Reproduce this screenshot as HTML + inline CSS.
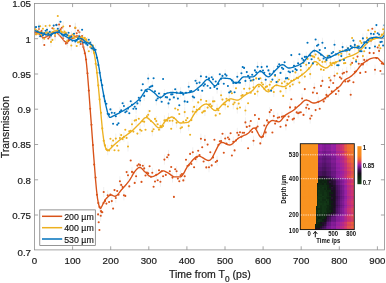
<!DOCTYPE html><html><head><meta charset="utf-8"><title>Transmission vs time</title><style>html,body{margin:0;padding:0;background:#fff}body{width:386px;height:283px;overflow:hidden}</style></head><body><svg width="386" height="283" viewBox="0 0 386 283" style="display:block;font-family:'Liberation Sans',Arial,sans-serif"><rect width="386" height="283" fill="#fff"/><defs><clipPath id="cp"><rect x="34.5" y="3.45" width="350.0" height="246.85000000000002"/></clipPath></defs><g clip-path="url(#cp)"><path d="M34.8 27.3V37.3M38.9 24.0V34.0M42.9 32.8V42.8M47.0 28.1V38.1M51.0 29.7V39.7M55.1 31.0V41.0M59.1 19.5V29.5M63.2 33.3V43.3M67.2 37.9V47.9M71.3 30.9V40.9M75.3 23.0V33.0M79.4 27.3V37.3M83.4 42.0V52.0M87.5 68.3V78.3M91.5 119.7V129.7M95.6 172.5V182.5M99.6 201.9V211.9M103.7 187.0V197.0M107.7 190.3V200.3M111.8 196.1V206.1M115.8 193.0V203.0M119.9 176.2V186.2M123.9 190.3V200.3M128.0 170.2V180.2M132.0 166.9V176.9M136.1 171.2V181.2M140.1 160.1V170.1M144.2 163.4V173.4M148.2 168.3V178.3M152.3 167.7V177.7M156.3 169.7V179.7M160.4 176.7V186.7M164.4 154.6V164.6M168.5 149.9V159.9M172.5 172.6V182.6M176.6 166.2V176.2M180.6 170.2V180.2M184.7 171.3V181.3M188.7 160.3V170.3M192.8 147.3V157.3M196.8 152.3V162.3M200.9 133.7V143.7M204.9 134.9V144.9M209.0 162.3V172.3M213.0 152.4V162.4M217.1 155.9V165.9M221.1 136.1V146.1M225.2 133.5V143.5M229.2 134.3V144.3M233.3 136.7V146.7M237.3 127.8V137.8M241.4 131.7V141.7M245.4 117.4V127.4M249.5 121.0V131.0M253.5 135.8V145.8M257.6 121.5V131.5M261.6 132.3V142.3M265.7 127.4V137.4M269.7 107.1V117.1M273.8 111.1V121.1M277.8 112.7V122.7M281.9 111.8V121.8M285.9 120.4V130.4M290.0 102.4V112.4M294.0 113.5V123.5M298.1 108.3V118.3M302.1 93.5V103.5M306.2 102.8V112.8M310.2 113.6V123.6M314.3 82.8V92.8M318.3 96.7V106.7M322.4 75.9V85.9M326.4 89.9V99.9M330.5 75.4V85.4M334.5 70.8V80.8M338.6 86.0V96.0M342.6 68.6V78.6M346.7 66.8V76.8M350.7 89.7V99.7M354.8 67.1V77.1M358.8 58.7V68.7M362.9 59.4V69.4M366.9 55.5V65.5M371.0 35.7V45.7M375.0 64.8V74.8M379.1 45.9V55.9M383.1 58.8V68.8M100.7 210.7V220.7M101.6 207.0V217.0" stroke="#d8d8d8" stroke-width="0.5" fill="none" opacity="0.7"/><g fill="#D95319"><circle cx="34.8" cy="32.3" r="1.05"/><circle cx="36.1" cy="34.3" r="1.05"/><circle cx="37.5" cy="31.7" r="1.05"/><circle cx="38.9" cy="29.0" r="1.05"/><circle cx="40.2" cy="32.4" r="1.05"/><circle cx="41.6" cy="30.9" r="1.05"/><circle cx="42.9" cy="37.8" r="1.05"/><circle cx="44.3" cy="45.0" r="1.05"/><circle cx="45.6" cy="34.5" r="1.05"/><circle cx="47.0" cy="33.1" r="1.05"/><circle cx="48.3" cy="38.5" r="1.05"/><circle cx="49.7" cy="37.0" r="1.05"/><circle cx="51.0" cy="34.7" r="1.05"/><circle cx="52.4" cy="28.2" r="1.05"/><circle cx="53.7" cy="32.4" r="1.05"/><circle cx="55.1" cy="36.0" r="1.05"/><circle cx="56.4" cy="25.1" r="1.05"/><circle cx="57.8" cy="31.0" r="1.05"/><circle cx="59.1" cy="24.5" r="1.05"/><circle cx="60.5" cy="29.4" r="1.05"/><circle cx="61.8" cy="27.8" r="1.05"/><circle cx="63.2" cy="38.3" r="1.05"/><circle cx="64.5" cy="34.2" r="1.05"/><circle cx="65.9" cy="43.6" r="1.05"/><circle cx="67.2" cy="42.9" r="1.05"/><circle cx="68.6" cy="40.1" r="1.05"/><circle cx="69.9" cy="26.1" r="1.05"/><circle cx="71.3" cy="35.9" r="1.05"/><circle cx="72.6" cy="37.8" r="1.05"/><circle cx="74.0" cy="37.8" r="1.05"/><circle cx="75.3" cy="28.0" r="1.05"/><circle cx="76.7" cy="33.3" r="1.05"/><circle cx="78.0" cy="30.6" r="1.05"/><circle cx="79.4" cy="32.3" r="1.05"/><circle cx="80.7" cy="44.0" r="1.05"/><circle cx="82.1" cy="36.0" r="1.05"/><circle cx="83.4" cy="47.0" r="1.05"/><circle cx="84.8" cy="53.2" r="1.05"/><circle cx="86.1" cy="59.5" r="1.05"/><circle cx="87.5" cy="73.3" r="1.05"/><circle cx="88.8" cy="90.6" r="1.05"/><circle cx="90.2" cy="108.8" r="1.05"/><circle cx="91.5" cy="124.7" r="1.05"/><circle cx="92.9" cy="145.0" r="1.05"/><circle cx="94.2" cy="164.6" r="1.05"/><circle cx="95.6" cy="177.5" r="1.05"/><circle cx="96.9" cy="194.8" r="1.05"/><circle cx="98.3" cy="203.0" r="1.05"/><circle cx="99.6" cy="206.9" r="1.05"/><circle cx="101.0" cy="211.1" r="1.05"/><circle cx="102.3" cy="212.2" r="1.05"/><circle cx="103.7" cy="192.0" r="1.05"/><circle cx="105.0" cy="200.9" r="1.05"/><circle cx="106.4" cy="203.6" r="1.05"/><circle cx="107.7" cy="195.3" r="1.05"/><circle cx="109.1" cy="202.0" r="1.05"/><circle cx="110.4" cy="194.5" r="1.05"/><circle cx="111.8" cy="201.1" r="1.05"/><circle cx="113.1" cy="208.6" r="1.05"/><circle cx="114.5" cy="190.1" r="1.05"/><circle cx="115.8" cy="198.0" r="1.05"/><circle cx="117.2" cy="191.0" r="1.05"/><circle cx="118.5" cy="194.8" r="1.05"/><circle cx="119.9" cy="181.2" r="1.05"/><circle cx="121.2" cy="184.9" r="1.05"/><circle cx="122.6" cy="186.9" r="1.05"/><circle cx="123.9" cy="195.3" r="1.05"/><circle cx="125.3" cy="195.9" r="1.05"/><circle cx="126.6" cy="172.1" r="1.05"/><circle cx="128.0" cy="175.2" r="1.05"/><circle cx="129.3" cy="186.4" r="1.05"/><circle cx="130.7" cy="160.5" r="1.05"/><circle cx="132.0" cy="171.9" r="1.05"/><circle cx="133.4" cy="172.8" r="1.05"/><circle cx="134.7" cy="182.9" r="1.05"/><circle cx="136.1" cy="176.2" r="1.05"/><circle cx="137.4" cy="165.6" r="1.05"/><circle cx="138.8" cy="164.2" r="1.05"/><circle cx="140.1" cy="165.1" r="1.05"/><circle cx="141.5" cy="181.9" r="1.05"/><circle cx="142.8" cy="165.8" r="1.05"/><circle cx="144.2" cy="168.4" r="1.05"/><circle cx="145.5" cy="175.5" r="1.05"/><circle cx="146.9" cy="172.6" r="1.05"/><circle cx="148.2" cy="173.3" r="1.05"/><circle cx="149.6" cy="166.2" r="1.05"/><circle cx="150.9" cy="176.7" r="1.05"/><circle cx="152.3" cy="172.7" r="1.05"/><circle cx="153.6" cy="186.8" r="1.05"/><circle cx="155.0" cy="181.5" r="1.05"/><circle cx="156.3" cy="174.7" r="1.05"/><circle cx="157.7" cy="180.2" r="1.05"/><circle cx="159.0" cy="170.3" r="1.05"/><circle cx="160.4" cy="181.7" r="1.05"/><circle cx="161.7" cy="171.2" r="1.05"/><circle cx="163.1" cy="176.2" r="1.05"/><circle cx="164.4" cy="159.6" r="1.05"/><circle cx="165.8" cy="174.9" r="1.05"/><circle cx="167.1" cy="157.3" r="1.05"/><circle cx="168.5" cy="154.9" r="1.05"/><circle cx="169.8" cy="171.3" r="1.05"/><circle cx="171.2" cy="167.0" r="1.05"/><circle cx="172.5" cy="177.6" r="1.05"/><circle cx="173.9" cy="196.9" r="1.05"/><circle cx="175.2" cy="169.3" r="1.05"/><circle cx="176.6" cy="171.2" r="1.05"/><circle cx="177.9" cy="178.6" r="1.05"/><circle cx="179.3" cy="181.2" r="1.05"/><circle cx="180.6" cy="175.2" r="1.05"/><circle cx="182.0" cy="174.1" r="1.05"/><circle cx="183.3" cy="180.4" r="1.05"/><circle cx="184.7" cy="176.3" r="1.05"/><circle cx="186.0" cy="159.7" r="1.05"/><circle cx="187.4" cy="166.0" r="1.05"/><circle cx="188.7" cy="165.3" r="1.05"/><circle cx="190.1" cy="153.9" r="1.05"/><circle cx="191.4" cy="164.0" r="1.05"/><circle cx="192.8" cy="152.3" r="1.05"/><circle cx="194.1" cy="167.3" r="1.05"/><circle cx="195.5" cy="159.1" r="1.05"/><circle cx="196.8" cy="157.3" r="1.05"/><circle cx="198.2" cy="150.8" r="1.05"/><circle cx="199.5" cy="155.1" r="1.05"/><circle cx="200.9" cy="138.7" r="1.05"/><circle cx="202.2" cy="147.2" r="1.05"/><circle cx="203.6" cy="161.5" r="1.05"/><circle cx="204.9" cy="139.9" r="1.05"/><circle cx="206.3" cy="167.4" r="1.05"/><circle cx="207.6" cy="144.6" r="1.05"/><circle cx="209.0" cy="167.3" r="1.05"/><circle cx="210.3" cy="152.3" r="1.05"/><circle cx="211.7" cy="165.4" r="1.05"/><circle cx="213.0" cy="157.4" r="1.05"/><circle cx="214.4" cy="139.7" r="1.05"/><circle cx="215.7" cy="162.0" r="1.05"/><circle cx="217.1" cy="160.9" r="1.05"/><circle cx="218.4" cy="144.9" r="1.05"/><circle cx="219.8" cy="141.2" r="1.05"/><circle cx="221.1" cy="141.1" r="1.05"/><circle cx="222.5" cy="133.7" r="1.05"/><circle cx="223.8" cy="152.7" r="1.05"/><circle cx="225.2" cy="138.5" r="1.05"/><circle cx="226.5" cy="143.6" r="1.05"/><circle cx="227.9" cy="137.5" r="1.05"/><circle cx="229.2" cy="139.3" r="1.05"/><circle cx="230.6" cy="133.3" r="1.05"/><circle cx="231.9" cy="155.5" r="1.05"/><circle cx="233.3" cy="141.7" r="1.05"/><circle cx="234.6" cy="150.4" r="1.05"/><circle cx="236.0" cy="140.5" r="1.05"/><circle cx="237.3" cy="132.8" r="1.05"/><circle cx="238.7" cy="135.1" r="1.05"/><circle cx="240.0" cy="132.2" r="1.05"/><circle cx="241.4" cy="136.7" r="1.05"/><circle cx="242.7" cy="132.7" r="1.05"/><circle cx="244.1" cy="132.7" r="1.05"/><circle cx="245.4" cy="122.4" r="1.05"/><circle cx="246.8" cy="126.9" r="1.05"/><circle cx="248.1" cy="148.2" r="1.05"/><circle cx="249.5" cy="126.0" r="1.05"/><circle cx="250.8" cy="121.0" r="1.05"/><circle cx="252.2" cy="132.1" r="1.05"/><circle cx="253.5" cy="140.8" r="1.05"/><circle cx="254.9" cy="115.1" r="1.05"/><circle cx="256.2" cy="127.9" r="1.05"/><circle cx="257.6" cy="126.5" r="1.05"/><circle cx="258.9" cy="118.9" r="1.05"/><circle cx="260.3" cy="143.4" r="1.05"/><circle cx="261.6" cy="137.3" r="1.05"/><circle cx="263.0" cy="136.5" r="1.05"/><circle cx="264.3" cy="125.5" r="1.05"/><circle cx="265.7" cy="132.4" r="1.05"/><circle cx="267.0" cy="120.4" r="1.05"/><circle cx="268.4" cy="122.3" r="1.05"/><circle cx="269.7" cy="112.1" r="1.05"/><circle cx="271.1" cy="110.0" r="1.05"/><circle cx="272.4" cy="132.5" r="1.05"/><circle cx="273.8" cy="116.1" r="1.05"/><circle cx="275.1" cy="123.6" r="1.05"/><circle cx="276.5" cy="121.1" r="1.05"/><circle cx="277.8" cy="117.7" r="1.05"/><circle cx="279.2" cy="117.2" r="1.05"/><circle cx="280.5" cy="126.7" r="1.05"/><circle cx="281.9" cy="116.8" r="1.05"/><circle cx="283.2" cy="116.3" r="1.05"/><circle cx="284.6" cy="116.2" r="1.05"/><circle cx="285.9" cy="125.4" r="1.05"/><circle cx="287.3" cy="120.1" r="1.05"/><circle cx="288.6" cy="116.6" r="1.05"/><circle cx="290.0" cy="107.4" r="1.05"/><circle cx="291.3" cy="99.2" r="1.05"/><circle cx="292.7" cy="119.4" r="1.05"/><circle cx="294.0" cy="118.5" r="1.05"/><circle cx="295.4" cy="107.4" r="1.05"/><circle cx="296.7" cy="112.4" r="1.05"/><circle cx="298.1" cy="113.3" r="1.05"/><circle cx="299.4" cy="112.6" r="1.05"/><circle cx="300.8" cy="112.3" r="1.05"/><circle cx="302.1" cy="98.5" r="1.05"/><circle cx="303.5" cy="114.9" r="1.05"/><circle cx="304.8" cy="89.1" r="1.05"/><circle cx="306.2" cy="107.8" r="1.05"/><circle cx="307.5" cy="104.7" r="1.05"/><circle cx="308.9" cy="108.7" r="1.05"/><circle cx="310.2" cy="118.6" r="1.05"/><circle cx="311.6" cy="115.7" r="1.05"/><circle cx="312.9" cy="92.6" r="1.05"/><circle cx="314.3" cy="87.8" r="1.05"/><circle cx="315.6" cy="110.1" r="1.05"/><circle cx="317.0" cy="93.2" r="1.05"/><circle cx="318.3" cy="101.7" r="1.05"/><circle cx="319.7" cy="108.8" r="1.05"/><circle cx="321.0" cy="85.9" r="1.05"/><circle cx="322.4" cy="80.9" r="1.05"/><circle cx="323.7" cy="101.4" r="1.05"/><circle cx="325.1" cy="98.5" r="1.05"/><circle cx="326.4" cy="94.9" r="1.05"/><circle cx="327.8" cy="96.4" r="1.05"/><circle cx="329.1" cy="87.3" r="1.05"/><circle cx="330.5" cy="80.4" r="1.05"/><circle cx="331.8" cy="91.4" r="1.05"/><circle cx="333.2" cy="83.0" r="1.05"/><circle cx="334.5" cy="75.8" r="1.05"/><circle cx="335.9" cy="94.0" r="1.05"/><circle cx="337.2" cy="87.8" r="1.05"/><circle cx="338.6" cy="91.0" r="1.05"/><circle cx="339.9" cy="77.2" r="1.05"/><circle cx="341.3" cy="78.6" r="1.05"/><circle cx="342.6" cy="73.6" r="1.05"/><circle cx="344.0" cy="72.8" r="1.05"/><circle cx="345.3" cy="81.4" r="1.05"/><circle cx="346.7" cy="71.8" r="1.05"/><circle cx="348.0" cy="81.4" r="1.05"/><circle cx="349.4" cy="80.5" r="1.05"/><circle cx="350.7" cy="94.7" r="1.05"/><circle cx="352.1" cy="62.9" r="1.05"/><circle cx="353.4" cy="82.2" r="1.05"/><circle cx="354.8" cy="72.1" r="1.05"/><circle cx="356.1" cy="71.3" r="1.05"/><circle cx="357.5" cy="56.6" r="1.05"/><circle cx="358.8" cy="63.7" r="1.05"/><circle cx="360.2" cy="72.9" r="1.05"/><circle cx="361.5" cy="64.1" r="1.05"/><circle cx="362.9" cy="64.4" r="1.05"/><circle cx="364.2" cy="59.9" r="1.05"/><circle cx="365.6" cy="72.0" r="1.05"/><circle cx="366.9" cy="60.5" r="1.05"/><circle cx="368.3" cy="40.1" r="1.05"/><circle cx="369.6" cy="52.9" r="1.05"/><circle cx="371.0" cy="40.7" r="1.05"/><circle cx="372.3" cy="28.8" r="1.05"/><circle cx="373.7" cy="53.1" r="1.05"/><circle cx="375.0" cy="69.8" r="1.05"/><circle cx="376.4" cy="58.1" r="1.05"/><circle cx="377.7" cy="47.5" r="1.05"/><circle cx="379.1" cy="50.9" r="1.05"/><circle cx="380.4" cy="71.0" r="1.05"/><circle cx="381.8" cy="63.5" r="1.05"/><circle cx="383.1" cy="63.8" r="1.05"/><circle cx="384.5" cy="64.3" r="1.05"/><circle cx="98.1" cy="214.4" r="1.05"/><circle cx="100.7" cy="215.7" r="1.05"/><circle cx="98.7" cy="222.2" r="1.05"/><circle cx="99.4" cy="230.0" r="1.05"/><circle cx="101.6" cy="212.0" r="1.05"/><circle cx="103.5" cy="203.0" r="1.05"/><circle cx="105.0" cy="200.5" r="1.05"/></g><path d="M34.5 32.2 L35.5 32.4 L36.5 32.8 L37.5 33.2 L38.5 33.7 L39.5 34.3 L40.5 35.2 L41.5 36.3 L42.5 37.3 L43.5 37.7 L44.5 37.6 L45.5 37.2 L46.5 36.7 L47.5 36.2 L48.5 35.7 L49.5 35.1 L50.5 34.5 L51.5 33.8 L52.5 33.2 L53.5 32.7 L54.5 32.3 L55.5 32.2 L56.5 32.5 L57.5 33.3 L58.5 34.3 L59.5 35.4 L60.5 36.5 L61.5 37.5 L62.5 38.8 L63.5 40.1 L64.5 41.2 L65.5 42.0 L66.5 42.2 L67.5 41.9 L68.5 41.2 L69.5 40.3 L70.5 39.5 L71.5 38.7 L72.5 38.1 L73.5 37.5 L74.5 36.8 L75.5 36.3 L76.5 36.0 L77.5 35.9 L78.5 36.2 L79.5 36.9 L80.5 37.9 L81.5 39.2 L82.5 42.5 L83.5 47.6 L84.5 51.0 L85.5 55.9 L86.5 63.7 L87.5 74.1 L88.5 86.4 L89.5 99.9 L90.5 113.4 L91.5 126.6 L92.5 140.1 L93.5 153.6 L94.5 166.4 L95.5 179.3 L96.5 190.0 L97.5 198.3 L98.5 203.9 L99.5 207.6 L100.5 208.6 L101.5 207.0 L102.5 205.0 L103.5 203.1 L104.5 201.1 L105.5 199.4 L106.5 198.2 L107.5 197.2 L108.5 196.2 L109.5 195.5 L110.5 195.1 L111.5 195.0 L112.5 195.4 L113.5 195.9 L114.5 196.2 L115.5 196.2 L116.5 195.7 L117.5 194.8 L118.5 193.6 L119.5 192.3 L120.5 191.0 L121.5 189.8 L122.5 188.7 L123.5 187.6 L124.5 186.5 L125.5 185.3 L126.5 184.2 L127.5 182.9 L128.5 181.6 L129.5 180.3 L130.5 178.7 L131.5 177.0 L132.5 175.2 L133.5 173.5 L134.5 171.9 L135.5 170.6 L136.5 169.5 L137.5 168.5 L138.5 167.7 L139.5 167.3 L140.5 167.5 L141.5 168.3 L142.5 169.3 L143.5 170.4 L144.5 171.4 L145.5 172.3 L146.5 173.3 L147.5 174.4 L148.5 175.4 L149.5 176.2 L150.5 176.7 L151.5 176.8 L152.5 176.6 L153.5 176.3 L154.5 175.9 L155.5 175.4 L156.5 174.8 L157.5 174.3 L158.5 173.7 L159.5 172.9 L160.5 172.1 L161.5 171.4 L162.5 170.9 L163.5 170.9 L164.5 171.2 L165.5 171.6 L166.5 172.2 L167.5 172.7 L168.5 173.2 L169.5 173.9 L170.5 174.6 L171.5 175.4 L172.5 176.1 L173.5 176.6 L174.5 176.8 L175.5 176.8 L176.5 176.8 L177.5 176.8 L178.5 176.8 L179.5 176.8 L180.5 176.8 L181.5 176.3 L182.5 175.2 L183.5 173.7 L184.5 171.9 L185.5 169.9 L186.5 168.1 L187.5 166.5 L188.5 165.2 L189.5 164.0 L190.5 162.8 L191.5 161.5 L192.5 160.3 L193.5 159.2 L194.5 158.2 L195.5 157.3 L196.5 156.7 L197.5 156.3 L198.5 156.1 L199.5 156.2 L200.5 156.5 L201.5 157.0 L202.5 157.6 L203.5 158.2 L204.5 158.8 L205.5 159.4 L206.5 159.9 L207.5 160.3 L208.5 160.5 L209.5 160.4 L210.5 159.7 L211.5 158.6 L212.5 157.1 L213.5 155.2 L214.5 153.2 L215.5 151.1 L216.5 149.1 L217.5 147.1 L218.5 145.3 L219.5 143.9 L220.5 142.9 L221.5 142.4 L222.5 142.5 L223.5 142.7 L224.5 143.1 L225.5 143.6 L226.5 144.1 L227.5 144.5 L228.5 144.9 L229.5 145.0 L230.5 144.9 L231.5 144.4 L232.5 143.7 L233.5 142.8 L234.5 141.8 L235.5 140.8 L236.5 139.8 L237.5 138.9 L238.5 138.1 L239.5 137.5 L240.5 137.0 L241.5 136.6 L242.5 136.1 L243.5 135.7 L244.5 135.2 L245.5 134.8 L246.5 134.3 L247.5 133.7 L248.5 133.0 L249.5 132.0 L250.5 130.8 L251.5 129.7 L252.5 128.7 L253.5 128.1 L254.5 128.0 L255.5 128.8 L256.5 130.2 L257.5 132.1 L258.5 134.0 L259.5 135.8 L260.5 137.0 L261.5 137.5 L262.5 136.7 L263.5 134.5 L264.5 131.7 L265.5 128.7 L266.5 126.2 L267.5 124.6 L268.5 123.4 L269.5 122.3 L270.5 121.3 L271.5 120.7 L272.5 120.5 L273.5 120.6 L274.5 120.8 L275.5 121.1 L276.5 121.4 L277.5 121.6 L278.5 121.8 L279.5 121.7 L280.5 121.0 L281.5 119.9 L282.5 118.6 L283.5 117.3 L284.5 116.1 L285.5 115.1 L286.5 114.4 L287.5 113.8 L288.5 113.2 L289.5 112.7 L290.5 112.1 L291.5 111.5 L292.5 110.9 L293.5 110.2 L294.5 109.4 L295.5 108.6 L296.5 107.7 L297.5 106.8 L298.5 105.9 L299.5 105.1 L300.5 104.2 L301.5 103.2 L302.5 102.2 L303.5 101.3 L304.5 100.5 L305.5 100.1 L306.5 100.0 L307.5 100.3 L308.5 100.7 L309.5 101.2 L310.5 101.8 L311.5 102.4 L312.5 102.8 L313.5 103.0 L314.5 103.0 L315.5 102.8 L316.5 102.5 L317.5 102.2 L318.5 101.8 L319.5 101.3 L320.5 100.9 L321.5 100.4 L322.5 99.8 L323.5 99.2 L324.5 98.5 L325.5 97.8 L326.5 97.0 L327.5 96.2 L328.5 95.5 L329.5 94.7 L330.5 93.9 L331.5 93.1 L332.5 92.3 L333.5 91.4 L334.5 90.6 L335.5 89.7 L336.5 88.9 L337.5 88.1 L338.5 87.3 L339.5 86.5 L340.5 85.5 L341.5 84.1 L342.5 82.7 L343.5 81.4 L344.5 80.3 L345.5 79.5 L346.5 78.9 L347.5 78.4 L348.5 77.9 L349.5 77.3 L350.5 76.6 L351.5 75.9 L352.5 75.0 L353.5 74.1 L354.5 73.2 L355.5 72.1 L356.5 70.9 L357.5 69.6 L358.5 68.3 L359.5 67.0 L360.5 65.8 L361.5 64.8 L362.5 63.9 L363.5 63.1 L364.5 62.3 L365.5 61.6 L366.5 61.0 L367.5 60.4 L368.5 59.7 L369.5 59.1 L370.5 58.6 L371.5 58.3 L372.5 58.1 L373.5 57.9 L374.5 57.8 L375.5 57.7 L376.5 57.7 L377.5 57.9 L378.5 58.7 L379.5 59.9 L380.5 60.9 L381.5 61.8 L382.5 62.8 L383.5 63.8 L384.5 64.8" fill="none" stroke="#D95319" stroke-width="1.35" stroke-linejoin="round"/><path d="M34.8 24.0V34.0M38.9 27.7V37.7M42.9 23.8V33.8M47.0 27.3V37.3M51.0 36.9V46.9M55.1 30.0V40.0M59.1 27.0V37.0M63.2 21.5V31.5M67.2 36.0V46.0M71.3 40.5V50.5M75.3 22.6V32.6M79.4 36.9V46.9M83.4 34.1V44.1M87.5 37.0V47.0M91.5 40.2V50.2M95.6 58.7V68.7M99.6 94.4V104.4M103.7 135.7V145.7M107.7 145.2V155.2M111.8 140.8V150.8M115.8 133.6V143.6M119.9 133.0V143.0M123.9 131.9V141.9M128.0 141.5V151.5M132.0 119.3V129.3M136.1 115.1V125.1M140.1 124.7V134.7M144.2 116.8V126.8M148.2 109.7V119.7M152.3 126.2V136.2M156.3 116.0V126.0M160.4 121.1V131.1M164.4 115.4V125.4M168.5 112.9V122.9M172.5 115.7V125.7M176.6 117.8V127.8M180.6 123.3V133.3M184.7 107.1V117.1M188.7 120.9V130.9M192.8 106.6V116.6M196.8 104.8V114.8M200.9 94.7V104.7M204.9 106.0V116.0M209.0 99.5V109.5M213.0 96.4V106.4M217.1 103.7V113.7M221.1 90.2V100.2M225.2 99.6V109.6M229.2 95.6V105.6M233.3 99.3V109.3M237.3 103.6V113.6M241.4 90.7V100.7M245.4 105.5V115.5M249.5 83.6V93.6M253.5 82.2V92.2M257.6 86.5V96.5M261.6 77.7V87.7M265.7 82.1V92.1M269.7 79.7V89.7M273.8 87.0V97.0M277.8 76.5V86.5M281.9 78.2V88.2M285.9 83.3V93.3M290.0 81.3V91.3M294.0 74.7V84.7M298.1 72.9V82.9M302.1 69.5V79.5M306.2 59.7V69.7M310.2 69.1V79.1M314.3 52.1V62.1M318.3 53.4V63.4M322.4 56.9V66.9M326.4 55.4V65.4M330.5 57.9V67.9M334.5 58.6V68.6M338.6 49.8V59.8M342.6 46.0V56.0M346.7 46.3V56.3M350.7 59.6V69.6M354.8 42.6V52.6M358.8 45.0V55.0M362.9 51.1V61.1M366.9 32.9V42.9M371.0 35.2V45.2M375.0 26.7V36.7M379.1 40.4V50.4M383.1 24.3V34.3" stroke="#d8d8d8" stroke-width="0.5" fill="none" opacity="0.7"/><g fill="#EDB120"><circle cx="34.8" cy="29.0" r="1.05"/><circle cx="36.1" cy="34.3" r="1.05"/><circle cx="37.5" cy="33.8" r="1.05"/><circle cx="38.9" cy="32.7" r="1.05"/><circle cx="40.2" cy="26.3" r="1.05"/><circle cx="41.6" cy="35.1" r="1.05"/><circle cx="42.9" cy="28.8" r="1.05"/><circle cx="44.3" cy="38.8" r="1.05"/><circle cx="45.6" cy="26.0" r="1.05"/><circle cx="47.0" cy="32.3" r="1.05"/><circle cx="48.3" cy="33.1" r="1.05"/><circle cx="49.7" cy="25.6" r="1.05"/><circle cx="51.0" cy="41.9" r="1.05"/><circle cx="52.4" cy="39.9" r="1.05"/><circle cx="53.7" cy="28.7" r="1.05"/><circle cx="55.1" cy="35.0" r="1.05"/><circle cx="56.4" cy="32.5" r="1.05"/><circle cx="57.8" cy="16.0" r="1.05"/><circle cx="59.1" cy="32.0" r="1.05"/><circle cx="60.5" cy="30.8" r="1.05"/><circle cx="61.8" cy="32.2" r="1.05"/><circle cx="63.2" cy="26.5" r="1.05"/><circle cx="64.5" cy="31.6" r="1.05"/><circle cx="65.9" cy="32.8" r="1.05"/><circle cx="67.2" cy="41.0" r="1.05"/><circle cx="68.6" cy="37.2" r="1.05"/><circle cx="69.9" cy="36.2" r="1.05"/><circle cx="71.3" cy="45.5" r="1.05"/><circle cx="72.6" cy="34.5" r="1.05"/><circle cx="74.0" cy="35.5" r="1.05"/><circle cx="75.3" cy="27.6" r="1.05"/><circle cx="76.7" cy="46.0" r="1.05"/><circle cx="78.0" cy="42.4" r="1.05"/><circle cx="79.4" cy="41.9" r="1.05"/><circle cx="80.7" cy="40.5" r="1.05"/><circle cx="82.1" cy="37.7" r="1.05"/><circle cx="83.4" cy="39.1" r="1.05"/><circle cx="84.8" cy="37.7" r="1.05"/><circle cx="86.1" cy="39.3" r="1.05"/><circle cx="87.5" cy="42.0" r="1.05"/><circle cx="88.8" cy="51.2" r="1.05"/><circle cx="90.2" cy="47.0" r="1.05"/><circle cx="91.5" cy="45.2" r="1.05"/><circle cx="92.9" cy="45.5" r="1.05"/><circle cx="94.2" cy="52.9" r="1.05"/><circle cx="95.6" cy="63.7" r="1.05"/><circle cx="96.9" cy="72.8" r="1.05"/><circle cx="98.3" cy="85.4" r="1.05"/><circle cx="99.6" cy="99.4" r="1.05"/><circle cx="101.0" cy="112.7" r="1.05"/><circle cx="102.3" cy="128.4" r="1.05"/><circle cx="103.7" cy="140.7" r="1.05"/><circle cx="105.0" cy="145.4" r="1.05"/><circle cx="106.4" cy="149.3" r="1.05"/><circle cx="107.7" cy="150.2" r="1.05"/><circle cx="109.1" cy="150.5" r="1.05"/><circle cx="110.4" cy="138.8" r="1.05"/><circle cx="111.8" cy="145.8" r="1.05"/><circle cx="113.1" cy="140.6" r="1.05"/><circle cx="114.5" cy="150.2" r="1.05"/><circle cx="115.8" cy="138.6" r="1.05"/><circle cx="117.2" cy="145.8" r="1.05"/><circle cx="118.5" cy="150.5" r="1.05"/><circle cx="119.9" cy="138.0" r="1.05"/><circle cx="121.2" cy="135.1" r="1.05"/><circle cx="122.6" cy="139.1" r="1.05"/><circle cx="123.9" cy="136.9" r="1.05"/><circle cx="125.3" cy="129.8" r="1.05"/><circle cx="126.6" cy="137.9" r="1.05"/><circle cx="128.0" cy="146.5" r="1.05"/><circle cx="129.3" cy="131.4" r="1.05"/><circle cx="130.7" cy="130.7" r="1.05"/><circle cx="132.0" cy="124.3" r="1.05"/><circle cx="133.4" cy="131.6" r="1.05"/><circle cx="134.7" cy="120.6" r="1.05"/><circle cx="136.1" cy="120.1" r="1.05"/><circle cx="137.4" cy="133.6" r="1.05"/><circle cx="138.8" cy="118.7" r="1.05"/><circle cx="140.1" cy="129.7" r="1.05"/><circle cx="141.5" cy="130.8" r="1.05"/><circle cx="142.8" cy="121.3" r="1.05"/><circle cx="144.2" cy="121.8" r="1.05"/><circle cx="145.5" cy="129.7" r="1.05"/><circle cx="146.9" cy="116.4" r="1.05"/><circle cx="148.2" cy="114.7" r="1.05"/><circle cx="149.6" cy="111.1" r="1.05"/><circle cx="150.9" cy="121.0" r="1.05"/><circle cx="152.3" cy="131.2" r="1.05"/><circle cx="153.6" cy="129.2" r="1.05"/><circle cx="155.0" cy="118.9" r="1.05"/><circle cx="156.3" cy="121.0" r="1.05"/><circle cx="157.7" cy="124.3" r="1.05"/><circle cx="159.0" cy="129.7" r="1.05"/><circle cx="160.4" cy="126.1" r="1.05"/><circle cx="161.7" cy="127.3" r="1.05"/><circle cx="163.1" cy="126.0" r="1.05"/><circle cx="164.4" cy="120.4" r="1.05"/><circle cx="165.8" cy="120.3" r="1.05"/><circle cx="167.1" cy="120.7" r="1.05"/><circle cx="168.5" cy="117.9" r="1.05"/><circle cx="169.8" cy="120.8" r="1.05"/><circle cx="171.2" cy="128.7" r="1.05"/><circle cx="172.5" cy="120.7" r="1.05"/><circle cx="173.9" cy="118.1" r="1.05"/><circle cx="175.2" cy="108.5" r="1.05"/><circle cx="176.6" cy="122.8" r="1.05"/><circle cx="177.9" cy="109.7" r="1.05"/><circle cx="179.3" cy="114.0" r="1.05"/><circle cx="180.6" cy="128.3" r="1.05"/><circle cx="182.0" cy="127.3" r="1.05"/><circle cx="183.3" cy="121.9" r="1.05"/><circle cx="184.7" cy="112.1" r="1.05"/><circle cx="186.0" cy="120.3" r="1.05"/><circle cx="187.4" cy="118.1" r="1.05"/><circle cx="188.7" cy="125.9" r="1.05"/><circle cx="190.1" cy="134.7" r="1.05"/><circle cx="191.4" cy="120.1" r="1.05"/><circle cx="192.8" cy="111.6" r="1.05"/><circle cx="194.1" cy="106.9" r="1.05"/><circle cx="195.5" cy="111.9" r="1.05"/><circle cx="196.8" cy="109.8" r="1.05"/><circle cx="198.2" cy="102.4" r="1.05"/><circle cx="199.5" cy="108.9" r="1.05"/><circle cx="200.9" cy="99.7" r="1.05"/><circle cx="202.2" cy="112.6" r="1.05"/><circle cx="203.6" cy="111.4" r="1.05"/><circle cx="204.9" cy="111.0" r="1.05"/><circle cx="206.3" cy="101.1" r="1.05"/><circle cx="207.6" cy="107.6" r="1.05"/><circle cx="209.0" cy="104.5" r="1.05"/><circle cx="210.3" cy="104.3" r="1.05"/><circle cx="211.7" cy="106.1" r="1.05"/><circle cx="213.0" cy="101.4" r="1.05"/><circle cx="214.4" cy="101.3" r="1.05"/><circle cx="215.7" cy="115.4" r="1.05"/><circle cx="217.1" cy="108.7" r="1.05"/><circle cx="218.4" cy="110.2" r="1.05"/><circle cx="219.8" cy="113.7" r="1.05"/><circle cx="221.1" cy="95.2" r="1.05"/><circle cx="222.5" cy="99.6" r="1.05"/><circle cx="223.8" cy="104.2" r="1.05"/><circle cx="225.2" cy="104.6" r="1.05"/><circle cx="226.5" cy="98.8" r="1.05"/><circle cx="227.9" cy="106.5" r="1.05"/><circle cx="229.2" cy="100.6" r="1.05"/><circle cx="230.6" cy="91.4" r="1.05"/><circle cx="231.9" cy="93.2" r="1.05"/><circle cx="233.3" cy="104.3" r="1.05"/><circle cx="234.6" cy="102.6" r="1.05"/><circle cx="236.0" cy="88.3" r="1.05"/><circle cx="237.3" cy="108.6" r="1.05"/><circle cx="238.7" cy="103.6" r="1.05"/><circle cx="240.0" cy="107.5" r="1.05"/><circle cx="241.4" cy="95.7" r="1.05"/><circle cx="242.7" cy="95.1" r="1.05"/><circle cx="244.1" cy="88.8" r="1.05"/><circle cx="245.4" cy="110.5" r="1.05"/><circle cx="246.8" cy="93.0" r="1.05"/><circle cx="248.1" cy="103.2" r="1.05"/><circle cx="249.5" cy="88.6" r="1.05"/><circle cx="250.8" cy="92.8" r="1.05"/><circle cx="252.2" cy="80.5" r="1.05"/><circle cx="253.5" cy="87.2" r="1.05"/><circle cx="254.9" cy="93.9" r="1.05"/><circle cx="256.2" cy="78.4" r="1.05"/><circle cx="257.6" cy="91.5" r="1.05"/><circle cx="258.9" cy="86.4" r="1.05"/><circle cx="260.3" cy="78.2" r="1.05"/><circle cx="261.6" cy="82.7" r="1.05"/><circle cx="263.0" cy="84.5" r="1.05"/><circle cx="264.3" cy="88.7" r="1.05"/><circle cx="265.7" cy="87.1" r="1.05"/><circle cx="267.0" cy="86.4" r="1.05"/><circle cx="268.4" cy="89.9" r="1.05"/><circle cx="269.7" cy="84.7" r="1.05"/><circle cx="271.1" cy="81.7" r="1.05"/><circle cx="272.4" cy="87.8" r="1.05"/><circle cx="273.8" cy="92.0" r="1.05"/><circle cx="275.1" cy="76.0" r="1.05"/><circle cx="276.5" cy="85.3" r="1.05"/><circle cx="277.8" cy="81.5" r="1.05"/><circle cx="279.2" cy="79.7" r="1.05"/><circle cx="280.5" cy="91.4" r="1.05"/><circle cx="281.9" cy="83.2" r="1.05"/><circle cx="283.2" cy="95.9" r="1.05"/><circle cx="284.6" cy="81.6" r="1.05"/><circle cx="285.9" cy="88.3" r="1.05"/><circle cx="287.3" cy="83.5" r="1.05"/><circle cx="288.6" cy="79.2" r="1.05"/><circle cx="290.0" cy="86.3" r="1.05"/><circle cx="291.3" cy="80.7" r="1.05"/><circle cx="292.7" cy="84.5" r="1.05"/><circle cx="294.0" cy="79.7" r="1.05"/><circle cx="295.4" cy="72.4" r="1.05"/><circle cx="296.7" cy="77.7" r="1.05"/><circle cx="298.1" cy="77.9" r="1.05"/><circle cx="299.4" cy="82.6" r="1.05"/><circle cx="300.8" cy="70.1" r="1.05"/><circle cx="302.1" cy="74.5" r="1.05"/><circle cx="303.5" cy="63.0" r="1.05"/><circle cx="304.8" cy="76.6" r="1.05"/><circle cx="306.2" cy="64.7" r="1.05"/><circle cx="307.5" cy="58.9" r="1.05"/><circle cx="308.9" cy="68.4" r="1.05"/><circle cx="310.2" cy="74.1" r="1.05"/><circle cx="311.6" cy="55.8" r="1.05"/><circle cx="312.9" cy="56.4" r="1.05"/><circle cx="314.3" cy="57.1" r="1.05"/><circle cx="315.6" cy="54.6" r="1.05"/><circle cx="317.0" cy="64.6" r="1.05"/><circle cx="318.3" cy="58.4" r="1.05"/><circle cx="319.7" cy="60.2" r="1.05"/><circle cx="321.0" cy="69.4" r="1.05"/><circle cx="322.4" cy="61.9" r="1.05"/><circle cx="323.7" cy="70.0" r="1.05"/><circle cx="325.1" cy="61.8" r="1.05"/><circle cx="326.4" cy="60.4" r="1.05"/><circle cx="327.8" cy="55.9" r="1.05"/><circle cx="329.1" cy="77.7" r="1.05"/><circle cx="330.5" cy="62.9" r="1.05"/><circle cx="331.8" cy="65.3" r="1.05"/><circle cx="333.2" cy="62.9" r="1.05"/><circle cx="334.5" cy="63.6" r="1.05"/><circle cx="335.9" cy="62.4" r="1.05"/><circle cx="337.2" cy="73.5" r="1.05"/><circle cx="338.6" cy="54.8" r="1.05"/><circle cx="339.9" cy="51.0" r="1.05"/><circle cx="341.3" cy="53.7" r="1.05"/><circle cx="342.6" cy="51.0" r="1.05"/><circle cx="344.0" cy="63.2" r="1.05"/><circle cx="345.3" cy="63.0" r="1.05"/><circle cx="346.7" cy="51.3" r="1.05"/><circle cx="348.0" cy="48.2" r="1.05"/><circle cx="349.4" cy="54.2" r="1.05"/><circle cx="350.7" cy="64.6" r="1.05"/><circle cx="352.1" cy="38.0" r="1.05"/><circle cx="353.4" cy="58.2" r="1.05"/><circle cx="354.8" cy="47.6" r="1.05"/><circle cx="356.1" cy="60.0" r="1.05"/><circle cx="357.5" cy="46.1" r="1.05"/><circle cx="358.8" cy="50.0" r="1.05"/><circle cx="360.2" cy="41.1" r="1.05"/><circle cx="361.5" cy="42.9" r="1.05"/><circle cx="362.9" cy="56.1" r="1.05"/><circle cx="364.2" cy="51.2" r="1.05"/><circle cx="365.6" cy="42.2" r="1.05"/><circle cx="366.9" cy="37.9" r="1.05"/><circle cx="368.3" cy="30.3" r="1.05"/><circle cx="369.6" cy="38.7" r="1.05"/><circle cx="371.0" cy="40.2" r="1.05"/><circle cx="372.3" cy="39.2" r="1.05"/><circle cx="373.7" cy="38.6" r="1.05"/><circle cx="375.0" cy="31.7" r="1.05"/><circle cx="376.4" cy="37.9" r="1.05"/><circle cx="377.7" cy="37.7" r="1.05"/><circle cx="379.1" cy="45.4" r="1.05"/><circle cx="380.4" cy="48.2" r="1.05"/><circle cx="381.8" cy="34.6" r="1.05"/><circle cx="383.1" cy="29.3" r="1.05"/><circle cx="384.5" cy="32.0" r="1.05"/></g><path d="M34.5 28.6 L35.5 29.4 L36.5 30.1 L37.5 30.7 L38.5 31.3 L39.5 31.8 L40.5 32.1 L41.5 32.3 L42.5 32.5 L43.5 32.7 L44.5 32.8 L45.5 33.0 L46.5 33.0 L47.5 33.1 L48.5 33.1 L49.5 32.9 L50.5 32.6 L51.5 32.3 L52.5 31.8 L53.5 31.4 L54.5 31.0 L55.5 30.6 L56.5 30.4 L57.5 30.4 L58.5 30.5 L59.5 30.8 L60.5 31.1 L61.5 31.6 L62.5 32.1 L63.5 32.6 L64.5 33.1 L65.5 33.6 L66.5 34.1 L67.5 34.6 L68.5 35.3 L69.5 36.0 L70.5 36.6 L71.5 37.2 L72.5 37.6 L73.5 37.7 L74.5 37.7 L75.5 37.5 L76.5 37.4 L77.5 37.2 L78.5 37.0 L79.5 36.9 L80.5 36.8 L81.5 36.9 L82.5 37.3 L83.5 38.0 L84.5 38.8 L85.5 39.8 L86.5 40.8 L87.5 41.8 L88.5 42.6 L89.5 43.4 L90.5 44.3 L91.5 45.5 L92.5 47.6 L93.5 51.0 L94.5 55.2 L95.5 61.0 L96.5 68.5 L97.5 77.7 L98.5 87.9 L99.5 98.8 L100.5 109.6 L101.5 120.0 L102.5 130.6 L103.5 138.5 L104.5 144.1 L105.5 147.5 L106.5 150.0 L107.5 150.6 L108.5 150.1 L109.5 149.5 L110.5 148.6 L111.5 147.5 L112.5 146.5 L113.5 145.6 L114.5 144.6 L115.5 143.7 L116.5 142.8 L117.5 141.9 L118.5 141.0 L119.5 140.2 L120.5 139.4 L121.5 138.7 L122.5 137.9 L123.5 137.2 L124.5 136.5 L125.5 135.8 L126.5 135.1 L127.5 134.3 L128.5 133.6 L129.5 132.9 L130.5 132.1 L131.5 131.3 L132.5 130.4 L133.5 129.5 L134.5 128.5 L135.5 127.5 L136.5 126.5 L137.5 125.6 L138.5 124.6 L139.5 123.6 L140.5 122.5 L141.5 121.3 L142.5 120.1 L143.5 119.0 L144.5 118.1 L145.5 117.6 L146.5 117.6 L147.5 117.9 L148.5 118.6 L149.5 119.4 L150.5 120.4 L151.5 121.3 L152.5 122.2 L153.5 123.1 L154.5 124.2 L155.5 125.4 L156.5 126.5 L157.5 127.3 L158.5 127.8 L159.5 127.8 L160.5 127.3 L161.5 126.3 L162.5 125.0 L163.5 123.5 L164.5 122.1 L165.5 120.8 L166.5 119.8 L167.5 119.1 L168.5 118.4 L169.5 117.8 L170.5 117.3 L171.5 117.0 L172.5 117.1 L173.5 117.5 L174.5 118.3 L175.5 119.3 L176.5 120.3 L177.5 121.3 L178.5 122.2 L179.5 122.8 L180.5 123.0 L181.5 123.0 L182.5 122.9 L183.5 122.9 L184.5 122.8 L185.5 122.6 L186.5 122.5 L187.5 122.3 L188.5 122.1 L189.5 121.3 L190.5 120.1 L191.5 118.6 L192.5 116.9 L193.5 115.2 L194.5 113.6 L195.5 112.2 L196.5 111.2 L197.5 110.2 L198.5 109.2 L199.5 108.1 L200.5 107.2 L201.5 106.3 L202.5 105.5 L203.5 104.9 L204.5 104.4 L205.5 104.1 L206.5 104.0 L207.5 104.3 L208.5 105.0 L209.5 105.9 L210.5 106.9 L211.5 108.0 L212.5 109.0 L213.5 109.8 L214.5 110.4 L215.5 110.5 L216.5 110.2 L217.5 109.6 L218.5 108.8 L219.5 107.8 L220.5 106.6 L221.5 105.5 L222.5 104.4 L223.5 103.4 L224.5 102.6 L225.5 101.9 L226.5 101.1 L227.5 100.3 L228.5 99.7 L229.5 99.2 L230.5 98.9 L231.5 98.9 L232.5 99.1 L233.5 99.4 L234.5 99.7 L235.5 99.9 L236.5 100.1 L237.5 100.2 L238.5 100.0 L239.5 99.5 L240.5 98.8 L241.5 98.0 L242.5 97.1 L243.5 96.2 L244.5 95.4 L245.5 94.8 L246.5 94.2 L247.5 93.6 L248.5 93.1 L249.5 92.6 L250.5 92.0 L251.5 91.3 L252.5 90.6 L253.5 89.5 L254.5 88.3 L255.5 87.0 L256.5 85.8 L257.5 84.9 L258.5 84.4 L259.5 84.4 L260.5 84.8 L261.5 85.7 L262.5 86.8 L263.5 88.0 L264.5 89.2 L265.5 90.3 L266.5 91.2 L267.5 91.7 L268.5 91.8 L269.5 91.2 L270.5 90.3 L271.5 89.2 L272.5 87.9 L273.5 86.8 L274.5 85.9 L275.5 85.3 L276.5 85.3 L277.5 85.4 L278.5 85.6 L279.5 85.9 L280.5 86.1 L281.5 86.3 L282.5 86.5 L283.5 86.6 L284.5 86.5 L285.5 86.1 L286.5 85.5 L287.5 84.8 L288.5 83.9 L289.5 83.0 L290.5 82.2 L291.5 81.5 L292.5 80.9 L293.5 80.3 L294.5 79.7 L295.5 79.1 L296.5 78.5 L297.5 77.9 L298.5 77.3 L299.5 76.6 L300.5 75.9 L301.5 75.2 L302.5 74.5 L303.5 73.7 L304.5 72.8 L305.5 72.0 L306.5 71.1 L307.5 70.1 L308.5 69.1 L309.5 68.1 L310.5 66.9 L311.5 65.3 L312.5 63.7 L313.5 62.4 L314.5 61.6 L315.5 61.6 L316.5 62.0 L317.5 62.7 L318.5 63.6 L319.5 64.5 L320.5 65.4 L321.5 66.1 L322.5 66.6 L323.5 67.2 L324.5 67.7 L325.5 68.0 L326.5 67.9 L327.5 67.5 L328.5 66.7 L329.5 65.8 L330.5 64.8 L331.5 64.0 L332.5 63.4 L333.5 63.0 L334.5 62.6 L335.5 62.2 L336.5 61.9 L337.5 61.6 L338.5 61.2 L339.5 60.8 L340.5 60.4 L341.5 59.9 L342.5 59.4 L343.5 58.8 L344.5 58.3 L345.5 57.8 L346.5 57.3 L347.5 56.9 L348.5 56.6 L349.5 56.3 L350.5 56.0 L351.5 55.7 L352.5 55.3 L353.5 54.9 L354.5 54.4 L355.5 53.9 L356.5 53.4 L357.5 52.7 L358.5 52.0 L359.5 51.1 L360.5 50.1 L361.5 49.0 L362.5 47.9 L363.5 46.9 L364.5 45.8 L365.5 44.7 L366.5 43.7 L367.5 42.7 L368.5 41.9 L369.5 41.2 L370.5 40.6 L371.5 40.1 L372.5 39.6 L373.5 39.2 L374.5 38.8 L375.5 38.5 L376.5 38.2 L377.5 38.0 L378.5 37.6 L379.5 37.2 L380.5 36.6 L381.5 35.7 L382.5 34.7 L383.5 33.6 L384.5 32.3" fill="none" stroke="#EDB120" stroke-width="1.35" stroke-linejoin="round"/><path d="M34.8 22.2V32.2M38.9 21.6V31.6M42.9 30.2V40.2M47.0 24.7V34.7M51.0 30.6V40.6M55.1 28.0V38.0M59.1 25.9V35.9M63.2 30.7V40.7M67.2 30.2V40.2M71.3 31.8V41.8M75.3 36.4V46.4M79.4 31.4V41.4M83.4 37.5V47.5M87.5 39.9V49.9M91.5 43.2V53.2M95.6 44.7V54.7M99.6 67.7V77.7M103.7 91.1V101.1M107.7 108.7V118.7M111.8 107.8V117.8M115.8 111.3V121.3M119.9 106.9V116.9M123.9 101.0V111.0M128.0 103.6V113.6M132.0 99.8V109.8M136.1 103.7V113.7M140.1 95.6V105.6M144.2 90.9V100.9M148.2 73.5V83.5M152.3 80.9V90.9M156.3 95.3V105.3M160.4 92.5V102.5M164.4 89.0V99.0M168.5 98.4V108.4M172.5 89.3V99.3M176.6 87.6V97.6M180.6 87.2V97.2M184.7 96.4V106.4M188.7 81.7V91.7M192.8 91.6V101.6M196.8 78.3V88.3M200.9 71.2V81.2M204.9 79.2V89.2M209.0 73.4V83.4M213.0 74.2V84.2M217.1 83.7V93.7M221.1 73.8V83.8M225.2 69.3V79.3M229.2 87.5V97.5M233.3 77.9V87.9M237.3 71.8V81.8M241.4 68.2V78.2M245.4 75.9V85.9M249.5 73.1V83.1M253.5 74.8V84.8M257.6 61.7V71.7M261.6 62.1V72.1M265.7 74.8V84.8M269.7 68.9V78.9M273.8 66.4V76.4M277.8 61.5V71.5M281.9 62.7V72.7M285.9 73.4V83.4M290.0 67.2V77.2M294.0 60.7V70.7M298.1 58.2V68.2M302.1 53.5V63.5M306.2 51.7V61.7M310.2 50.5V60.5M314.3 45.7V55.7M318.3 39.7V49.7M322.4 37.8V47.8M326.4 54.9V64.9M330.5 51.7V61.7M334.5 39.8V49.8M338.6 60.3V70.3M342.6 42.1V52.1M346.7 45.0V55.0M350.7 41.1V51.1M354.8 39.9V49.9M358.8 41.6V51.6M362.9 33.4V43.4M366.9 37.5V47.5M371.0 28.7V38.7M375.0 41.5V51.5M379.1 29.5V39.5M383.1 40.5V50.5" stroke="#d8d8d8" stroke-width="0.5" fill="none" opacity="0.7"/><g fill="#0072BD"><circle cx="34.8" cy="27.2" r="1.05"/><circle cx="36.1" cy="27.1" r="1.05"/><circle cx="37.5" cy="31.5" r="1.05"/><circle cx="38.9" cy="26.6" r="1.05"/><circle cx="40.2" cy="36.2" r="1.05"/><circle cx="41.6" cy="32.7" r="1.05"/><circle cx="42.9" cy="35.2" r="1.05"/><circle cx="44.3" cy="33.3" r="1.05"/><circle cx="45.6" cy="30.7" r="1.05"/><circle cx="47.0" cy="29.7" r="1.05"/><circle cx="48.3" cy="33.7" r="1.05"/><circle cx="49.7" cy="31.8" r="1.05"/><circle cx="51.0" cy="35.6" r="1.05"/><circle cx="52.4" cy="33.7" r="1.05"/><circle cx="53.7" cy="25.6" r="1.05"/><circle cx="55.1" cy="33.0" r="1.05"/><circle cx="56.4" cy="24.9" r="1.05"/><circle cx="57.8" cy="28.8" r="1.05"/><circle cx="59.1" cy="30.9" r="1.05"/><circle cx="60.5" cy="21.8" r="1.05"/><circle cx="61.8" cy="34.5" r="1.05"/><circle cx="63.2" cy="35.7" r="1.05"/><circle cx="64.5" cy="34.9" r="1.05"/><circle cx="65.9" cy="34.2" r="1.05"/><circle cx="67.2" cy="35.2" r="1.05"/><circle cx="68.6" cy="32.8" r="1.05"/><circle cx="69.9" cy="37.6" r="1.05"/><circle cx="71.3" cy="36.8" r="1.05"/><circle cx="72.6" cy="40.8" r="1.05"/><circle cx="74.0" cy="33.8" r="1.05"/><circle cx="75.3" cy="41.4" r="1.05"/><circle cx="76.7" cy="40.5" r="1.05"/><circle cx="78.0" cy="38.4" r="1.05"/><circle cx="79.4" cy="36.4" r="1.05"/><circle cx="80.7" cy="41.6" r="1.05"/><circle cx="82.1" cy="29.8" r="1.05"/><circle cx="83.4" cy="42.5" r="1.05"/><circle cx="84.8" cy="42.5" r="1.05"/><circle cx="86.1" cy="43.7" r="1.05"/><circle cx="87.5" cy="44.9" r="1.05"/><circle cx="88.8" cy="39.7" r="1.05"/><circle cx="90.2" cy="42.5" r="1.05"/><circle cx="91.5" cy="48.2" r="1.05"/><circle cx="92.9" cy="48.6" r="1.05"/><circle cx="94.2" cy="49.9" r="1.05"/><circle cx="95.6" cy="49.7" r="1.05"/><circle cx="96.9" cy="57.7" r="1.05"/><circle cx="98.3" cy="65.0" r="1.05"/><circle cx="99.6" cy="72.7" r="1.05"/><circle cx="101.0" cy="80.2" r="1.05"/><circle cx="102.3" cy="85.3" r="1.05"/><circle cx="103.7" cy="96.1" r="1.05"/><circle cx="105.0" cy="101.2" r="1.05"/><circle cx="106.4" cy="103.8" r="1.05"/><circle cx="107.7" cy="113.7" r="1.05"/><circle cx="109.1" cy="114.4" r="1.05"/><circle cx="110.4" cy="109.4" r="1.05"/><circle cx="111.8" cy="112.8" r="1.05"/><circle cx="113.1" cy="123.8" r="1.05"/><circle cx="114.5" cy="113.0" r="1.05"/><circle cx="115.8" cy="116.3" r="1.05"/><circle cx="117.2" cy="124.8" r="1.05"/><circle cx="118.5" cy="123.2" r="1.05"/><circle cx="119.9" cy="111.9" r="1.05"/><circle cx="121.2" cy="110.4" r="1.05"/><circle cx="122.6" cy="103.3" r="1.05"/><circle cx="123.9" cy="106.0" r="1.05"/><circle cx="125.3" cy="112.2" r="1.05"/><circle cx="126.6" cy="111.2" r="1.05"/><circle cx="128.0" cy="108.6" r="1.05"/><circle cx="129.3" cy="113.2" r="1.05"/><circle cx="130.7" cy="101.3" r="1.05"/><circle cx="132.0" cy="104.8" r="1.05"/><circle cx="133.4" cy="108.7" r="1.05"/><circle cx="134.7" cy="106.8" r="1.05"/><circle cx="136.1" cy="108.7" r="1.05"/><circle cx="137.4" cy="103.4" r="1.05"/><circle cx="138.8" cy="97.8" r="1.05"/><circle cx="140.1" cy="100.6" r="1.05"/><circle cx="141.5" cy="90.3" r="1.05"/><circle cx="142.8" cy="84.3" r="1.05"/><circle cx="144.2" cy="95.9" r="1.05"/><circle cx="145.5" cy="90.2" r="1.05"/><circle cx="146.9" cy="91.2" r="1.05"/><circle cx="148.2" cy="78.5" r="1.05"/><circle cx="149.6" cy="87.2" r="1.05"/><circle cx="150.9" cy="86.5" r="1.05"/><circle cx="152.3" cy="85.9" r="1.05"/><circle cx="153.6" cy="78.3" r="1.05"/><circle cx="155.0" cy="91.3" r="1.05"/><circle cx="156.3" cy="100.3" r="1.05"/><circle cx="157.7" cy="98.5" r="1.05"/><circle cx="159.0" cy="93.5" r="1.05"/><circle cx="160.4" cy="97.5" r="1.05"/><circle cx="161.7" cy="101.8" r="1.05"/><circle cx="163.1" cy="79.0" r="1.05"/><circle cx="164.4" cy="94.0" r="1.05"/><circle cx="165.8" cy="97.1" r="1.05"/><circle cx="167.1" cy="97.4" r="1.05"/><circle cx="168.5" cy="103.4" r="1.05"/><circle cx="169.8" cy="99.6" r="1.05"/><circle cx="171.2" cy="94.4" r="1.05"/><circle cx="172.5" cy="94.3" r="1.05"/><circle cx="173.9" cy="97.4" r="1.05"/><circle cx="175.2" cy="89.3" r="1.05"/><circle cx="176.6" cy="92.6" r="1.05"/><circle cx="177.9" cy="98.6" r="1.05"/><circle cx="179.3" cy="105.3" r="1.05"/><circle cx="180.6" cy="92.2" r="1.05"/><circle cx="182.0" cy="92.9" r="1.05"/><circle cx="183.3" cy="94.4" r="1.05"/><circle cx="184.7" cy="101.4" r="1.05"/><circle cx="186.0" cy="92.8" r="1.05"/><circle cx="187.4" cy="101.9" r="1.05"/><circle cx="188.7" cy="86.7" r="1.05"/><circle cx="190.1" cy="91.3" r="1.05"/><circle cx="191.4" cy="91.0" r="1.05"/><circle cx="192.8" cy="96.6" r="1.05"/><circle cx="194.1" cy="97.5" r="1.05"/><circle cx="195.5" cy="80.7" r="1.05"/><circle cx="196.8" cy="83.3" r="1.05"/><circle cx="198.2" cy="90.0" r="1.05"/><circle cx="199.5" cy="82.6" r="1.05"/><circle cx="200.9" cy="76.2" r="1.05"/><circle cx="202.2" cy="90.8" r="1.05"/><circle cx="203.6" cy="85.8" r="1.05"/><circle cx="204.9" cy="84.2" r="1.05"/><circle cx="206.3" cy="76.9" r="1.05"/><circle cx="207.6" cy="85.8" r="1.05"/><circle cx="209.0" cy="78.4" r="1.05"/><circle cx="210.3" cy="88.0" r="1.05"/><circle cx="211.7" cy="77.3" r="1.05"/><circle cx="213.0" cy="79.2" r="1.05"/><circle cx="214.4" cy="86.9" r="1.05"/><circle cx="215.7" cy="81.5" r="1.05"/><circle cx="217.1" cy="88.7" r="1.05"/><circle cx="218.4" cy="83.9" r="1.05"/><circle cx="219.8" cy="74.2" r="1.05"/><circle cx="221.1" cy="78.8" r="1.05"/><circle cx="222.5" cy="75.9" r="1.05"/><circle cx="223.8" cy="83.8" r="1.05"/><circle cx="225.2" cy="74.3" r="1.05"/><circle cx="226.5" cy="75.6" r="1.05"/><circle cx="227.9" cy="86.0" r="1.05"/><circle cx="229.2" cy="92.5" r="1.05"/><circle cx="230.6" cy="91.5" r="1.05"/><circle cx="231.9" cy="80.5" r="1.05"/><circle cx="233.3" cy="82.9" r="1.05"/><circle cx="234.6" cy="92.2" r="1.05"/><circle cx="236.0" cy="82.5" r="1.05"/><circle cx="237.3" cy="76.8" r="1.05"/><circle cx="238.7" cy="82.4" r="1.05"/><circle cx="240.0" cy="82.8" r="1.05"/><circle cx="241.4" cy="73.2" r="1.05"/><circle cx="242.7" cy="67.0" r="1.05"/><circle cx="244.1" cy="67.9" r="1.05"/><circle cx="245.4" cy="80.9" r="1.05"/><circle cx="246.8" cy="72.1" r="1.05"/><circle cx="248.1" cy="75.9" r="1.05"/><circle cx="249.5" cy="78.1" r="1.05"/><circle cx="250.8" cy="80.6" r="1.05"/><circle cx="252.2" cy="74.7" r="1.05"/><circle cx="253.5" cy="79.8" r="1.05"/><circle cx="254.9" cy="70.4" r="1.05"/><circle cx="256.2" cy="72.3" r="1.05"/><circle cx="257.6" cy="66.7" r="1.05"/><circle cx="258.9" cy="78.9" r="1.05"/><circle cx="260.3" cy="71.1" r="1.05"/><circle cx="261.6" cy="67.1" r="1.05"/><circle cx="263.0" cy="70.5" r="1.05"/><circle cx="264.3" cy="72.7" r="1.05"/><circle cx="265.7" cy="79.8" r="1.05"/><circle cx="267.0" cy="66.6" r="1.05"/><circle cx="268.4" cy="70.4" r="1.05"/><circle cx="269.7" cy="73.9" r="1.05"/><circle cx="271.1" cy="90.8" r="1.05"/><circle cx="272.4" cy="79.6" r="1.05"/><circle cx="273.8" cy="71.4" r="1.05"/><circle cx="275.1" cy="75.0" r="1.05"/><circle cx="276.5" cy="82.1" r="1.05"/><circle cx="277.8" cy="66.5" r="1.05"/><circle cx="279.2" cy="64.2" r="1.05"/><circle cx="280.5" cy="72.9" r="1.05"/><circle cx="281.9" cy="67.7" r="1.05"/><circle cx="283.2" cy="68.9" r="1.05"/><circle cx="284.6" cy="62.3" r="1.05"/><circle cx="285.9" cy="78.4" r="1.05"/><circle cx="287.3" cy="78.1" r="1.05"/><circle cx="288.6" cy="71.5" r="1.05"/><circle cx="290.0" cy="72.2" r="1.05"/><circle cx="291.3" cy="55.1" r="1.05"/><circle cx="292.7" cy="71.3" r="1.05"/><circle cx="294.0" cy="65.7" r="1.05"/><circle cx="295.4" cy="69.1" r="1.05"/><circle cx="296.7" cy="70.1" r="1.05"/><circle cx="298.1" cy="63.2" r="1.05"/><circle cx="299.4" cy="54.2" r="1.05"/><circle cx="300.8" cy="66.3" r="1.05"/><circle cx="302.1" cy="58.5" r="1.05"/><circle cx="303.5" cy="60.1" r="1.05"/><circle cx="304.8" cy="56.9" r="1.05"/><circle cx="306.2" cy="56.7" r="1.05"/><circle cx="307.5" cy="42.7" r="1.05"/><circle cx="308.9" cy="63.1" r="1.05"/><circle cx="310.2" cy="55.5" r="1.05"/><circle cx="311.6" cy="59.2" r="1.05"/><circle cx="312.9" cy="63.4" r="1.05"/><circle cx="314.3" cy="50.7" r="1.05"/><circle cx="315.6" cy="39.5" r="1.05"/><circle cx="317.0" cy="45.8" r="1.05"/><circle cx="318.3" cy="44.7" r="1.05"/><circle cx="319.7" cy="50.1" r="1.05"/><circle cx="321.0" cy="54.7" r="1.05"/><circle cx="322.4" cy="42.8" r="1.05"/><circle cx="323.7" cy="58.5" r="1.05"/><circle cx="325.1" cy="48.0" r="1.05"/><circle cx="326.4" cy="59.9" r="1.05"/><circle cx="327.8" cy="57.4" r="1.05"/><circle cx="329.1" cy="55.8" r="1.05"/><circle cx="330.5" cy="56.7" r="1.05"/><circle cx="331.8" cy="53.2" r="1.05"/><circle cx="333.2" cy="52.0" r="1.05"/><circle cx="334.5" cy="44.8" r="1.05"/><circle cx="335.9" cy="54.4" r="1.05"/><circle cx="337.2" cy="65.2" r="1.05"/><circle cx="338.6" cy="65.3" r="1.05"/><circle cx="339.9" cy="60.5" r="1.05"/><circle cx="341.3" cy="56.1" r="1.05"/><circle cx="342.6" cy="47.1" r="1.05"/><circle cx="344.0" cy="60.0" r="1.05"/><circle cx="345.3" cy="50.4" r="1.05"/><circle cx="346.7" cy="50.0" r="1.05"/><circle cx="348.0" cy="48.3" r="1.05"/><circle cx="349.4" cy="50.1" r="1.05"/><circle cx="350.7" cy="46.1" r="1.05"/><circle cx="352.1" cy="47.4" r="1.05"/><circle cx="353.4" cy="40.6" r="1.05"/><circle cx="354.8" cy="44.9" r="1.05"/><circle cx="356.1" cy="61.6" r="1.05"/><circle cx="357.5" cy="47.4" r="1.05"/><circle cx="358.8" cy="46.6" r="1.05"/><circle cx="360.2" cy="51.3" r="1.05"/><circle cx="361.5" cy="51.3" r="1.05"/><circle cx="362.9" cy="38.4" r="1.05"/><circle cx="364.2" cy="42.3" r="1.05"/><circle cx="365.6" cy="47.9" r="1.05"/><circle cx="366.9" cy="42.5" r="1.05"/><circle cx="368.3" cy="40.2" r="1.05"/><circle cx="369.6" cy="48.1" r="1.05"/><circle cx="371.0" cy="33.7" r="1.05"/><circle cx="372.3" cy="38.1" r="1.05"/><circle cx="373.7" cy="34.1" r="1.05"/><circle cx="375.0" cy="46.5" r="1.05"/><circle cx="376.4" cy="25.1" r="1.05"/><circle cx="377.7" cy="33.3" r="1.05"/><circle cx="379.1" cy="34.5" r="1.05"/><circle cx="380.4" cy="42.1" r="1.05"/><circle cx="381.8" cy="41.8" r="1.05"/><circle cx="383.1" cy="45.5" r="1.05"/><circle cx="384.5" cy="25.3" r="1.05"/></g><path d="M34.5 30.4 L35.5 30.9 L36.5 31.4 L37.5 31.8 L38.5 32.2 L39.5 32.6 L40.5 33.0 L41.5 33.3 L42.5 33.7 L43.5 34.0 L44.5 34.3 L45.5 34.6 L46.5 34.9 L47.5 35.0 L48.5 35.0 L49.5 34.8 L50.5 34.5 L51.5 34.1 L52.5 33.7 L53.5 33.2 L54.5 32.8 L55.5 32.5 L56.5 32.2 L57.5 32.2 L58.5 32.4 L59.5 32.7 L60.5 33.2 L61.5 33.8 L62.5 34.4 L63.5 35.1 L64.5 35.7 L65.5 36.4 L66.5 36.9 L67.5 37.5 L68.5 38.1 L69.5 38.8 L70.5 39.4 L71.5 39.9 L72.5 40.3 L73.5 40.4 L74.5 40.3 L75.5 40.1 L76.5 39.7 L77.5 39.4 L78.5 39.0 L79.5 38.8 L80.5 38.6 L81.5 38.7 L82.5 39.2 L83.5 40.0 L84.5 40.9 L85.5 41.7 L86.5 42.4 L87.5 42.8 L88.5 43.2 L89.5 43.6 L90.5 44.1 L91.5 44.7 L92.5 45.8 L93.5 47.3 L94.5 49.4 L95.5 51.8 L96.5 55.3 L97.5 59.5 L98.5 64.6 L99.5 70.6 L100.5 77.0 L101.5 83.2 L102.5 88.7 L103.5 94.0 L104.5 99.0 L105.5 103.8 L106.5 108.2 L107.5 112.4 L108.5 115.3 L109.5 117.3 L110.5 117.4 L111.5 116.9 L112.5 116.3 L113.5 115.8 L114.5 115.3 L115.5 114.8 L116.5 114.3 L117.5 113.8 L118.5 113.3 L119.5 112.8 L120.5 112.2 L121.5 111.7 L122.5 111.1 L123.5 110.6 L124.5 110.0 L125.5 109.4 L126.5 108.8 L127.5 108.2 L128.5 107.5 L129.5 106.9 L130.5 106.2 L131.5 105.5 L132.5 104.8 L133.5 104.1 L134.5 103.3 L135.5 102.5 L136.5 101.7 L137.5 100.8 L138.5 99.9 L139.5 99.0 L140.5 97.9 L141.5 96.5 L142.5 94.9 L143.5 93.3 L144.5 91.8 L145.5 90.5 L146.5 89.6 L147.5 89.0 L148.5 89.1 L149.5 89.4 L150.5 90.0 L151.5 90.7 L152.5 91.4 L153.5 92.2 L154.5 92.9 L155.5 93.9 L156.5 95.0 L157.5 96.0 L158.5 96.9 L159.5 97.4 L160.5 97.6 L161.5 97.2 L162.5 96.5 L163.5 95.6 L164.5 94.7 L165.5 93.9 L166.5 93.3 L167.5 93.0 L168.5 92.8 L169.5 92.6 L170.5 92.5 L171.5 92.4 L172.5 92.4 L173.5 92.5 L174.5 92.6 L175.5 92.7 L176.5 92.8 L177.5 93.0 L178.5 93.1 L179.5 93.2 L180.5 93.2 L181.5 93.2 L182.5 93.2 L183.5 93.1 L184.5 93.1 L185.5 93.0 L186.5 92.9 L187.5 92.8 L188.5 92.7 L189.5 92.6 L190.5 92.4 L191.5 92.2 L192.5 91.9 L193.5 91.4 L194.5 90.8 L195.5 90.0 L196.5 89.3 L197.5 88.4 L198.5 87.6 L199.5 86.7 L200.5 85.9 L201.5 85.1 L202.5 84.0 L203.5 82.8 L204.5 81.6 L205.5 80.5 L206.5 79.7 L207.5 79.4 L208.5 79.6 L209.5 80.4 L210.5 81.5 L211.5 82.7 L212.5 83.9 L213.5 85.0 L214.5 85.7 L215.5 85.9 L216.5 85.2 L217.5 83.8 L218.5 82.1 L219.5 80.3 L220.5 78.9 L221.5 78.1 L222.5 78.1 L223.5 78.1 L224.5 78.2 L225.5 78.2 L226.5 78.3 L227.5 78.4 L228.5 78.6 L229.5 78.7 L230.5 79.0 L231.5 79.8 L232.5 80.8 L233.5 81.8 L234.5 82.6 L235.5 83.2 L236.5 83.2 L237.5 82.7 L238.5 81.8 L239.5 80.6 L240.5 79.4 L241.5 78.2 L242.5 77.3 L243.5 76.8 L244.5 76.8 L245.5 76.8 L246.5 76.8 L247.5 76.8 L248.5 76.8 L249.5 76.8 L250.5 76.8 L251.5 76.8 L252.5 76.8 L253.5 76.7 L254.5 76.2 L255.5 75.3 L256.5 74.2 L257.5 73.1 L258.5 72.2 L259.5 71.5 L260.5 71.3 L261.5 71.6 L262.5 72.3 L263.5 73.3 L264.5 74.3 L265.5 75.3 L266.5 76.2 L267.5 76.7 L268.5 76.8 L269.5 76.4 L270.5 75.7 L271.5 74.7 L272.5 73.5 L273.5 72.4 L274.5 71.2 L275.5 70.2 L276.5 69.3 L277.5 68.2 L278.5 67.2 L279.5 66.2 L280.5 65.3 L281.5 64.8 L282.5 64.6 L283.5 64.9 L284.5 65.4 L285.5 66.2 L286.5 67.0 L287.5 67.6 L288.5 68.0 L289.5 68.0 L290.5 67.9 L291.5 67.7 L292.5 67.4 L293.5 67.0 L294.5 66.7 L295.5 66.3 L296.5 65.9 L297.5 65.6 L298.5 65.1 L299.5 64.7 L300.5 64.1 L301.5 63.5 L302.5 62.9 L303.5 62.1 L304.5 61.0 L305.5 59.7 L306.5 58.3 L307.5 57.1 L308.5 56.0 L309.5 54.8 L310.5 53.5 L311.5 52.4 L312.5 51.4 L313.5 50.7 L314.5 50.5 L315.5 50.7 L316.5 51.1 L317.5 51.7 L318.5 52.4 L319.5 53.1 L320.5 53.9 L321.5 54.6 L322.5 55.3 L323.5 56.2 L324.5 57.0 L325.5 57.7 L326.5 58.1 L327.5 58.1 L328.5 57.9 L329.5 57.6 L330.5 57.1 L331.5 56.7 L332.5 56.2 L333.5 55.7 L334.5 55.2 L335.5 54.7 L336.5 54.2 L337.5 53.6 L338.5 53.0 L339.5 52.5 L340.5 52.0 L341.5 51.7 L342.5 51.4 L343.5 51.1 L344.5 50.9 L345.5 50.7 L346.5 50.5 L347.5 50.2 L348.5 49.9 L349.5 49.5 L350.5 48.9 L351.5 48.2 L352.5 47.6 L353.5 47.3 L354.5 47.2 L355.5 47.4 L356.5 47.6 L357.5 47.8 L358.5 48.0 L359.5 48.1 L360.5 47.8 L361.5 46.9 L362.5 45.7 L363.5 44.4 L364.5 43.2 L365.5 42.2 L366.5 41.2 L367.5 40.2 L368.5 39.2 L369.5 38.5 L370.5 38.1 L371.5 37.8 L372.5 37.6 L373.5 37.4 L374.5 37.3 L375.5 37.2 L376.5 37.2 L377.5 37.4 L378.5 37.6 L379.5 37.9 L380.5 38.0 L381.5 38.1 L382.5 37.5 L383.5 36.4 L384.5 35.0" fill="none" stroke="#0072BD" stroke-width="1.35" stroke-linejoin="round"/></g><g stroke="#8e8e8e" stroke-width="0.8" fill="none"><rect x="34.5" y="3.5" width="350.0" height="246.4"/><path d="M72.6 249.9v-3.6M72.6 3.5v3.6M110.7 249.9v-3.6M110.7 3.5v3.6M148.8 249.9v-3.6M148.8 3.5v3.6M186.9 249.9v-3.6M186.9 3.5v3.6M225.0 249.9v-3.6M225.0 3.5v3.6M263.1 249.9v-3.6M263.1 3.5v3.6M301.2 249.9v-3.6M301.2 3.5v3.6M339.3 249.9v-3.6M339.3 3.5v3.6M377.4 249.9v-3.6M377.4 3.5v3.6M34.5 215.0h3.6M384.5 215.0h-3.6M34.5 179.8h3.6M384.5 179.8h-3.6M34.5 144.5h3.6M384.5 144.5h-3.6M34.5 109.2h3.6M384.5 109.2h-3.6M34.5 74.0h3.6M384.5 74.0h-3.6M34.5 38.7h3.6M384.5 38.7h-3.6"/></g><g font-size="9.7" fill="#1a1a1a" stroke="#1a1a1a" stroke-width="0.2"><text x="34.5" y="264.4" text-anchor="middle">0</text><text x="72.6" y="264.4" text-anchor="middle">100</text><text x="110.7" y="264.4" text-anchor="middle">200</text><text x="148.8" y="264.4" text-anchor="middle">300</text><text x="186.9" y="264.4" text-anchor="middle">400</text><text x="225.0" y="264.4" text-anchor="middle">500</text><text x="263.1" y="264.4" text-anchor="middle">600</text><text x="301.2" y="264.4" text-anchor="middle">700</text><text x="339.3" y="264.4" text-anchor="middle">800</text><text x="377.4" y="264.4" text-anchor="middle">900</text><text x="31" y="255.5" text-anchor="end">0.7</text><text x="31" y="218.9" text-anchor="end">0.75</text><text x="31" y="183.7" text-anchor="end">0.8</text><text x="31" y="148.4" text-anchor="end">0.85</text><text x="31" y="113.1" text-anchor="end">0.9</text><text x="31" y="77.9" text-anchor="end">0.95</text><text x="31" y="42.6" text-anchor="end">1</text><text x="31" y="7.4" text-anchor="end">1.05</text></g><g font-size="10.5" fill="#1a1a1a" stroke="#1a1a1a" stroke-width="0.2"><text x="169" y="277.5">Time from T<tspan font-size="8.3" dy="4.6">0</tspan><tspan dy="-4.6"> (ps)</tspan></text><text transform="translate(9.3 127.3) rotate(-90)" text-anchor="middle">Transmission</text></g><rect x="39.8" y="209.9" width="55.5" height="35.5" fill="#fff" stroke="#6a6a6a" stroke-width="0.7"/><path d="M42 216.3H62.2" stroke="#D95319" stroke-width="1.5"/><text x="64.2" y="219.8" font-size="8.8" fill="#111" stroke="#111" stroke-width="0.15">200 µm</text><path d="M42 227.7H62.2" stroke="#EDB120" stroke-width="1.5"/><text x="64.2" y="231.2" font-size="8.8" fill="#111" stroke="#111" stroke-width="0.15">400 µm</text><path d="M42 239.0H62.2" stroke="#0072BD" stroke-width="1.5"/><text x="64.2" y="242.5" font-size="8.8" fill="#111" stroke="#111" stroke-width="0.15">530 µm</text><rect x="277" y="140" width="98" height="106" fill="#fff"/><g shape-rendering="crispEdges"><rect x="300.30" y="143.70" width="1.95" height="1.94" fill="#f99320"/><rect x="302.10" y="143.70" width="1.95" height="1.94" fill="#f9921f"/><rect x="303.90" y="143.70" width="1.95" height="1.94" fill="#f9921f"/><rect x="305.70" y="143.70" width="1.95" height="1.94" fill="#f99320"/><rect x="307.50" y="143.70" width="1.95" height="1.94" fill="#f9921f"/><rect x="309.30" y="143.70" width="1.95" height="1.94" fill="#f9921f"/><rect x="311.10" y="143.70" width="1.95" height="1.94" fill="#f9921f"/><rect x="312.90" y="143.70" width="1.95" height="1.94" fill="#f9921f"/><rect x="314.70" y="143.70" width="1.95" height="1.94" fill="#f9921f"/><rect x="316.50" y="143.70" width="1.54" height="1.94" fill="#fa9420"/><rect x="317.89" y="143.70" width="0.56" height="1.94" fill="#8a1e9b"/><rect x="318.30" y="143.70" width="1.95" height="1.94" fill="#871d99"/><rect x="320.10" y="143.70" width="1.95" height="1.94" fill="#8e1e9f"/><rect x="321.90" y="143.70" width="1.95" height="1.94" fill="#811c94"/><rect x="323.70" y="143.70" width="1.95" height="1.94" fill="#791a8d"/><rect x="325.50" y="143.70" width="1.95" height="1.94" fill="#801c94"/><rect x="327.30" y="143.70" width="1.95" height="1.94" fill="#811c94"/><rect x="329.10" y="143.70" width="1.95" height="1.94" fill="#811c95"/><rect x="330.90" y="143.70" width="1.95" height="1.94" fill="#921fa2"/><rect x="332.70" y="143.70" width="1.95" height="1.94" fill="#8f1f9f"/><rect x="334.50" y="143.70" width="1.95" height="1.94" fill="#8c1e9d"/><rect x="336.30" y="143.70" width="1.95" height="1.94" fill="#ac2791"/><rect x="338.10" y="143.70" width="1.95" height="1.94" fill="#b0288d"/><rect x="339.90" y="143.70" width="1.95" height="1.94" fill="#c12e7e"/><rect x="341.70" y="143.70" width="1.95" height="1.94" fill="#cc3274"/><rect x="343.50" y="143.70" width="1.95" height="1.94" fill="#da465b"/><rect x="345.30" y="143.70" width="1.95" height="1.94" fill="#e0514e"/><rect x="347.10" y="143.70" width="1.95" height="1.94" fill="#ee6933"/><rect x="348.90" y="143.70" width="1.95" height="1.94" fill="#ef6e30"/><rect x="350.70" y="143.70" width="1.95" height="1.94" fill="#f1752b"/><rect x="352.50" y="143.70" width="1.95" height="1.94" fill="#f37c27"/></g><g shape-rendering="crispEdges"><rect x="300.30" y="145.49" width="1.95" height="1.94" fill="#f99320"/><rect x="302.10" y="145.49" width="1.95" height="1.94" fill="#f99320"/><rect x="303.90" y="145.49" width="1.95" height="1.94" fill="#f99320"/><rect x="305.70" y="145.49" width="1.95" height="1.94" fill="#f99320"/><rect x="307.50" y="145.49" width="1.95" height="1.94" fill="#f99320"/><rect x="309.30" y="145.49" width="1.95" height="1.94" fill="#f9921f"/><rect x="311.10" y="145.49" width="1.95" height="1.94" fill="#f99320"/><rect x="312.90" y="145.49" width="1.95" height="1.94" fill="#f9921f"/><rect x="314.70" y="145.49" width="1.95" height="1.94" fill="#f99320"/><rect x="316.50" y="145.49" width="1.53" height="1.94" fill="#fa9420"/><rect x="317.88" y="145.49" width="0.57" height="1.94" fill="#921fa2"/><rect x="318.30" y="145.49" width="1.95" height="1.94" fill="#8e1e9f"/><rect x="320.10" y="145.49" width="1.95" height="1.94" fill="#9620a5"/><rect x="321.90" y="145.49" width="1.95" height="1.94" fill="#891d9a"/><rect x="323.70" y="145.49" width="1.95" height="1.94" fill="#811c94"/><rect x="325.50" y="145.49" width="1.95" height="1.94" fill="#891d9a"/><rect x="327.30" y="145.49" width="1.95" height="1.94" fill="#8a1e9b"/><rect x="329.10" y="145.49" width="1.95" height="1.94" fill="#8a1e9b"/><rect x="330.90" y="145.49" width="1.95" height="1.94" fill="#9c22a0"/><rect x="332.70" y="145.49" width="1.95" height="1.94" fill="#9720a4"/><rect x="334.50" y="145.49" width="1.95" height="1.94" fill="#9420a4"/><rect x="336.30" y="145.49" width="1.95" height="1.94" fill="#b62b88"/><rect x="338.10" y="145.49" width="1.95" height="1.94" fill="#ba2c84"/><rect x="339.90" y="145.49" width="1.95" height="1.94" fill="#cb3175"/><rect x="341.70" y="145.49" width="1.95" height="1.94" fill="#d33c67"/><rect x="343.50" y="145.49" width="1.95" height="1.94" fill="#e1514d"/><rect x="345.30" y="145.49" width="1.95" height="1.94" fill="#e75c40"/><rect x="347.10" y="145.49" width="1.95" height="1.94" fill="#ef6f2f"/><rect x="348.90" y="145.49" width="1.95" height="1.94" fill="#f1742c"/><rect x="350.70" y="145.49" width="1.95" height="1.94" fill="#f37b27"/><rect x="352.50" y="145.49" width="1.95" height="1.94" fill="#f58123"/></g><g shape-rendering="crispEdges"><rect x="300.30" y="147.28" width="1.95" height="1.94" fill="#f99320"/><rect x="302.10" y="147.28" width="1.95" height="1.94" fill="#f99320"/><rect x="303.90" y="147.28" width="1.95" height="1.94" fill="#f99320"/><rect x="305.70" y="147.28" width="1.95" height="1.94" fill="#f99320"/><rect x="307.50" y="147.28" width="1.95" height="1.94" fill="#f99320"/><rect x="309.30" y="147.28" width="1.95" height="1.94" fill="#f9921f"/><rect x="311.10" y="147.28" width="1.95" height="1.94" fill="#f99320"/><rect x="312.90" y="147.28" width="1.95" height="1.94" fill="#f9921f"/><rect x="314.70" y="147.28" width="1.95" height="1.94" fill="#f99320"/><rect x="316.50" y="147.28" width="1.52" height="1.94" fill="#fa9420"/><rect x="317.87" y="147.28" width="0.58" height="1.94" fill="#901fa0"/><rect x="318.30" y="147.28" width="1.95" height="1.94" fill="#8c1e9d"/><rect x="320.10" y="147.28" width="1.95" height="1.94" fill="#931fa3"/><rect x="321.90" y="147.28" width="1.95" height="1.94" fill="#861d98"/><rect x="323.70" y="147.28" width="1.95" height="1.94" fill="#7e1b92"/><rect x="325.50" y="147.28" width="1.95" height="1.94" fill="#861d99"/><rect x="327.30" y="147.28" width="1.95" height="1.94" fill="#871d99"/><rect x="329.10" y="147.28" width="1.95" height="1.94" fill="#881d9a"/><rect x="330.90" y="147.28" width="1.95" height="1.94" fill="#9921a2"/><rect x="332.70" y="147.28" width="1.95" height="1.94" fill="#9520a4"/><rect x="334.50" y="147.28" width="1.95" height="1.94" fill="#921fa2"/><rect x="336.30" y="147.28" width="1.95" height="1.94" fill="#b42a8a"/><rect x="338.10" y="147.28" width="1.95" height="1.94" fill="#b82b86"/><rect x="339.90" y="147.28" width="1.95" height="1.94" fill="#c83077"/><rect x="341.70" y="147.28" width="1.95" height="1.94" fill="#d1396b"/><rect x="343.50" y="147.28" width="1.95" height="1.94" fill="#df4f50"/><rect x="345.30" y="147.28" width="1.95" height="1.94" fill="#e65a43"/><rect x="347.10" y="147.28" width="1.95" height="1.94" fill="#ef6e30"/><rect x="348.90" y="147.28" width="1.95" height="1.94" fill="#f0722d"/><rect x="350.70" y="147.28" width="1.95" height="1.94" fill="#f37928"/><rect x="352.50" y="147.28" width="1.95" height="1.94" fill="#f58123"/></g><g shape-rendering="crispEdges"><rect x="300.30" y="149.07" width="1.95" height="1.94" fill="#f99320"/><rect x="302.10" y="149.07" width="1.95" height="1.94" fill="#f99320"/><rect x="303.90" y="149.07" width="1.95" height="1.94" fill="#f99320"/><rect x="305.70" y="149.07" width="1.95" height="1.94" fill="#f99320"/><rect x="307.50" y="149.07" width="1.95" height="1.94" fill="#f99320"/><rect x="309.30" y="149.07" width="1.95" height="1.94" fill="#f9921f"/><rect x="311.10" y="149.07" width="1.95" height="1.94" fill="#f99320"/><rect x="312.90" y="149.07" width="1.95" height="1.94" fill="#f99320"/><rect x="314.70" y="149.07" width="1.95" height="1.94" fill="#f99320"/><rect x="316.50" y="149.07" width="1.51" height="1.94" fill="#fa9420"/><rect x="317.86" y="149.07" width="0.59" height="1.94" fill="#921fa2"/><rect x="318.30" y="149.07" width="1.95" height="1.94" fill="#8d1e9e"/><rect x="320.10" y="149.07" width="1.95" height="1.94" fill="#9520a4"/><rect x="321.90" y="149.07" width="1.95" height="1.94" fill="#871d99"/><rect x="323.70" y="149.07" width="1.95" height="1.94" fill="#801c93"/><rect x="325.50" y="149.07" width="1.95" height="1.94" fill="#891d9a"/><rect x="327.30" y="149.07" width="1.95" height="1.94" fill="#8a1e9b"/><rect x="329.10" y="149.07" width="1.95" height="1.94" fill="#8a1e9b"/><rect x="330.90" y="149.07" width="1.95" height="1.94" fill="#9c22a0"/><rect x="332.70" y="149.07" width="1.95" height="1.94" fill="#9720a4"/><rect x="334.50" y="149.07" width="1.95" height="1.94" fill="#9420a4"/><rect x="336.30" y="149.07" width="1.95" height="1.94" fill="#b62b88"/><rect x="338.10" y="149.07" width="1.95" height="1.94" fill="#ba2c84"/><rect x="339.90" y="149.07" width="1.95" height="1.94" fill="#cb3175"/><rect x="341.70" y="149.07" width="1.95" height="1.94" fill="#d33c67"/><rect x="343.50" y="149.07" width="1.95" height="1.94" fill="#e1524d"/><rect x="345.30" y="149.07" width="1.95" height="1.94" fill="#e75d40"/><rect x="347.10" y="149.07" width="1.95" height="1.94" fill="#ef6f2f"/><rect x="348.90" y="149.07" width="1.95" height="1.94" fill="#f1742c"/><rect x="350.70" y="149.07" width="1.95" height="1.94" fill="#f37b27"/><rect x="352.50" y="149.07" width="1.95" height="1.94" fill="#f58222"/></g><g shape-rendering="crispEdges"><rect x="300.30" y="150.86" width="1.95" height="1.94" fill="#f99320"/><rect x="302.10" y="150.86" width="1.95" height="1.94" fill="#f9921f"/><rect x="303.90" y="150.86" width="1.95" height="1.94" fill="#f9921f"/><rect x="305.70" y="150.86" width="1.95" height="1.94" fill="#f99320"/><rect x="307.50" y="150.86" width="1.95" height="1.94" fill="#f9921f"/><rect x="309.30" y="150.86" width="1.95" height="1.94" fill="#f9921f"/><rect x="311.10" y="150.86" width="1.95" height="1.94" fill="#f9921f"/><rect x="312.90" y="150.86" width="1.95" height="1.94" fill="#f9921f"/><rect x="314.70" y="150.86" width="1.95" height="1.94" fill="#f9921f"/><rect x="316.50" y="150.86" width="1.50" height="1.94" fill="#fa9420"/><rect x="317.85" y="150.86" width="0.60" height="1.94" fill="#821c95"/><rect x="318.30" y="150.86" width="1.95" height="1.94" fill="#7c1b90"/><rect x="320.10" y="150.86" width="1.95" height="1.94" fill="#821c95"/><rect x="321.90" y="150.86" width="1.95" height="1.94" fill="#75198b"/><rect x="323.70" y="150.86" width="1.95" height="1.94" fill="#6e1885"/><rect x="325.50" y="150.86" width="1.95" height="1.94" fill="#781a8d"/><rect x="327.30" y="150.86" width="1.95" height="1.94" fill="#791a8e"/><rect x="329.10" y="150.86" width="1.95" height="1.94" fill="#7a1a8f"/><rect x="330.90" y="150.86" width="1.95" height="1.94" fill="#8c1e9d"/><rect x="332.70" y="150.86" width="1.95" height="1.94" fill="#891d9a"/><rect x="334.50" y="150.86" width="1.95" height="1.94" fill="#861d98"/><rect x="336.30" y="150.86" width="1.95" height="1.94" fill="#a52598"/><rect x="338.10" y="150.86" width="1.95" height="1.94" fill="#a92694"/><rect x="339.90" y="150.86" width="1.95" height="1.94" fill="#b92c85"/><rect x="341.70" y="150.86" width="1.95" height="1.94" fill="#c42f7b"/><rect x="343.50" y="150.86" width="1.95" height="1.94" fill="#d53e64"/><rect x="345.30" y="150.86" width="1.95" height="1.94" fill="#db4957"/><rect x="347.10" y="150.86" width="1.95" height="1.94" fill="#ec6636"/><rect x="348.90" y="150.86" width="1.95" height="1.94" fill="#ee6a33"/><rect x="350.70" y="150.86" width="1.95" height="1.94" fill="#f0722e"/><rect x="352.50" y="150.86" width="1.95" height="1.94" fill="#f27929"/></g><g shape-rendering="crispEdges"><rect x="300.30" y="152.65" width="1.95" height="1.94" fill="#fa9420"/><rect x="302.10" y="152.65" width="1.95" height="1.94" fill="#f99320"/><rect x="303.90" y="152.65" width="1.95" height="1.94" fill="#f99320"/><rect x="305.70" y="152.65" width="1.95" height="1.94" fill="#fa9420"/><rect x="307.50" y="152.65" width="1.95" height="1.94" fill="#f99320"/><rect x="309.30" y="152.65" width="1.95" height="1.94" fill="#f99320"/><rect x="311.10" y="152.65" width="1.95" height="1.94" fill="#f99320"/><rect x="312.90" y="152.65" width="1.95" height="1.94" fill="#f99320"/><rect x="314.70" y="152.65" width="1.95" height="1.94" fill="#f99320"/><rect x="316.50" y="152.65" width="1.49" height="1.94" fill="#fa9420"/><rect x="317.84" y="152.65" width="0.61" height="1.94" fill="#9520a4"/><rect x="318.30" y="152.65" width="1.95" height="1.94" fill="#8d1e9e"/><rect x="320.10" y="152.65" width="1.95" height="1.94" fill="#921fa2"/><rect x="321.90" y="152.65" width="1.95" height="1.94" fill="#851d97"/><rect x="323.70" y="152.65" width="1.95" height="1.94" fill="#7f1b92"/><rect x="325.50" y="152.65" width="1.95" height="1.94" fill="#891d9a"/><rect x="327.30" y="152.65" width="1.95" height="1.94" fill="#8b1e9d"/><rect x="329.10" y="152.65" width="1.95" height="1.94" fill="#8d1e9e"/><rect x="330.90" y="152.65" width="1.95" height="1.94" fill="#a1249b"/><rect x="332.70" y="152.65" width="1.95" height="1.94" fill="#9e229e"/><rect x="334.50" y="152.65" width="1.95" height="1.94" fill="#9b21a1"/><rect x="336.30" y="152.65" width="1.95" height="1.94" fill="#bd2d82"/><rect x="338.10" y="152.65" width="1.95" height="1.94" fill="#c12e7e"/><rect x="339.90" y="152.65" width="1.95" height="1.94" fill="#d0376d"/><rect x="341.70" y="152.65" width="1.95" height="1.94" fill="#d8435f"/><rect x="343.50" y="152.65" width="1.95" height="1.94" fill="#e55945"/><rect x="345.30" y="152.65" width="1.95" height="1.94" fill="#ec6438"/><rect x="347.10" y="152.65" width="1.95" height="1.94" fill="#f0732d"/><rect x="348.90" y="152.65" width="1.95" height="1.94" fill="#f2772a"/><rect x="350.70" y="152.65" width="1.95" height="1.94" fill="#f47e25"/><rect x="352.50" y="152.65" width="1.95" height="1.94" fill="#f68620"/></g><g shape-rendering="crispEdges"><rect x="300.30" y="154.44" width="1.95" height="1.94" fill="#f99320"/><rect x="302.10" y="154.44" width="1.95" height="1.94" fill="#f99320"/><rect x="303.90" y="154.44" width="1.95" height="1.94" fill="#f99320"/><rect x="305.70" y="154.44" width="1.95" height="1.94" fill="#f99320"/><rect x="307.50" y="154.44" width="1.95" height="1.94" fill="#f99320"/><rect x="309.30" y="154.44" width="1.95" height="1.94" fill="#f9921f"/><rect x="311.10" y="154.44" width="1.95" height="1.94" fill="#f99320"/><rect x="312.90" y="154.44" width="1.95" height="1.94" fill="#f9921f"/><rect x="314.70" y="154.44" width="1.95" height="1.94" fill="#f99320"/><rect x="316.50" y="154.44" width="1.48" height="1.94" fill="#fa9420"/><rect x="317.83" y="154.44" width="0.62" height="1.94" fill="#851d98"/><rect x="318.30" y="154.44" width="1.95" height="1.94" fill="#7c1b90"/><rect x="320.10" y="154.44" width="1.95" height="1.94" fill="#811c94"/><rect x="321.90" y="154.44" width="1.95" height="1.94" fill="#731989"/><rect x="323.70" y="154.44" width="1.95" height="1.94" fill="#6e1885"/><rect x="325.50" y="154.44" width="1.95" height="1.94" fill="#781a8d"/><rect x="327.30" y="154.44" width="1.95" height="1.94" fill="#7b1b90"/><rect x="329.10" y="154.44" width="1.95" height="1.94" fill="#7e1b92"/><rect x="330.90" y="154.44" width="1.95" height="1.94" fill="#901fa0"/><rect x="332.70" y="154.44" width="1.95" height="1.94" fill="#8e1e9e"/><rect x="334.50" y="154.44" width="1.95" height="1.94" fill="#8b1e9c"/><rect x="336.30" y="154.44" width="1.95" height="1.94" fill="#ab2792"/><rect x="338.10" y="154.44" width="1.95" height="1.94" fill="#af288e"/><rect x="339.90" y="154.44" width="1.95" height="1.94" fill="#c02e7f"/><rect x="341.70" y="154.44" width="1.95" height="1.94" fill="#cb3175"/><rect x="343.50" y="154.44" width="1.95" height="1.94" fill="#d9455c"/><rect x="345.30" y="154.44" width="1.95" height="1.94" fill="#df504f"/><rect x="347.10" y="154.44" width="1.95" height="1.94" fill="#ed6934"/><rect x="348.90" y="154.44" width="1.95" height="1.94" fill="#ef6e30"/><rect x="350.70" y="154.44" width="1.95" height="1.94" fill="#f1752b"/><rect x="352.50" y="154.44" width="1.95" height="1.94" fill="#f37c26"/></g><g shape-rendering="crispEdges"><rect x="300.30" y="156.23" width="1.95" height="1.94" fill="#f99320"/><rect x="302.10" y="156.23" width="1.95" height="1.94" fill="#f9921f"/><rect x="303.90" y="156.23" width="1.95" height="1.94" fill="#f9921f"/><rect x="305.70" y="156.23" width="1.95" height="1.94" fill="#f99320"/><rect x="307.50" y="156.23" width="1.95" height="1.94" fill="#f9921f"/><rect x="309.30" y="156.23" width="1.95" height="1.94" fill="#f9921f"/><rect x="311.10" y="156.23" width="1.95" height="1.94" fill="#f9921f"/><rect x="312.90" y="156.23" width="1.95" height="1.94" fill="#f9921f"/><rect x="314.70" y="156.23" width="1.95" height="1.94" fill="#f9921f"/><rect x="316.50" y="156.23" width="1.47" height="1.94" fill="#fa9420"/><rect x="317.82" y="156.23" width="0.63" height="1.94" fill="#781a8d"/><rect x="318.30" y="156.23" width="1.95" height="1.94" fill="#6d1884"/><rect x="320.10" y="156.23" width="1.95" height="1.94" fill="#711988"/><rect x="321.90" y="156.23" width="1.95" height="1.94" fill="#64167d"/><rect x="323.70" y="156.23" width="1.95" height="1.94" fill="#5f1578"/><rect x="325.50" y="156.23" width="1.95" height="1.94" fill="#691781"/><rect x="327.30" y="156.23" width="1.95" height="1.94" fill="#6c1884"/><rect x="329.10" y="156.23" width="1.95" height="1.94" fill="#6f1886"/><rect x="330.90" y="156.23" width="1.95" height="1.94" fill="#821c95"/><rect x="332.70" y="156.23" width="1.95" height="1.94" fill="#801c94"/><rect x="334.50" y="156.23" width="1.95" height="1.94" fill="#7e1b92"/><rect x="336.30" y="156.23" width="1.95" height="1.94" fill="#9b22a1"/><rect x="338.10" y="156.23" width="1.95" height="1.94" fill="#9f239d"/><rect x="339.90" y="156.23" width="1.95" height="1.94" fill="#af288e"/><rect x="341.70" y="156.23" width="1.95" height="1.94" fill="#ba2c85"/><rect x="343.50" y="156.23" width="1.95" height="1.94" fill="#cd3273"/><rect x="345.30" y="156.23" width="1.95" height="1.94" fill="#d33c67"/><rect x="347.10" y="156.23" width="1.95" height="1.94" fill="#e55a44"/><rect x="348.90" y="156.23" width="1.95" height="1.94" fill="#eb6339"/><rect x="350.70" y="156.23" width="1.95" height="1.94" fill="#ee6b32"/><rect x="352.50" y="156.23" width="1.95" height="1.94" fill="#f0722d"/></g><g shape-rendering="crispEdges"><rect x="300.30" y="158.02" width="1.95" height="1.94" fill="#f99320"/><rect x="302.10" y="158.02" width="1.95" height="1.94" fill="#f9921f"/><rect x="303.90" y="158.02" width="1.95" height="1.94" fill="#f9921f"/><rect x="305.70" y="158.02" width="1.95" height="1.94" fill="#f99320"/><rect x="307.50" y="158.02" width="1.95" height="1.94" fill="#f9921f"/><rect x="309.30" y="158.02" width="1.95" height="1.94" fill="#f9921f"/><rect x="311.10" y="158.02" width="1.95" height="1.94" fill="#f9921f"/><rect x="312.90" y="158.02" width="1.95" height="1.94" fill="#f9921f"/><rect x="314.70" y="158.02" width="1.95" height="1.94" fill="#f9921f"/><rect x="316.50" y="158.02" width="1.46" height="1.94" fill="#fa9420"/><rect x="317.81" y="158.02" width="0.64" height="1.94" fill="#701887"/><rect x="318.30" y="158.02" width="1.95" height="1.94" fill="#65167e"/><rect x="320.10" y="158.02" width="1.95" height="1.94" fill="#681781"/><rect x="321.90" y="158.02" width="1.95" height="1.94" fill="#5d1574"/><rect x="323.70" y="158.02" width="1.95" height="1.94" fill="#58146f"/><rect x="325.50" y="158.02" width="1.95" height="1.94" fill="#611679"/><rect x="327.30" y="158.02" width="1.95" height="1.94" fill="#64167d"/><rect x="329.10" y="158.02" width="1.95" height="1.94" fill="#67177f"/><rect x="330.90" y="158.02" width="1.95" height="1.94" fill="#7a1a8f"/><rect x="332.70" y="158.02" width="1.95" height="1.94" fill="#791a8e"/><rect x="334.50" y="158.02" width="1.95" height="1.94" fill="#771a8c"/><rect x="336.30" y="158.02" width="1.95" height="1.94" fill="#931fa2"/><rect x="338.10" y="158.02" width="1.95" height="1.94" fill="#9620a5"/><rect x="339.90" y="158.02" width="1.95" height="1.94" fill="#a62597"/><rect x="341.70" y="158.02" width="1.95" height="1.94" fill="#b0298d"/><rect x="343.50" y="158.02" width="1.95" height="1.94" fill="#c32f7c"/><rect x="345.30" y="158.02" width="1.95" height="1.94" fill="#cc3274"/><rect x="347.10" y="158.02" width="1.95" height="1.94" fill="#de4e52"/><rect x="348.90" y="158.02" width="1.95" height="1.94" fill="#e35648"/><rect x="350.70" y="158.02" width="1.95" height="1.94" fill="#ec6537"/><rect x="352.50" y="158.02" width="1.95" height="1.94" fill="#ee6c31"/></g><g shape-rendering="crispEdges"><rect x="300.30" y="159.81" width="1.95" height="1.94" fill="#f99320"/><rect x="302.10" y="159.81" width="1.95" height="1.94" fill="#f99320"/><rect x="303.90" y="159.81" width="1.95" height="1.94" fill="#f99320"/><rect x="305.70" y="159.81" width="1.95" height="1.94" fill="#f99320"/><rect x="307.50" y="159.81" width="1.95" height="1.94" fill="#f99320"/><rect x="309.30" y="159.81" width="1.95" height="1.94" fill="#f9921f"/><rect x="311.10" y="159.81" width="1.95" height="1.94" fill="#f99320"/><rect x="312.90" y="159.81" width="1.95" height="1.94" fill="#f9921f"/><rect x="314.70" y="159.81" width="1.95" height="1.94" fill="#f99320"/><rect x="316.50" y="159.81" width="1.45" height="1.94" fill="#fa9420"/><rect x="317.80" y="159.81" width="0.65" height="1.94" fill="#771a8c"/><rect x="318.30" y="159.81" width="1.95" height="1.94" fill="#6b1782"/><rect x="320.10" y="159.81" width="1.95" height="1.94" fill="#6e1885"/><rect x="321.90" y="159.81" width="1.95" height="1.94" fill="#61167a"/><rect x="323.70" y="159.81" width="1.95" height="1.94" fill="#5c1574"/><rect x="325.50" y="159.81" width="1.95" height="1.94" fill="#66167e"/><rect x="327.30" y="159.81" width="1.95" height="1.94" fill="#6a1781"/><rect x="329.10" y="159.81" width="1.95" height="1.94" fill="#6d1884"/><rect x="330.90" y="159.81" width="1.95" height="1.94" fill="#811c94"/><rect x="332.70" y="159.81" width="1.95" height="1.94" fill="#801c94"/><rect x="334.50" y="159.81" width="1.95" height="1.94" fill="#7e1b92"/><rect x="336.30" y="159.81" width="1.95" height="1.94" fill="#9b22a1"/><rect x="338.10" y="159.81" width="1.95" height="1.94" fill="#9e239d"/><rect x="339.90" y="159.81" width="1.95" height="1.94" fill="#ae288f"/><rect x="341.70" y="159.81" width="1.95" height="1.94" fill="#b82b86"/><rect x="343.50" y="159.81" width="1.95" height="1.94" fill="#cb3175"/><rect x="345.30" y="159.81" width="1.95" height="1.94" fill="#d1396b"/><rect x="347.10" y="159.81" width="1.95" height="1.94" fill="#e35549"/><rect x="348.90" y="159.81" width="1.95" height="1.94" fill="#e85d3f"/><rect x="350.70" y="159.81" width="1.95" height="1.94" fill="#ed6834"/><rect x="352.50" y="159.81" width="1.95" height="1.94" fill="#f0702f"/></g><g shape-rendering="crispEdges"><rect x="300.30" y="161.60" width="1.95" height="1.94" fill="#f99320"/><rect x="302.10" y="161.60" width="1.95" height="1.94" fill="#f99320"/><rect x="303.90" y="161.60" width="1.95" height="1.94" fill="#f99320"/><rect x="305.70" y="161.60" width="1.95" height="1.94" fill="#f99320"/><rect x="307.50" y="161.60" width="1.95" height="1.94" fill="#f99320"/><rect x="309.30" y="161.60" width="1.95" height="1.94" fill="#f9921f"/><rect x="311.10" y="161.60" width="1.95" height="1.94" fill="#f99320"/><rect x="312.90" y="161.60" width="1.95" height="1.94" fill="#f9921f"/><rect x="314.70" y="161.60" width="1.95" height="1.94" fill="#f99320"/><rect x="316.50" y="161.60" width="1.44" height="1.94" fill="#fa9420"/><rect x="317.79" y="161.60" width="0.66" height="1.94" fill="#75198a"/><rect x="318.30" y="161.60" width="1.95" height="1.94" fill="#671780"/><rect x="320.10" y="161.60" width="1.95" height="1.94" fill="#6a1782"/><rect x="321.90" y="161.60" width="1.95" height="1.94" fill="#5e1576"/><rect x="323.70" y="161.60" width="1.95" height="1.94" fill="#591470"/><rect x="325.50" y="161.60" width="1.95" height="1.94" fill="#62167b"/><rect x="327.30" y="161.60" width="1.95" height="1.94" fill="#66167f"/><rect x="329.10" y="161.60" width="1.95" height="1.94" fill="#691781"/><rect x="330.90" y="161.60" width="1.95" height="1.94" fill="#7e1b92"/><rect x="332.70" y="161.60" width="1.95" height="1.94" fill="#7e1b92"/><rect x="334.50" y="161.60" width="1.95" height="1.94" fill="#7c1b90"/><rect x="336.30" y="161.60" width="1.95" height="1.94" fill="#9821a3"/><rect x="338.10" y="161.60" width="1.95" height="1.94" fill="#9c22a0"/><rect x="339.90" y="161.60" width="1.95" height="1.94" fill="#ab2792"/><rect x="341.70" y="161.60" width="1.95" height="1.94" fill="#b52a89"/><rect x="343.50" y="161.60" width="1.95" height="1.94" fill="#c73078"/><rect x="345.30" y="161.60" width="1.95" height="1.94" fill="#ce3471"/><rect x="347.10" y="161.60" width="1.95" height="1.94" fill="#df504f"/><rect x="348.90" y="161.60" width="1.95" height="1.94" fill="#e45746"/><rect x="350.70" y="161.60" width="1.95" height="1.94" fill="#ec6536"/><rect x="352.50" y="161.60" width="1.95" height="1.94" fill="#ef6d31"/></g><g shape-rendering="crispEdges"><rect x="300.30" y="163.39" width="1.95" height="1.94" fill="#f99320"/><rect x="302.10" y="163.39" width="1.95" height="1.94" fill="#f99320"/><rect x="303.90" y="163.39" width="1.95" height="1.94" fill="#f99320"/><rect x="305.70" y="163.39" width="1.95" height="1.94" fill="#f99320"/><rect x="307.50" y="163.39" width="1.95" height="1.94" fill="#f9921f"/><rect x="309.30" y="163.39" width="1.95" height="1.94" fill="#f9921f"/><rect x="311.10" y="163.39" width="1.95" height="1.94" fill="#f99320"/><rect x="312.90" y="163.39" width="1.95" height="1.94" fill="#f9921f"/><rect x="314.70" y="163.39" width="1.95" height="1.94" fill="#f99320"/><rect x="316.50" y="163.39" width="1.43" height="1.94" fill="#fa9420"/><rect x="317.78" y="163.39" width="0.67" height="1.94" fill="#6c1884"/><rect x="318.30" y="163.39" width="1.95" height="1.94" fill="#5f1577"/><rect x="320.10" y="163.39" width="1.95" height="1.94" fill="#611679"/><rect x="321.90" y="163.39" width="1.95" height="1.94" fill="#56146c"/><rect x="323.70" y="163.39" width="1.95" height="1.94" fill="#511367"/><rect x="325.50" y="163.39" width="1.95" height="1.94" fill="#5a1571"/><rect x="327.30" y="163.39" width="1.95" height="1.94" fill="#5e1575"/><rect x="329.10" y="163.39" width="1.95" height="1.94" fill="#611679"/><rect x="330.90" y="163.39" width="1.95" height="1.94" fill="#75198b"/><rect x="332.70" y="163.39" width="1.95" height="1.94" fill="#761a8b"/><rect x="334.50" y="163.39" width="1.95" height="1.94" fill="#74198a"/><rect x="336.30" y="163.39" width="1.95" height="1.94" fill="#901fa0"/><rect x="338.10" y="163.39" width="1.95" height="1.94" fill="#921fa2"/><rect x="339.90" y="163.39" width="1.95" height="1.94" fill="#a1249b"/><rect x="341.70" y="163.39" width="1.95" height="1.94" fill="#aa2792"/><rect x="343.50" y="163.39" width="1.95" height="1.94" fill="#bc2c83"/><rect x="345.30" y="163.39" width="1.95" height="1.94" fill="#c32f7c"/><rect x="347.10" y="163.39" width="1.95" height="1.94" fill="#d7435f"/><rect x="348.90" y="163.39" width="1.95" height="1.94" fill="#dc4a57"/><rect x="350.70" y="163.39" width="1.95" height="1.94" fill="#e55944"/><rect x="352.50" y="163.39" width="1.95" height="1.94" fill="#ed6735"/></g><g shape-rendering="crispEdges"><rect x="300.30" y="165.17" width="1.95" height="1.94" fill="#f99320"/><rect x="302.10" y="165.17" width="1.95" height="1.94" fill="#f99320"/><rect x="303.90" y="165.17" width="1.95" height="1.94" fill="#f99320"/><rect x="305.70" y="165.17" width="1.95" height="1.94" fill="#f99320"/><rect x="307.50" y="165.17" width="1.95" height="1.94" fill="#f99320"/><rect x="309.30" y="165.17" width="1.95" height="1.94" fill="#f9921f"/><rect x="311.10" y="165.17" width="1.95" height="1.94" fill="#f99320"/><rect x="312.90" y="165.17" width="1.95" height="1.94" fill="#f9921f"/><rect x="314.70" y="165.17" width="1.95" height="1.94" fill="#f99320"/><rect x="316.50" y="165.17" width="1.42" height="1.94" fill="#fa9420"/><rect x="317.77" y="165.17" width="0.68" height="1.94" fill="#6e1885"/><rect x="318.30" y="165.17" width="1.95" height="1.94" fill="#5f1577"/><rect x="320.10" y="165.17" width="1.95" height="1.94" fill="#611679"/><rect x="321.90" y="165.17" width="1.95" height="1.94" fill="#56146c"/><rect x="323.70" y="165.17" width="1.95" height="1.94" fill="#511367"/><rect x="325.50" y="165.17" width="1.95" height="1.94" fill="#5a1572"/><rect x="327.30" y="165.17" width="1.95" height="1.94" fill="#5e1577"/><rect x="329.10" y="165.17" width="1.95" height="1.94" fill="#62167b"/><rect x="330.90" y="165.17" width="1.95" height="1.94" fill="#771a8c"/><rect x="332.70" y="165.17" width="1.95" height="1.94" fill="#781a8d"/><rect x="334.50" y="165.17" width="1.95" height="1.94" fill="#771a8c"/><rect x="336.30" y="165.17" width="1.95" height="1.94" fill="#931fa2"/><rect x="338.10" y="165.17" width="1.95" height="1.94" fill="#9520a5"/><rect x="339.90" y="165.17" width="1.95" height="1.94" fill="#a52598"/><rect x="341.70" y="165.17" width="1.95" height="1.94" fill="#ae288f"/><rect x="343.50" y="165.17" width="1.95" height="1.94" fill="#bf2d80"/><rect x="345.30" y="165.17" width="1.95" height="1.94" fill="#c63079"/><rect x="347.10" y="165.17" width="1.95" height="1.94" fill="#d9465b"/><rect x="348.90" y="165.17" width="1.95" height="1.94" fill="#de4d53"/><rect x="350.70" y="165.17" width="1.95" height="1.94" fill="#e75c40"/><rect x="352.50" y="165.17" width="1.95" height="1.94" fill="#ed6834"/></g><g shape-rendering="crispEdges"><rect x="300.30" y="166.96" width="1.95" height="1.94" fill="#f99320"/><rect x="302.10" y="166.96" width="1.95" height="1.94" fill="#f99320"/><rect x="303.90" y="166.96" width="1.95" height="1.94" fill="#f99320"/><rect x="305.70" y="166.96" width="1.95" height="1.94" fill="#f99320"/><rect x="307.50" y="166.96" width="1.95" height="1.94" fill="#f9921f"/><rect x="309.30" y="166.96" width="1.95" height="1.94" fill="#f9921f"/><rect x="311.10" y="166.96" width="1.95" height="1.94" fill="#f99320"/><rect x="312.90" y="166.96" width="1.95" height="1.94" fill="#f9921f"/><rect x="314.70" y="166.96" width="1.95" height="1.94" fill="#f99320"/><rect x="316.50" y="166.96" width="1.41" height="1.94" fill="#fa9420"/><rect x="317.76" y="166.96" width="0.69" height="1.94" fill="#64167c"/><rect x="318.30" y="166.96" width="1.95" height="1.94" fill="#55146c"/><rect x="320.10" y="166.96" width="1.95" height="1.94" fill="#56146d"/><rect x="321.90" y="166.96" width="1.95" height="1.94" fill="#4b1260"/><rect x="323.70" y="166.96" width="1.95" height="1.94" fill="#47125c"/><rect x="325.50" y="166.96" width="1.95" height="1.94" fill="#511367"/><rect x="327.30" y="166.96" width="1.95" height="1.94" fill="#56146c"/><rect x="329.10" y="166.96" width="1.95" height="1.94" fill="#5a1571"/><rect x="330.90" y="166.96" width="1.95" height="1.94" fill="#6e1885"/><rect x="332.70" y="166.96" width="1.95" height="1.94" fill="#6f1886"/><rect x="334.50" y="166.96" width="1.95" height="1.94" fill="#6e1885"/><rect x="336.30" y="166.96" width="1.95" height="1.94" fill="#8a1e9c"/><rect x="338.10" y="166.96" width="1.95" height="1.94" fill="#8d1e9e"/><rect x="339.90" y="166.96" width="1.95" height="1.94" fill="#9b22a1"/><rect x="341.70" y="166.96" width="1.95" height="1.94" fill="#a42598"/><rect x="343.50" y="166.96" width="1.95" height="1.94" fill="#b52a89"/><rect x="345.30" y="166.96" width="1.95" height="1.94" fill="#bc2d82"/><rect x="347.10" y="166.96" width="1.95" height="1.94" fill="#d33b68"/><rect x="348.90" y="166.96" width="1.95" height="1.94" fill="#d74260"/><rect x="350.70" y="166.96" width="1.95" height="1.94" fill="#e1514d"/><rect x="352.50" y="166.96" width="1.95" height="1.94" fill="#eb623a"/></g><g shape-rendering="crispEdges"><rect x="300.30" y="168.75" width="1.95" height="1.94" fill="#f99320"/><rect x="302.10" y="168.75" width="1.95" height="1.94" fill="#f99320"/><rect x="303.90" y="168.75" width="1.95" height="1.94" fill="#f99320"/><rect x="305.70" y="168.75" width="1.95" height="1.94" fill="#f99320"/><rect x="307.50" y="168.75" width="1.95" height="1.94" fill="#f99320"/><rect x="309.30" y="168.75" width="1.95" height="1.94" fill="#f9921f"/><rect x="311.10" y="168.75" width="1.95" height="1.94" fill="#f99320"/><rect x="312.90" y="168.75" width="1.95" height="1.94" fill="#f99320"/><rect x="314.70" y="168.75" width="1.95" height="1.94" fill="#f99320"/><rect x="316.50" y="168.75" width="1.40" height="1.94" fill="#fa9420"/><rect x="317.75" y="168.75" width="0.70" height="1.94" fill="#681780"/><rect x="318.30" y="168.75" width="1.95" height="1.94" fill="#57146e"/><rect x="320.10" y="168.75" width="1.95" height="1.94" fill="#58146f"/><rect x="321.90" y="168.75" width="1.95" height="1.94" fill="#4d1362"/><rect x="323.70" y="168.75" width="1.95" height="1.94" fill="#4a125e"/><rect x="325.50" y="168.75" width="1.95" height="1.94" fill="#54146a"/><rect x="327.30" y="168.75" width="1.95" height="1.94" fill="#591470"/><rect x="329.10" y="168.75" width="1.95" height="1.94" fill="#5e1575"/><rect x="330.90" y="168.75" width="1.95" height="1.94" fill="#731989"/><rect x="332.70" y="168.75" width="1.95" height="1.94" fill="#75198a"/><rect x="334.50" y="168.75" width="1.95" height="1.94" fill="#74198a"/><rect x="336.30" y="168.75" width="1.95" height="1.94" fill="#911fa1"/><rect x="338.10" y="168.75" width="1.95" height="1.94" fill="#9420a3"/><rect x="339.90" y="168.75" width="1.95" height="1.94" fill="#a2249a"/><rect x="341.70" y="168.75" width="1.95" height="1.94" fill="#ac2791"/><rect x="343.50" y="168.75" width="1.95" height="1.94" fill="#bd2d82"/><rect x="345.30" y="168.75" width="1.95" height="1.94" fill="#c42f7b"/><rect x="347.10" y="168.75" width="1.95" height="1.94" fill="#d8435e"/><rect x="348.90" y="168.75" width="1.95" height="1.94" fill="#dc4a56"/><rect x="350.70" y="168.75" width="1.95" height="1.94" fill="#e65a43"/><rect x="352.50" y="168.75" width="1.95" height="1.94" fill="#ed6735"/></g><g shape-rendering="crispEdges"><rect x="300.30" y="170.54" width="1.95" height="1.94" fill="#f99320"/><rect x="302.10" y="170.54" width="1.95" height="1.94" fill="#f99320"/><rect x="303.90" y="170.54" width="1.95" height="1.94" fill="#f9921f"/><rect x="305.70" y="170.54" width="1.95" height="1.94" fill="#f99320"/><rect x="307.50" y="170.54" width="1.95" height="1.94" fill="#f9921f"/><rect x="309.30" y="170.54" width="1.95" height="1.94" fill="#f9921f"/><rect x="311.10" y="170.54" width="1.95" height="1.94" fill="#f99320"/><rect x="312.90" y="170.54" width="1.95" height="1.94" fill="#f9921f"/><rect x="314.70" y="170.54" width="1.95" height="1.94" fill="#f99320"/><rect x="316.50" y="170.54" width="1.39" height="1.94" fill="#fa9420"/><rect x="317.74" y="170.54" width="0.71" height="1.94" fill="#5b1572"/><rect x="318.30" y="170.54" width="1.95" height="1.94" fill="#4a125f"/><rect x="320.10" y="170.54" width="1.95" height="1.94" fill="#4b125f"/><rect x="321.90" y="170.54" width="1.95" height="1.94" fill="#401153"/><rect x="323.70" y="170.54" width="1.95" height="1.94" fill="#3d104f"/><rect x="325.50" y="170.54" width="1.95" height="1.94" fill="#47125c"/><rect x="327.30" y="170.54" width="1.95" height="1.94" fill="#4d1362"/><rect x="329.10" y="170.54" width="1.95" height="1.94" fill="#521368"/><rect x="330.90" y="170.54" width="1.95" height="1.94" fill="#65167e"/><rect x="332.70" y="170.54" width="1.95" height="1.94" fill="#681780"/><rect x="334.50" y="170.54" width="1.95" height="1.94" fill="#67177f"/><rect x="336.30" y="170.54" width="1.95" height="1.94" fill="#841c97"/><rect x="338.10" y="170.54" width="1.95" height="1.94" fill="#871d99"/><rect x="339.90" y="170.54" width="1.95" height="1.94" fill="#9420a3"/><rect x="341.70" y="170.54" width="1.95" height="1.94" fill="#9d229f"/><rect x="343.50" y="170.54" width="1.95" height="1.94" fill="#ae288f"/><rect x="345.30" y="170.54" width="1.95" height="1.94" fill="#b52a89"/><rect x="347.10" y="170.54" width="1.95" height="1.94" fill="#ce3372"/><rect x="348.90" y="170.54" width="1.95" height="1.94" fill="#d23a69"/><rect x="350.70" y="170.54" width="1.95" height="1.94" fill="#dc4a57"/><rect x="352.50" y="170.54" width="1.95" height="1.94" fill="#e65a43"/></g><g shape-rendering="crispEdges"><rect x="300.30" y="172.33" width="1.95" height="1.94" fill="#f99320"/><rect x="302.10" y="172.33" width="1.95" height="1.94" fill="#f99320"/><rect x="303.90" y="172.33" width="1.95" height="1.94" fill="#f99320"/><rect x="305.70" y="172.33" width="1.95" height="1.94" fill="#f99320"/><rect x="307.50" y="172.33" width="1.95" height="1.94" fill="#f99320"/><rect x="309.30" y="172.33" width="1.95" height="1.94" fill="#f9921f"/><rect x="311.10" y="172.33" width="1.95" height="1.94" fill="#f99320"/><rect x="312.90" y="172.33" width="1.95" height="1.94" fill="#f9921f"/><rect x="314.70" y="172.33" width="1.95" height="1.94" fill="#f99320"/><rect x="316.50" y="172.33" width="1.38" height="1.94" fill="#fa9420"/><rect x="317.73" y="172.33" width="0.72" height="1.94" fill="#5b1573"/><rect x="318.30" y="172.33" width="1.95" height="1.94" fill="#49125e"/><rect x="320.10" y="172.33" width="1.95" height="1.94" fill="#49125e"/><rect x="321.90" y="172.33" width="1.95" height="1.94" fill="#3e1151"/><rect x="323.70" y="172.33" width="1.95" height="1.94" fill="#3c104e"/><rect x="325.50" y="172.33" width="1.95" height="1.94" fill="#47125b"/><rect x="327.30" y="172.33" width="1.95" height="1.94" fill="#4d1362"/><rect x="329.10" y="172.33" width="1.95" height="1.94" fill="#521369"/><rect x="330.90" y="172.33" width="1.95" height="1.94" fill="#66167f"/><rect x="332.70" y="172.33" width="1.95" height="1.94" fill="#691781"/><rect x="334.50" y="172.33" width="1.95" height="1.94" fill="#691781"/><rect x="336.30" y="172.33" width="1.95" height="1.94" fill="#871d99"/><rect x="338.10" y="172.33" width="1.95" height="1.94" fill="#8a1e9b"/><rect x="339.90" y="172.33" width="1.95" height="1.94" fill="#9620a5"/><rect x="341.70" y="172.33" width="1.95" height="1.94" fill="#a0239c"/><rect x="343.50" y="172.33" width="1.95" height="1.94" fill="#b1298c"/><rect x="345.30" y="172.33" width="1.95" height="1.94" fill="#b82b86"/><rect x="347.10" y="172.33" width="1.95" height="1.94" fill="#d0366e"/><rect x="348.90" y="172.33" width="1.95" height="1.94" fill="#d43d65"/><rect x="350.70" y="172.33" width="1.95" height="1.94" fill="#de4d53"/><rect x="352.50" y="172.33" width="1.95" height="1.94" fill="#e85d3f"/></g><g shape-rendering="crispEdges"><rect x="300.30" y="174.12" width="1.95" height="1.94" fill="#f99420"/><rect x="302.10" y="174.12" width="1.95" height="1.94" fill="#f99320"/><rect x="303.90" y="174.12" width="1.95" height="1.94" fill="#f99320"/><rect x="305.70" y="174.12" width="1.95" height="1.94" fill="#f99420"/><rect x="307.50" y="174.12" width="1.95" height="1.94" fill="#f99320"/><rect x="309.30" y="174.12" width="1.95" height="1.94" fill="#f99320"/><rect x="311.10" y="174.12" width="1.95" height="1.94" fill="#f99320"/><rect x="312.90" y="174.12" width="1.95" height="1.94" fill="#f99320"/><rect x="314.70" y="174.12" width="1.95" height="1.94" fill="#f99320"/><rect x="316.50" y="174.12" width="1.37" height="1.94" fill="#fa9420"/><rect x="317.72" y="174.12" width="0.73" height="1.94" fill="#5d1575"/><rect x="318.30" y="174.12" width="1.95" height="1.94" fill="#4a125e"/><rect x="320.10" y="174.12" width="1.95" height="1.94" fill="#4a125e"/><rect x="321.90" y="174.12" width="1.95" height="1.94" fill="#3f1151"/><rect x="323.70" y="174.12" width="1.95" height="1.94" fill="#3d104f"/><rect x="325.50" y="174.12" width="1.95" height="1.94" fill="#48125d"/><rect x="327.30" y="174.12" width="1.95" height="1.94" fill="#4f1364"/><rect x="329.10" y="174.12" width="1.95" height="1.94" fill="#55146b"/><rect x="330.90" y="174.12" width="1.95" height="1.94" fill="#6a1782"/><rect x="332.70" y="174.12" width="1.95" height="1.94" fill="#6d1884"/><rect x="334.50" y="174.12" width="1.95" height="1.94" fill="#6d1884"/><rect x="336.30" y="174.12" width="1.95" height="1.94" fill="#8c1e9d"/><rect x="338.10" y="174.12" width="1.95" height="1.94" fill="#8f1f9f"/><rect x="339.90" y="174.12" width="1.95" height="1.94" fill="#9d229f"/><rect x="341.70" y="174.12" width="1.95" height="1.94" fill="#a62597"/><rect x="343.50" y="174.12" width="1.95" height="1.94" fill="#b72b87"/><rect x="345.30" y="174.12" width="1.95" height="1.94" fill="#be2d80"/><rect x="347.10" y="174.12" width="1.95" height="1.94" fill="#d43d66"/><rect x="348.90" y="174.12" width="1.95" height="1.94" fill="#d8445d"/><rect x="350.70" y="174.12" width="1.95" height="1.94" fill="#e2544b"/><rect x="352.50" y="174.12" width="1.95" height="1.94" fill="#ec6437"/></g><g shape-rendering="crispEdges"><rect x="300.30" y="175.91" width="1.95" height="1.94" fill="#fa9420"/><rect x="302.10" y="175.91" width="1.95" height="1.94" fill="#fa9420"/><rect x="303.90" y="175.91" width="1.95" height="1.94" fill="#fa9420"/><rect x="305.70" y="175.91" width="1.95" height="1.94" fill="#fa9420"/><rect x="307.50" y="175.91" width="1.95" height="1.94" fill="#f99420"/><rect x="309.30" y="175.91" width="1.95" height="1.94" fill="#f99320"/><rect x="311.10" y="175.91" width="1.95" height="1.94" fill="#fa9420"/><rect x="312.90" y="175.91" width="1.95" height="1.94" fill="#f99320"/><rect x="314.70" y="175.91" width="1.95" height="1.94" fill="#fa9420"/><rect x="316.50" y="175.91" width="1.36" height="1.94" fill="#fa9420"/><rect x="317.71" y="175.91" width="0.74" height="1.94" fill="#3f1151"/><rect x="318.30" y="175.91" width="1.95" height="1.94" fill="#2c0f39"/><rect x="320.10" y="175.91" width="1.95" height="1.94" fill="#2a0f37"/><rect x="321.90" y="175.91" width="1.95" height="1.94" fill="#260f31"/><rect x="323.70" y="175.91" width="1.95" height="1.94" fill="#270f32"/><rect x="325.50" y="175.91" width="1.95" height="1.94" fill="#300f3f"/><rect x="327.30" y="175.91" width="1.95" height="1.94" fill="#381049"/><rect x="329.10" y="175.91" width="1.95" height="1.94" fill="#431157"/><rect x="330.90" y="175.91" width="1.95" height="1.94" fill="#5c1574"/><rect x="332.70" y="175.91" width="1.95" height="1.94" fill="#64167d"/><rect x="334.50" y="175.91" width="1.95" height="1.94" fill="#691781"/><rect x="336.30" y="175.91" width="1.95" height="1.94" fill="#8c1e9d"/><rect x="338.10" y="175.91" width="1.95" height="1.94" fill="#921fa1"/><rect x="339.90" y="175.91" width="1.95" height="1.94" fill="#a2249a"/><rect x="341.70" y="175.91" width="1.95" height="1.94" fill="#ad2890"/><rect x="343.50" y="175.91" width="1.95" height="1.94" fill="#c02e7f"/><rect x="345.30" y="175.91" width="1.95" height="1.94" fill="#c83078"/><rect x="347.10" y="175.91" width="1.95" height="1.94" fill="#db4859"/><rect x="348.90" y="175.91" width="1.95" height="1.94" fill="#df4f50"/><rect x="350.70" y="175.91" width="1.95" height="1.94" fill="#e95f3d"/><rect x="352.50" y="175.91" width="1.95" height="1.94" fill="#ee6933"/></g><g shape-rendering="crispEdges"><rect x="300.30" y="177.70" width="1.95" height="1.94" fill="#f99320"/><rect x="302.10" y="177.70" width="1.95" height="1.94" fill="#f99320"/><rect x="303.90" y="177.70" width="1.95" height="1.94" fill="#f9921f"/><rect x="305.70" y="177.70" width="1.95" height="1.94" fill="#f99320"/><rect x="307.50" y="177.70" width="1.95" height="1.94" fill="#f9921f"/><rect x="309.30" y="177.70" width="1.95" height="1.94" fill="#f9921f"/><rect x="311.10" y="177.70" width="1.95" height="1.94" fill="#f99320"/><rect x="312.90" y="177.70" width="1.95" height="1.94" fill="#f9921f"/><rect x="314.70" y="177.70" width="1.95" height="1.94" fill="#f9921f"/><rect x="316.50" y="177.70" width="1.35" height="1.94" fill="#fa9420"/><rect x="317.70" y="177.70" width="0.75" height="1.94" fill="#1a0e21"/><rect x="318.30" y="177.70" width="1.95" height="1.94" fill="#16121b"/><rect x="320.10" y="177.70" width="1.95" height="1.94" fill="#0e1e13"/><rect x="321.90" y="177.70" width="1.95" height="1.94" fill="#0f1d14"/><rect x="323.70" y="177.70" width="1.95" height="1.94" fill="#230f2d"/><rect x="325.50" y="177.70" width="1.95" height="1.94" fill="#180e1e"/><rect x="327.30" y="177.70" width="1.95" height="1.94" fill="#190e1f"/><rect x="329.10" y="177.70" width="1.95" height="1.94" fill="#240f2e"/><rect x="330.90" y="177.70" width="1.95" height="1.94" fill="#341044"/><rect x="332.70" y="177.70" width="1.95" height="1.94" fill="#3c104e"/><rect x="334.50" y="177.70" width="1.95" height="1.94" fill="#441157"/><rect x="336.30" y="177.70" width="1.95" height="1.94" fill="#65167e"/><rect x="338.10" y="177.70" width="1.95" height="1.94" fill="#6d1885"/><rect x="339.90" y="177.70" width="1.95" height="1.94" fill="#7e1b92"/><rect x="341.70" y="177.70" width="1.95" height="1.94" fill="#891d9a"/><rect x="343.50" y="177.70" width="1.95" height="1.94" fill="#9921a3"/><rect x="345.30" y="177.70" width="1.95" height="1.94" fill="#a2249a"/><rect x="347.10" y="177.70" width="1.95" height="1.94" fill="#bb2c83"/><rect x="348.90" y="177.70" width="1.95" height="1.94" fill="#c32f7c"/><rect x="350.70" y="177.70" width="1.95" height="1.94" fill="#d0366e"/><rect x="352.50" y="177.70" width="1.95" height="1.94" fill="#da475a"/></g><g shape-rendering="crispEdges"><rect x="300.30" y="179.49" width="1.95" height="1.94" fill="#f99320"/><rect x="302.10" y="179.49" width="1.95" height="1.94" fill="#f99320"/><rect x="303.90" y="179.49" width="1.95" height="1.94" fill="#f99320"/><rect x="305.70" y="179.49" width="1.95" height="1.94" fill="#f99320"/><rect x="307.50" y="179.49" width="1.95" height="1.94" fill="#f99320"/><rect x="309.30" y="179.49" width="1.95" height="1.94" fill="#f9921f"/><rect x="311.10" y="179.49" width="1.95" height="1.94" fill="#f99320"/><rect x="312.90" y="179.49" width="1.95" height="1.94" fill="#f9921f"/><rect x="314.70" y="179.49" width="1.95" height="1.94" fill="#f99320"/><rect x="316.50" y="179.49" width="1.27" height="1.94" fill="#fa9420"/><rect x="317.62" y="179.49" width="0.83" height="1.94" fill="#111916"/><rect x="318.30" y="179.49" width="1.95" height="1.94" fill="#0d2411"/><rect x="320.10" y="179.49" width="1.95" height="1.94" fill="#0c2310"/><rect x="321.90" y="179.49" width="1.95" height="1.94" fill="#0e1e13"/><rect x="323.70" y="179.49" width="1.95" height="1.94" fill="#0d2511"/><rect x="325.50" y="179.49" width="1.95" height="1.94" fill="#0d2611"/><rect x="327.30" y="179.49" width="1.95" height="1.94" fill="#131718"/><rect x="329.10" y="179.49" width="1.95" height="1.94" fill="#190e1f"/><rect x="330.90" y="179.49" width="1.95" height="1.94" fill="#2b0f38"/><rect x="332.70" y="179.49" width="1.95" height="1.94" fill="#351045"/><rect x="334.50" y="179.49" width="1.95" height="1.94" fill="#3b104d"/><rect x="336.30" y="179.49" width="1.95" height="1.94" fill="#5f1578"/><rect x="338.10" y="179.49" width="1.95" height="1.94" fill="#691781"/><rect x="339.90" y="179.49" width="1.95" height="1.94" fill="#7c1b90"/><rect x="341.70" y="179.49" width="1.95" height="1.94" fill="#881d9a"/><rect x="343.50" y="179.49" width="1.95" height="1.94" fill="#9921a3"/><rect x="345.30" y="179.49" width="1.95" height="1.94" fill="#a3249a"/><rect x="347.10" y="179.49" width="1.95" height="1.94" fill="#bd2d82"/><rect x="348.90" y="179.49" width="1.95" height="1.94" fill="#c52f7b"/><rect x="350.70" y="179.49" width="1.95" height="1.94" fill="#d1386b"/><rect x="352.50" y="179.49" width="1.95" height="1.94" fill="#db4958"/></g><g shape-rendering="crispEdges"><rect x="300.30" y="181.28" width="1.95" height="1.94" fill="#f99320"/><rect x="302.10" y="181.28" width="1.95" height="1.94" fill="#f99320"/><rect x="303.90" y="181.28" width="1.95" height="1.94" fill="#f9921f"/><rect x="305.70" y="181.28" width="1.95" height="1.94" fill="#f99320"/><rect x="307.50" y="181.28" width="1.95" height="1.94" fill="#f9921f"/><rect x="309.30" y="181.28" width="1.95" height="1.94" fill="#f9921f"/><rect x="311.10" y="181.28" width="1.95" height="1.94" fill="#f99320"/><rect x="312.90" y="181.28" width="1.95" height="1.94" fill="#f9921f"/><rect x="314.70" y="181.28" width="1.95" height="1.94" fill="#f9921f"/><rect x="316.50" y="181.28" width="1.19" height="1.94" fill="#fa9420"/><rect x="317.54" y="181.28" width="0.91" height="1.94" fill="#101c14"/><rect x="318.30" y="181.28" width="1.95" height="1.94" fill="#0d2711"/><rect x="320.10" y="181.28" width="1.95" height="1.94" fill="#0d2111"/><rect x="321.90" y="181.28" width="1.95" height="1.94" fill="#0d2711"/><rect x="323.70" y="181.28" width="1.95" height="1.94" fill="#0c2210"/><rect x="325.50" y="181.28" width="1.95" height="1.94" fill="#0d2711"/><rect x="327.30" y="181.28" width="1.95" height="1.94" fill="#14141a"/><rect x="329.10" y="181.28" width="1.95" height="1.94" fill="#2b0f37"/><rect x="330.90" y="181.28" width="1.95" height="1.94" fill="#230f2c"/><rect x="332.70" y="181.28" width="1.95" height="1.94" fill="#2e0f3b"/><rect x="334.50" y="181.28" width="1.95" height="1.94" fill="#351045"/><rect x="336.30" y="181.28" width="1.95" height="1.94" fill="#56146d"/><rect x="338.10" y="181.28" width="1.95" height="1.94" fill="#611679"/><rect x="339.90" y="181.28" width="1.95" height="1.94" fill="#75198a"/><rect x="341.70" y="181.28" width="1.95" height="1.94" fill="#821c95"/><rect x="343.50" y="181.28" width="1.95" height="1.94" fill="#931fa3"/><rect x="345.30" y="181.28" width="1.95" height="1.94" fill="#9d229e"/><rect x="347.10" y="181.28" width="1.95" height="1.94" fill="#b82b86"/><rect x="348.90" y="181.28" width="1.95" height="1.94" fill="#c02e7e"/><rect x="350.70" y="181.28" width="1.95" height="1.94" fill="#ce3471"/><rect x="352.50" y="181.28" width="1.95" height="1.94" fill="#d8435e"/></g><g shape-rendering="crispEdges"><rect x="300.30" y="183.07" width="1.95" height="1.94" fill="#f99420"/><rect x="302.10" y="183.07" width="1.95" height="1.94" fill="#f99320"/><rect x="303.90" y="183.07" width="1.95" height="1.94" fill="#f99320"/><rect x="305.70" y="183.07" width="1.95" height="1.94" fill="#f99320"/><rect x="307.50" y="183.07" width="1.95" height="1.94" fill="#f99320"/><rect x="309.30" y="183.07" width="1.95" height="1.94" fill="#f99320"/><rect x="311.10" y="183.07" width="1.95" height="1.94" fill="#f99320"/><rect x="312.90" y="183.07" width="1.95" height="1.94" fill="#f99320"/><rect x="314.70" y="183.07" width="1.95" height="1.94" fill="#f99320"/><rect x="316.50" y="183.07" width="1.11" height="1.94" fill="#fa9420"/><rect x="317.46" y="183.07" width="0.99" height="1.94" fill="#111916"/><rect x="318.30" y="183.07" width="1.95" height="1.94" fill="#0e2812"/><rect x="320.10" y="183.07" width="1.95" height="1.94" fill="#0e2712"/><rect x="321.90" y="183.07" width="1.95" height="1.94" fill="#0e1f12"/><rect x="323.70" y="183.07" width="1.95" height="1.94" fill="#0f2c13"/><rect x="325.50" y="183.07" width="1.95" height="1.94" fill="#0c2310"/><rect x="327.30" y="183.07" width="1.95" height="1.94" fill="#121917"/><rect x="329.10" y="183.07" width="1.95" height="1.94" fill="#17101d"/><rect x="330.90" y="183.07" width="1.95" height="1.94" fill="#210f2a"/><rect x="332.70" y="183.07" width="1.95" height="1.94" fill="#2d0f3b"/><rect x="334.50" y="183.07" width="1.95" height="1.94" fill="#361046"/><rect x="336.30" y="183.07" width="1.95" height="1.94" fill="#5a1572"/><rect x="338.10" y="183.07" width="1.95" height="1.94" fill="#66167f"/><rect x="339.90" y="183.07" width="1.95" height="1.94" fill="#7c1b90"/><rect x="341.70" y="183.07" width="1.95" height="1.94" fill="#8a1e9c"/><rect x="343.50" y="183.07" width="1.95" height="1.94" fill="#9f239d"/><rect x="345.30" y="183.07" width="1.95" height="1.94" fill="#aa2792"/><rect x="347.10" y="183.07" width="1.95" height="1.94" fill="#c63079"/><rect x="348.90" y="183.07" width="1.95" height="1.94" fill="#ce3471"/><rect x="350.70" y="183.07" width="1.95" height="1.94" fill="#d7435f"/><rect x="352.50" y="183.07" width="1.95" height="1.94" fill="#e1524c"/></g><g shape-rendering="crispEdges"><rect x="300.30" y="184.86" width="1.95" height="1.94" fill="#f99320"/><rect x="302.10" y="184.86" width="1.95" height="1.94" fill="#f9921f"/><rect x="303.90" y="184.86" width="1.95" height="1.94" fill="#f9921f"/><rect x="305.70" y="184.86" width="1.95" height="1.94" fill="#f99320"/><rect x="307.50" y="184.86" width="1.95" height="1.94" fill="#f9921f"/><rect x="309.30" y="184.86" width="1.95" height="1.94" fill="#f9921f"/><rect x="311.10" y="184.86" width="1.95" height="1.94" fill="#f9921f"/><rect x="312.90" y="184.86" width="1.95" height="1.94" fill="#f9921f"/><rect x="314.70" y="184.86" width="1.95" height="1.94" fill="#f9921f"/><rect x="316.50" y="184.86" width="1.03" height="1.94" fill="#fa9420"/><rect x="317.38" y="184.86" width="1.07" height="1.94" fill="#0e2812"/><rect x="318.30" y="184.86" width="1.95" height="1.94" fill="#0f2d13"/><rect x="320.10" y="184.86" width="1.95" height="1.94" fill="#102e14"/><rect x="321.90" y="184.86" width="1.95" height="1.94" fill="#0f2d13"/><rect x="323.70" y="184.86" width="1.95" height="1.94" fill="#0f2d13"/><rect x="325.50" y="184.86" width="1.95" height="1.94" fill="#0f2d13"/><rect x="327.30" y="184.86" width="1.95" height="1.94" fill="#0c2310"/><rect x="329.10" y="184.86" width="1.95" height="1.94" fill="#131618"/><rect x="330.90" y="184.86" width="1.95" height="1.94" fill="#17101c"/><rect x="332.70" y="184.86" width="1.95" height="1.94" fill="#210f2a"/><rect x="334.50" y="184.86" width="1.95" height="1.94" fill="#2b0f37"/><rect x="336.30" y="184.86" width="1.95" height="1.94" fill="#48125c"/><rect x="338.10" y="184.86" width="1.95" height="1.94" fill="#55146b"/><rect x="339.90" y="184.86" width="1.95" height="1.94" fill="#6a1781"/><rect x="341.70" y="184.86" width="1.95" height="1.94" fill="#791a8e"/><rect x="343.50" y="184.86" width="1.95" height="1.94" fill="#8c1e9d"/><rect x="345.30" y="184.86" width="1.95" height="1.94" fill="#9720a4"/><rect x="347.10" y="184.86" width="1.95" height="1.94" fill="#b32a8b"/><rect x="348.90" y="184.86" width="1.95" height="1.94" fill="#bc2c82"/><rect x="350.70" y="184.86" width="1.95" height="1.94" fill="#c93176"/><rect x="352.50" y="184.86" width="1.95" height="1.94" fill="#d43d65"/></g><g shape-rendering="crispEdges"><rect x="300.30" y="186.65" width="1.95" height="1.94" fill="#f99320"/><rect x="302.10" y="186.65" width="1.95" height="1.94" fill="#f99320"/><rect x="303.90" y="186.65" width="1.95" height="1.94" fill="#f99320"/><rect x="305.70" y="186.65" width="1.95" height="1.94" fill="#f99320"/><rect x="307.50" y="186.65" width="1.95" height="1.94" fill="#f9921f"/><rect x="309.30" y="186.65" width="1.95" height="1.94" fill="#f9921f"/><rect x="311.10" y="186.65" width="1.95" height="1.94" fill="#f99320"/><rect x="312.90" y="186.65" width="1.95" height="1.94" fill="#f9921f"/><rect x="314.70" y="186.65" width="1.95" height="1.94" fill="#f99320"/><rect x="316.50" y="186.65" width="0.95" height="1.94" fill="#fa9420"/><rect x="317.30" y="186.65" width="1.15" height="1.94" fill="#0f2d13"/><rect x="318.30" y="186.65" width="1.95" height="1.94" fill="#113215"/><rect x="320.10" y="186.65" width="1.95" height="1.94" fill="#0f2c13"/><rect x="321.90" y="186.65" width="1.95" height="1.94" fill="#113515"/><rect x="323.70" y="186.65" width="1.95" height="1.94" fill="#0f2e13"/><rect x="325.50" y="186.65" width="1.95" height="1.94" fill="#102f14"/><rect x="327.30" y="186.65" width="1.95" height="1.94" fill="#0e1f12"/><rect x="329.10" y="186.65" width="1.95" height="1.94" fill="#17101d"/><rect x="330.90" y="186.65" width="1.95" height="1.94" fill="#2a0f36"/><rect x="332.70" y="186.65" width="1.95" height="1.94" fill="#1e0e26"/><rect x="334.50" y="186.65" width="1.95" height="1.94" fill="#280f34"/><rect x="336.30" y="186.65" width="1.95" height="1.94" fill="#46125a"/><rect x="338.10" y="186.65" width="1.95" height="1.94" fill="#54146a"/><rect x="339.90" y="186.65" width="1.95" height="1.94" fill="#6b1782"/><rect x="341.70" y="186.65" width="1.95" height="1.94" fill="#7b1b8f"/><rect x="343.50" y="186.65" width="1.95" height="1.94" fill="#8f1fa0"/><rect x="345.30" y="186.65" width="1.95" height="1.94" fill="#9b22a0"/><rect x="347.10" y="186.65" width="1.95" height="1.94" fill="#b82b86"/><rect x="348.90" y="186.65" width="1.95" height="1.94" fill="#c12e7e"/><rect x="350.70" y="186.65" width="1.95" height="1.94" fill="#ce3471"/><rect x="352.50" y="186.65" width="1.95" height="1.94" fill="#d7435f"/></g><g shape-rendering="crispEdges"><rect x="300.30" y="188.44" width="1.95" height="1.94" fill="#f99320"/><rect x="302.10" y="188.44" width="1.95" height="1.94" fill="#f99320"/><rect x="303.90" y="188.44" width="1.95" height="1.94" fill="#f99320"/><rect x="305.70" y="188.44" width="1.95" height="1.94" fill="#f99320"/><rect x="307.50" y="188.44" width="1.95" height="1.94" fill="#f99320"/><rect x="309.30" y="188.44" width="1.95" height="1.94" fill="#f9921f"/><rect x="311.10" y="188.44" width="1.95" height="1.94" fill="#f99320"/><rect x="312.90" y="188.44" width="1.95" height="1.94" fill="#f9921f"/><rect x="314.70" y="188.44" width="1.95" height="1.94" fill="#f99320"/><rect x="316.50" y="188.44" width="0.87" height="1.94" fill="#fa9420"/><rect x="317.22" y="188.44" width="1.23" height="1.94" fill="#0e2a12"/><rect x="318.30" y="188.44" width="1.95" height="1.94" fill="#102e14"/><rect x="320.10" y="188.44" width="1.95" height="1.94" fill="#102f14"/><rect x="321.90" y="188.44" width="1.95" height="1.94" fill="#103014"/><rect x="323.70" y="188.44" width="1.95" height="1.94" fill="#0e2812"/><rect x="325.50" y="188.44" width="1.95" height="1.94" fill="#103114"/><rect x="327.30" y="188.44" width="1.95" height="1.94" fill="#0d2111"/><rect x="329.10" y="188.44" width="1.95" height="1.94" fill="#0d2111"/><rect x="330.90" y="188.44" width="1.95" height="1.94" fill="#210f2a"/><rect x="332.70" y="188.44" width="1.95" height="1.94" fill="#1d0e25"/><rect x="334.50" y="188.44" width="1.95" height="1.94" fill="#280f34"/><rect x="336.30" y="188.44" width="1.95" height="1.94" fill="#47125b"/><rect x="338.10" y="188.44" width="1.95" height="1.94" fill="#55146c"/><rect x="339.90" y="188.44" width="1.95" height="1.94" fill="#6d1884"/><rect x="341.70" y="188.44" width="1.95" height="1.94" fill="#7d1b91"/><rect x="343.50" y="188.44" width="1.95" height="1.94" fill="#921fa2"/><rect x="345.30" y="188.44" width="1.95" height="1.94" fill="#9f239d"/><rect x="347.10" y="188.44" width="1.95" height="1.94" fill="#bc2c83"/><rect x="348.90" y="188.44" width="1.95" height="1.94" fill="#c52f7a"/><rect x="350.70" y="188.44" width="1.95" height="1.94" fill="#d0386c"/><rect x="352.50" y="188.44" width="1.95" height="1.94" fill="#da465a"/></g><g shape-rendering="crispEdges"><rect x="300.30" y="190.23" width="1.95" height="1.94" fill="#f99320"/><rect x="302.10" y="190.23" width="1.95" height="1.94" fill="#f99320"/><rect x="303.90" y="190.23" width="1.95" height="1.94" fill="#f9921f"/><rect x="305.70" y="190.23" width="1.95" height="1.94" fill="#f99320"/><rect x="307.50" y="190.23" width="1.95" height="1.94" fill="#f9921f"/><rect x="309.30" y="190.23" width="1.95" height="1.94" fill="#f9921f"/><rect x="311.10" y="190.23" width="1.95" height="1.94" fill="#f99320"/><rect x="312.90" y="190.23" width="1.95" height="1.94" fill="#f9921f"/><rect x="314.70" y="190.23" width="1.95" height="1.94" fill="#f9921f"/><rect x="316.50" y="190.23" width="0.79" height="1.94" fill="#fa9420"/><rect x="317.14" y="190.23" width="1.31" height="1.94" fill="#0e2a12"/><rect x="318.30" y="190.23" width="1.95" height="1.94" fill="#123716"/><rect x="320.10" y="190.23" width="1.95" height="1.94" fill="#103014"/><rect x="321.90" y="190.23" width="1.95" height="1.94" fill="#102e14"/><rect x="323.70" y="190.23" width="1.95" height="1.94" fill="#103114"/><rect x="325.50" y="190.23" width="1.95" height="1.94" fill="#0e2a12"/><rect x="327.30" y="190.23" width="1.95" height="1.94" fill="#0e2b12"/><rect x="329.10" y="190.23" width="1.95" height="1.94" fill="#0f2d13"/><rect x="330.90" y="190.23" width="1.95" height="1.94" fill="#170f1d"/><rect x="332.70" y="190.23" width="1.95" height="1.94" fill="#190e20"/><rect x="334.50" y="190.23" width="1.95" height="1.94" fill="#250f2f"/><rect x="336.30" y="190.23" width="1.95" height="1.94" fill="#411154"/><rect x="338.10" y="190.23" width="1.95" height="1.94" fill="#4f1365"/><rect x="339.90" y="190.23" width="1.95" height="1.94" fill="#66167f"/><rect x="341.70" y="190.23" width="1.95" height="1.94" fill="#761a8c"/><rect x="343.50" y="190.23" width="1.95" height="1.94" fill="#8b1e9c"/><rect x="345.30" y="190.23" width="1.95" height="1.94" fill="#9620a5"/><rect x="347.10" y="190.23" width="1.95" height="1.94" fill="#b32a8b"/><rect x="348.90" y="190.23" width="1.95" height="1.94" fill="#bc2c83"/><rect x="350.70" y="190.23" width="1.95" height="1.94" fill="#c93177"/><rect x="352.50" y="190.23" width="1.95" height="1.94" fill="#d43d66"/></g><g shape-rendering="crispEdges"><rect x="300.30" y="192.02" width="1.95" height="1.94" fill="#f99320"/><rect x="302.10" y="192.02" width="1.95" height="1.94" fill="#f99320"/><rect x="303.90" y="192.02" width="1.95" height="1.94" fill="#f9921f"/><rect x="305.70" y="192.02" width="1.95" height="1.94" fill="#f99320"/><rect x="307.50" y="192.02" width="1.95" height="1.94" fill="#f9921f"/><rect x="309.30" y="192.02" width="1.95" height="1.94" fill="#f9921f"/><rect x="311.10" y="192.02" width="1.95" height="1.94" fill="#f99320"/><rect x="312.90" y="192.02" width="1.95" height="1.94" fill="#f9921f"/><rect x="314.70" y="192.02" width="1.95" height="1.94" fill="#f9921f"/><rect x="316.50" y="192.02" width="0.72" height="1.94" fill="#fa9420"/><rect x="317.07" y="192.02" width="1.38" height="1.94" fill="#0e2912"/><rect x="318.30" y="192.02" width="1.95" height="1.94" fill="#113415"/><rect x="320.10" y="192.02" width="1.95" height="1.94" fill="#103214"/><rect x="321.90" y="192.02" width="1.95" height="1.94" fill="#0f2e13"/><rect x="323.70" y="192.02" width="1.95" height="1.94" fill="#113415"/><rect x="325.50" y="192.02" width="1.95" height="1.94" fill="#103114"/><rect x="327.30" y="192.02" width="1.95" height="1.94" fill="#0e2a12"/><rect x="329.10" y="192.02" width="1.95" height="1.94" fill="#101b15"/><rect x="330.90" y="192.02" width="1.95" height="1.94" fill="#0e1f12"/><rect x="332.70" y="192.02" width="1.95" height="1.94" fill="#180e1f"/><rect x="334.50" y="192.02" width="1.95" height="1.94" fill="#240f2f"/><rect x="336.30" y="192.02" width="1.95" height="1.94" fill="#401153"/><rect x="338.10" y="192.02" width="1.95" height="1.94" fill="#4f1365"/><rect x="339.90" y="192.02" width="1.95" height="1.94" fill="#66167f"/><rect x="341.70" y="192.02" width="1.95" height="1.94" fill="#761a8c"/><rect x="343.50" y="192.02" width="1.95" height="1.94" fill="#8b1e9c"/><rect x="345.30" y="192.02" width="1.95" height="1.94" fill="#9620a5"/><rect x="347.10" y="192.02" width="1.95" height="1.94" fill="#b32a8a"/><rect x="348.90" y="192.02" width="1.95" height="1.94" fill="#bc2c83"/><rect x="350.70" y="192.02" width="1.95" height="1.94" fill="#c93177"/><rect x="352.50" y="192.02" width="1.95" height="1.94" fill="#d33c66"/></g><g shape-rendering="crispEdges"><rect x="300.30" y="193.81" width="1.95" height="1.94" fill="#f99320"/><rect x="302.10" y="193.81" width="1.95" height="1.94" fill="#f99320"/><rect x="303.90" y="193.81" width="1.95" height="1.94" fill="#f99320"/><rect x="305.70" y="193.81" width="1.95" height="1.94" fill="#f99320"/><rect x="307.50" y="193.81" width="1.95" height="1.94" fill="#f9921f"/><rect x="309.30" y="193.81" width="1.95" height="1.94" fill="#f9921f"/><rect x="311.10" y="193.81" width="1.95" height="1.94" fill="#f99320"/><rect x="312.90" y="193.81" width="1.95" height="1.94" fill="#f9921f"/><rect x="314.70" y="193.81" width="1.95" height="1.94" fill="#f99320"/><rect x="316.50" y="193.81" width="0.64" height="1.94" fill="#fa9420"/><rect x="316.99" y="193.81" width="1.46" height="1.94" fill="#0d2711"/><rect x="318.30" y="193.81" width="1.95" height="1.94" fill="#123716"/><rect x="320.10" y="193.81" width="1.95" height="1.94" fill="#123716"/><rect x="321.90" y="193.81" width="1.95" height="1.94" fill="#0f2d13"/><rect x="323.70" y="193.81" width="1.95" height="1.94" fill="#113315"/><rect x="325.50" y="193.81" width="1.95" height="1.94" fill="#113415"/><rect x="327.30" y="193.81" width="1.95" height="1.94" fill="#0e2b12"/><rect x="329.10" y="193.81" width="1.95" height="1.94" fill="#0f1d13"/><rect x="330.90" y="193.81" width="1.95" height="1.94" fill="#190e1f"/><rect x="332.70" y="193.81" width="1.95" height="1.94" fill="#190e20"/><rect x="334.50" y="193.81" width="1.95" height="1.94" fill="#250f30"/><rect x="336.30" y="193.81" width="1.95" height="1.94" fill="#421156"/><rect x="338.10" y="193.81" width="1.95" height="1.94" fill="#521368"/><rect x="339.90" y="193.81" width="1.95" height="1.94" fill="#6a1782"/><rect x="341.70" y="193.81" width="1.95" height="1.94" fill="#7a1a8f"/><rect x="343.50" y="193.81" width="1.95" height="1.94" fill="#8f1f9f"/><rect x="345.30" y="193.81" width="1.95" height="1.94" fill="#9b22a1"/><rect x="347.10" y="193.81" width="1.95" height="1.94" fill="#b72b87"/><rect x="348.90" y="193.81" width="1.95" height="1.94" fill="#c02e7f"/><rect x="350.70" y="193.81" width="1.95" height="1.94" fill="#cd3273"/><rect x="352.50" y="193.81" width="1.95" height="1.94" fill="#d64161"/></g><g shape-rendering="crispEdges"><rect x="300.30" y="195.60" width="1.95" height="1.94" fill="#f99320"/><rect x="302.10" y="195.60" width="1.95" height="1.94" fill="#f9921f"/><rect x="303.90" y="195.60" width="1.95" height="1.94" fill="#f9921f"/><rect x="305.70" y="195.60" width="1.95" height="1.94" fill="#f9921f"/><rect x="307.50" y="195.60" width="1.95" height="1.94" fill="#f9921f"/><rect x="309.30" y="195.60" width="1.95" height="1.94" fill="#f9911f"/><rect x="311.10" y="195.60" width="1.95" height="1.94" fill="#f9921f"/><rect x="312.90" y="195.60" width="1.95" height="1.94" fill="#f9921f"/><rect x="314.70" y="195.60" width="1.95" height="1.94" fill="#f9921f"/><rect x="316.50" y="195.60" width="0.56" height="1.94" fill="#fa9420"/><rect x="316.91" y="195.60" width="1.54" height="1.94" fill="#103114"/><rect x="318.30" y="195.60" width="1.95" height="1.94" fill="#113515"/><rect x="320.10" y="195.60" width="1.95" height="1.94" fill="#103114"/><rect x="321.90" y="195.60" width="1.95" height="1.94" fill="#123916"/><rect x="323.70" y="195.60" width="1.95" height="1.94" fill="#113315"/><rect x="325.50" y="195.60" width="1.95" height="1.94" fill="#103014"/><rect x="327.30" y="195.60" width="1.95" height="1.94" fill="#0f2e13"/><rect x="329.10" y="195.60" width="1.95" height="1.94" fill="#0e2812"/><rect x="330.90" y="195.60" width="1.95" height="1.94" fill="#121817"/><rect x="332.70" y="195.60" width="1.95" height="1.94" fill="#16111c"/><rect x="334.50" y="195.60" width="1.95" height="1.94" fill="#1f0e28"/><rect x="336.30" y="195.60" width="1.95" height="1.94" fill="#39104a"/><rect x="338.10" y="195.60" width="1.95" height="1.94" fill="#47125c"/><rect x="339.90" y="195.60" width="1.95" height="1.94" fill="#5f1578"/><rect x="341.70" y="195.60" width="1.95" height="1.94" fill="#6e1885"/><rect x="343.50" y="195.60" width="1.95" height="1.94" fill="#831c96"/><rect x="345.30" y="195.60" width="1.95" height="1.94" fill="#8d1e9e"/><rect x="347.10" y="195.60" width="1.95" height="1.94" fill="#a82694"/><rect x="348.90" y="195.60" width="1.95" height="1.94" fill="#b1298d"/><rect x="350.70" y="195.60" width="1.95" height="1.94" fill="#be2d81"/><rect x="352.50" y="195.60" width="1.95" height="1.94" fill="#cb3174"/></g><g shape-rendering="crispEdges"><rect x="300.30" y="197.39" width="1.95" height="1.94" fill="#f99320"/><rect x="302.10" y="197.39" width="1.95" height="1.94" fill="#f9921f"/><rect x="303.90" y="197.39" width="1.95" height="1.94" fill="#f9921f"/><rect x="305.70" y="197.39" width="1.95" height="1.94" fill="#f99320"/><rect x="307.50" y="197.39" width="1.95" height="1.94" fill="#f9921f"/><rect x="309.30" y="197.39" width="1.95" height="1.94" fill="#f9921f"/><rect x="311.10" y="197.39" width="1.95" height="1.94" fill="#f9921f"/><rect x="312.90" y="197.39" width="1.95" height="1.94" fill="#f9921f"/><rect x="314.70" y="197.39" width="1.95" height="1.94" fill="#f9921f"/><rect x="316.50" y="197.39" width="0.48" height="1.94" fill="#fa9420"/><rect x="316.83" y="197.39" width="1.62" height="1.94" fill="#102f14"/><rect x="318.30" y="197.39" width="1.95" height="1.94" fill="#133917"/><rect x="320.10" y="197.39" width="1.95" height="1.94" fill="#123716"/><rect x="321.90" y="197.39" width="1.95" height="1.94" fill="#103014"/><rect x="323.70" y="197.39" width="1.95" height="1.94" fill="#113415"/><rect x="325.50" y="197.39" width="1.95" height="1.94" fill="#0f2c13"/><rect x="327.30" y="197.39" width="1.95" height="1.94" fill="#0d2611"/><rect x="329.10" y="197.39" width="1.95" height="1.94" fill="#0c2210"/><rect x="330.90" y="197.39" width="1.95" height="1.94" fill="#230f2c"/><rect x="332.70" y="197.39" width="1.95" height="1.94" fill="#17101d"/><rect x="334.50" y="197.39" width="1.95" height="1.94" fill="#210f2b"/><rect x="336.30" y="197.39" width="1.95" height="1.94" fill="#3b104d"/><rect x="338.10" y="197.39" width="1.95" height="1.94" fill="#4b1260"/><rect x="339.90" y="197.39" width="1.95" height="1.94" fill="#64167d"/><rect x="341.70" y="197.39" width="1.95" height="1.94" fill="#731989"/><rect x="343.50" y="197.39" width="1.95" height="1.94" fill="#881d99"/><rect x="345.30" y="197.39" width="1.95" height="1.94" fill="#921fa2"/><rect x="347.10" y="197.39" width="1.95" height="1.94" fill="#ae288f"/><rect x="348.90" y="197.39" width="1.95" height="1.94" fill="#b62b88"/><rect x="350.70" y="197.39" width="1.95" height="1.94" fill="#c42f7c"/><rect x="352.50" y="197.39" width="1.95" height="1.94" fill="#d0366e"/></g><g shape-rendering="crispEdges"><rect x="300.30" y="199.18" width="1.95" height="1.94" fill="#f99320"/><rect x="302.10" y="199.18" width="1.95" height="1.94" fill="#f99320"/><rect x="303.90" y="199.18" width="1.95" height="1.94" fill="#f99320"/><rect x="305.70" y="199.18" width="1.95" height="1.94" fill="#f99320"/><rect x="307.50" y="199.18" width="1.95" height="1.94" fill="#f99320"/><rect x="309.30" y="199.18" width="1.95" height="1.94" fill="#f9921f"/><rect x="311.10" y="199.18" width="1.95" height="1.94" fill="#f99320"/><rect x="312.90" y="199.18" width="1.95" height="1.94" fill="#f9921f"/><rect x="314.70" y="199.18" width="1.95" height="1.94" fill="#f99320"/><rect x="316.50" y="199.18" width="0.40" height="1.94" fill="#fa9420"/><rect x="316.75" y="199.18" width="1.70" height="1.94" fill="#113315"/><rect x="318.30" y="199.18" width="1.95" height="1.94" fill="#113215"/><rect x="320.10" y="199.18" width="1.95" height="1.94" fill="#123616"/><rect x="321.90" y="199.18" width="1.95" height="1.94" fill="#0f2c13"/><rect x="323.70" y="199.18" width="1.95" height="1.94" fill="#0f2c13"/><rect x="325.50" y="199.18" width="1.95" height="1.94" fill="#123916"/><rect x="327.30" y="199.18" width="1.95" height="1.94" fill="#103014"/><rect x="329.10" y="199.18" width="1.95" height="1.94" fill="#0d2111"/><rect x="330.90" y="199.18" width="1.95" height="1.94" fill="#16111c"/><rect x="332.70" y="199.18" width="1.95" height="1.94" fill="#180e1e"/><rect x="334.50" y="199.18" width="1.95" height="1.94" fill="#250f2f"/><rect x="336.30" y="199.18" width="1.95" height="1.94" fill="#411154"/><rect x="338.10" y="199.18" width="1.95" height="1.94" fill="#521368"/><rect x="339.90" y="199.18" width="1.95" height="1.94" fill="#6c1883"/><rect x="341.70" y="199.18" width="1.95" height="1.94" fill="#7b1b8f"/><rect x="343.50" y="199.18" width="1.95" height="1.94" fill="#8f1fa0"/><rect x="345.30" y="199.18" width="1.95" height="1.94" fill="#9b22a1"/><rect x="347.10" y="199.18" width="1.95" height="1.94" fill="#b82b86"/><rect x="348.90" y="199.18" width="1.95" height="1.94" fill="#c02e7f"/><rect x="350.70" y="199.18" width="1.95" height="1.94" fill="#cd3273"/><rect x="352.50" y="199.18" width="1.95" height="1.94" fill="#d64063"/></g><g shape-rendering="crispEdges"><rect x="300.30" y="200.97" width="1.95" height="1.94" fill="#f99320"/><rect x="302.10" y="200.97" width="1.95" height="1.94" fill="#f99320"/><rect x="303.90" y="200.97" width="1.95" height="1.94" fill="#f99320"/><rect x="305.70" y="200.97" width="1.95" height="1.94" fill="#f99320"/><rect x="307.50" y="200.97" width="1.95" height="1.94" fill="#f99320"/><rect x="309.30" y="200.97" width="1.95" height="1.94" fill="#f9921f"/><rect x="311.10" y="200.97" width="1.95" height="1.94" fill="#f99320"/><rect x="312.90" y="200.97" width="1.95" height="1.94" fill="#f99320"/><rect x="314.70" y="200.97" width="1.95" height="1.94" fill="#f99320"/><rect x="316.50" y="200.97" width="0.32" height="1.94" fill="#fa9420"/><rect x="316.67" y="200.97" width="1.78" height="1.94" fill="#0e2b12"/><rect x="318.30" y="200.97" width="1.95" height="1.94" fill="#123616"/><rect x="320.10" y="200.97" width="1.95" height="1.94" fill="#103114"/><rect x="321.90" y="200.97" width="1.95" height="1.94" fill="#103114"/><rect x="323.70" y="200.97" width="1.95" height="1.94" fill="#113415"/><rect x="325.50" y="200.97" width="1.95" height="1.94" fill="#0e2912"/><rect x="327.30" y="200.97" width="1.95" height="1.94" fill="#113515"/><rect x="329.10" y="200.97" width="1.95" height="1.94" fill="#0d2012"/><rect x="330.90" y="200.97" width="1.95" height="1.94" fill="#0f1d14"/><rect x="332.70" y="200.97" width="1.95" height="1.94" fill="#1a0e21"/><rect x="334.50" y="200.97" width="1.95" height="1.94" fill="#270f33"/><rect x="336.30" y="200.97" width="1.95" height="1.94" fill="#46125a"/><rect x="338.10" y="200.97" width="1.95" height="1.94" fill="#56146d"/><rect x="339.90" y="200.97" width="1.95" height="1.94" fill="#711987"/><rect x="341.70" y="200.97" width="1.95" height="1.94" fill="#801c93"/><rect x="343.50" y="200.97" width="1.95" height="1.94" fill="#9420a4"/><rect x="345.30" y="200.97" width="1.95" height="1.94" fill="#a1249b"/><rect x="347.10" y="200.97" width="1.95" height="1.94" fill="#be2d81"/><rect x="348.90" y="200.97" width="1.95" height="1.94" fill="#c52f7a"/><rect x="350.70" y="200.97" width="1.95" height="1.94" fill="#d1386c"/><rect x="352.50" y="200.97" width="1.95" height="1.94" fill="#d9465c"/></g><g shape-rendering="crispEdges"><rect x="300.30" y="202.76" width="1.95" height="1.94" fill="#f99320"/><rect x="302.10" y="202.76" width="1.95" height="1.94" fill="#f99320"/><rect x="303.90" y="202.76" width="1.95" height="1.94" fill="#f99320"/><rect x="305.70" y="202.76" width="1.95" height="1.94" fill="#f99320"/><rect x="307.50" y="202.76" width="1.95" height="1.94" fill="#f99320"/><rect x="309.30" y="202.76" width="1.95" height="1.94" fill="#f9921f"/><rect x="311.10" y="202.76" width="1.95" height="1.94" fill="#f99320"/><rect x="312.90" y="202.76" width="1.95" height="1.94" fill="#f9921f"/><rect x="314.70" y="202.76" width="1.95" height="1.94" fill="#f99320"/><rect x="316.50" y="202.76" width="0.24" height="1.94" fill="#fa9420"/><rect x="316.59" y="202.76" width="1.86" height="1.94" fill="#0e2a12"/><rect x="318.30" y="202.76" width="1.95" height="1.94" fill="#123716"/><rect x="320.10" y="202.76" width="1.95" height="1.94" fill="#123816"/><rect x="321.90" y="202.76" width="1.95" height="1.94" fill="#113315"/><rect x="323.70" y="202.76" width="1.95" height="1.94" fill="#123816"/><rect x="325.50" y="202.76" width="1.95" height="1.94" fill="#113315"/><rect x="327.30" y="202.76" width="1.95" height="1.94" fill="#113215"/><rect x="329.10" y="202.76" width="1.95" height="1.94" fill="#0c2310"/><rect x="330.90" y="202.76" width="1.95" height="1.94" fill="#16121b"/><rect x="332.70" y="202.76" width="1.95" height="1.94" fill="#1a0e20"/><rect x="334.50" y="202.76" width="1.95" height="1.94" fill="#270f32"/><rect x="336.30" y="202.76" width="1.95" height="1.94" fill="#451258"/><rect x="338.10" y="202.76" width="1.95" height="1.94" fill="#55146c"/><rect x="339.90" y="202.76" width="1.95" height="1.94" fill="#6f1886"/><rect x="341.70" y="202.76" width="1.95" height="1.94" fill="#7e1b92"/><rect x="343.50" y="202.76" width="1.95" height="1.94" fill="#931fa2"/><rect x="345.30" y="202.76" width="1.95" height="1.94" fill="#9f239d"/><rect x="347.10" y="202.76" width="1.95" height="1.94" fill="#bb2c83"/><rect x="348.90" y="202.76" width="1.95" height="1.94" fill="#c32f7c"/><rect x="350.70" y="202.76" width="1.95" height="1.94" fill="#cf356f"/><rect x="352.50" y="202.76" width="1.95" height="1.94" fill="#d7425f"/></g><g shape-rendering="crispEdges"><rect x="300.30" y="204.55" width="1.95" height="1.94" fill="#f99320"/><rect x="302.10" y="204.55" width="1.95" height="1.94" fill="#f9921f"/><rect x="303.90" y="204.55" width="1.95" height="1.94" fill="#f9921f"/><rect x="305.70" y="204.55" width="1.95" height="1.94" fill="#f99320"/><rect x="307.50" y="204.55" width="1.95" height="1.94" fill="#f9921f"/><rect x="309.30" y="204.55" width="1.95" height="1.94" fill="#f9921f"/><rect x="311.10" y="204.55" width="1.95" height="1.94" fill="#f9921f"/><rect x="312.90" y="204.55" width="1.95" height="1.94" fill="#f9921f"/><rect x="314.70" y="204.55" width="1.95" height="1.94" fill="#f9921f"/><rect x="316.50" y="204.55" width="0.16" height="1.94" fill="#fa9420"/><rect x="316.51" y="204.55" width="1.94" height="1.94" fill="#0f2c13"/><rect x="318.30" y="204.55" width="1.95" height="1.94" fill="#123816"/><rect x="320.10" y="204.55" width="1.95" height="1.94" fill="#103114"/><rect x="321.90" y="204.55" width="1.95" height="1.94" fill="#123616"/><rect x="323.70" y="204.55" width="1.95" height="1.94" fill="#123616"/><rect x="325.50" y="204.55" width="1.95" height="1.94" fill="#0f2e13"/><rect x="327.30" y="204.55" width="1.95" height="1.94" fill="#0d2711"/><rect x="329.10" y="204.55" width="1.95" height="1.94" fill="#0d2711"/><rect x="330.90" y="204.55" width="1.95" height="1.94" fill="#111916"/><rect x="332.70" y="204.55" width="1.95" height="1.94" fill="#17101d"/><rect x="334.50" y="204.55" width="1.95" height="1.94" fill="#220f2c"/><rect x="336.30" y="204.55" width="1.95" height="1.94" fill="#3c104e"/><rect x="338.10" y="204.55" width="1.95" height="1.94" fill="#4c1361"/><rect x="339.90" y="204.55" width="1.95" height="1.94" fill="#64167d"/><rect x="341.70" y="204.55" width="1.95" height="1.94" fill="#731989"/><rect x="343.50" y="204.55" width="1.95" height="1.94" fill="#871d99"/><rect x="345.30" y="204.55" width="1.95" height="1.94" fill="#921fa2"/><rect x="347.10" y="204.55" width="1.95" height="1.94" fill="#ae2890"/><rect x="348.90" y="204.55" width="1.95" height="1.94" fill="#b52a89"/><rect x="350.70" y="204.55" width="1.95" height="1.94" fill="#c22e7d"/><rect x="352.50" y="204.55" width="1.95" height="1.94" fill="#cd3372"/></g><g shape-rendering="crispEdges"><rect x="300.30" y="206.34" width="1.95" height="1.94" fill="#f99320"/><rect x="302.10" y="206.34" width="1.95" height="1.94" fill="#f99320"/><rect x="303.90" y="206.34" width="1.95" height="1.94" fill="#f99320"/><rect x="305.70" y="206.34" width="1.95" height="1.94" fill="#f99320"/><rect x="307.50" y="206.34" width="1.95" height="1.94" fill="#f99320"/><rect x="309.30" y="206.34" width="1.95" height="1.94" fill="#f9921f"/><rect x="311.10" y="206.34" width="1.95" height="1.94" fill="#f99320"/><rect x="312.90" y="206.34" width="1.95" height="1.94" fill="#f9921f"/><rect x="314.70" y="206.34" width="1.88" height="1.94" fill="#fa9420"/><rect x="316.43" y="206.34" width="0.22" height="1.94" fill="#0f2c13"/><rect x="316.50" y="206.34" width="1.95" height="1.94" fill="#103014"/><rect x="318.30" y="206.34" width="1.95" height="1.94" fill="#133a17"/><rect x="320.10" y="206.34" width="1.95" height="1.94" fill="#102f14"/><rect x="321.90" y="206.34" width="1.95" height="1.94" fill="#123616"/><rect x="323.70" y="206.34" width="1.95" height="1.94" fill="#113215"/><rect x="325.50" y="206.34" width="1.95" height="1.94" fill="#113315"/><rect x="327.30" y="206.34" width="1.95" height="1.94" fill="#0e2912"/><rect x="329.10" y="206.34" width="1.95" height="1.94" fill="#0d2111"/><rect x="330.90" y="206.34" width="1.95" height="1.94" fill="#121817"/><rect x="332.70" y="206.34" width="1.95" height="1.94" fill="#1a0e21"/><rect x="334.50" y="206.34" width="1.95" height="1.94" fill="#270f33"/><rect x="336.30" y="206.34" width="1.95" height="1.94" fill="#451259"/><rect x="338.10" y="206.34" width="1.95" height="1.94" fill="#55146c"/><rect x="339.90" y="206.34" width="1.95" height="1.94" fill="#6e1885"/><rect x="341.70" y="206.34" width="1.95" height="1.94" fill="#7d1b91"/><rect x="343.50" y="206.34" width="1.95" height="1.94" fill="#921fa2"/><rect x="345.30" y="206.34" width="1.95" height="1.94" fill="#9e229e"/><rect x="347.10" y="206.34" width="1.95" height="1.94" fill="#ba2c84"/><rect x="348.90" y="206.34" width="1.95" height="1.94" fill="#c12e7d"/><rect x="350.70" y="206.34" width="1.95" height="1.94" fill="#ce3471"/><rect x="352.50" y="206.34" width="1.95" height="1.94" fill="#d64062"/></g><g shape-rendering="crispEdges"><rect x="300.30" y="208.12" width="1.95" height="1.94" fill="#f99420"/><rect x="302.10" y="208.12" width="1.95" height="1.94" fill="#f99320"/><rect x="303.90" y="208.12" width="1.95" height="1.94" fill="#f99320"/><rect x="305.70" y="208.12" width="1.95" height="1.94" fill="#f99320"/><rect x="307.50" y="208.12" width="1.95" height="1.94" fill="#f99320"/><rect x="309.30" y="208.12" width="1.95" height="1.94" fill="#f99320"/><rect x="311.10" y="208.12" width="1.95" height="1.94" fill="#f99320"/><rect x="312.90" y="208.12" width="1.95" height="1.94" fill="#f99320"/><rect x="314.70" y="208.12" width="1.80" height="1.94" fill="#fa9420"/><rect x="316.35" y="208.12" width="0.30" height="1.94" fill="#0d2011"/><rect x="316.50" y="208.12" width="1.95" height="1.94" fill="#0f2d13"/><rect x="318.30" y="208.12" width="1.95" height="1.94" fill="#0f2c13"/><rect x="320.10" y="208.12" width="1.95" height="1.94" fill="#0f2e13"/><rect x="321.90" y="208.12" width="1.95" height="1.94" fill="#123616"/><rect x="323.70" y="208.12" width="1.95" height="1.94" fill="#113415"/><rect x="325.50" y="208.12" width="1.95" height="1.94" fill="#0e2b12"/><rect x="327.30" y="208.12" width="1.95" height="1.94" fill="#0e2812"/><rect x="329.10" y="208.12" width="1.95" height="1.94" fill="#0d2011"/><rect x="330.90" y="208.12" width="1.95" height="1.94" fill="#14141a"/><rect x="332.70" y="208.12" width="1.95" height="1.94" fill="#1f0e28"/><rect x="334.50" y="208.12" width="1.95" height="1.94" fill="#2d0f3a"/><rect x="336.30" y="208.12" width="1.95" height="1.94" fill="#4e1363"/><rect x="338.10" y="208.12" width="1.95" height="1.94" fill="#5e1576"/><rect x="339.90" y="208.12" width="1.95" height="1.94" fill="#781a8d"/><rect x="341.70" y="208.12" width="1.95" height="1.94" fill="#871d99"/><rect x="343.50" y="208.12" width="1.95" height="1.94" fill="#9d229e"/><rect x="345.30" y="208.12" width="1.95" height="1.94" fill="#aa2793"/><rect x="347.10" y="208.12" width="1.95" height="1.94" fill="#c73079"/><rect x="348.90" y="208.12" width="1.95" height="1.94" fill="#cd3372"/><rect x="350.70" y="208.12" width="1.95" height="1.94" fill="#d64161"/><rect x="352.50" y="208.12" width="1.95" height="1.94" fill="#de4d53"/></g><g shape-rendering="crispEdges"><rect x="300.30" y="209.91" width="1.95" height="1.94" fill="#f99320"/><rect x="302.10" y="209.91" width="1.95" height="1.94" fill="#f99320"/><rect x="303.90" y="209.91" width="1.95" height="1.94" fill="#f99320"/><rect x="305.70" y="209.91" width="1.95" height="1.94" fill="#f99320"/><rect x="307.50" y="209.91" width="1.95" height="1.94" fill="#f99320"/><rect x="309.30" y="209.91" width="1.95" height="1.94" fill="#f9921f"/><rect x="311.10" y="209.91" width="1.95" height="1.94" fill="#f99320"/><rect x="312.90" y="209.91" width="1.95" height="1.94" fill="#f99320"/><rect x="314.70" y="209.91" width="1.72" height="1.94" fill="#fa9420"/><rect x="316.27" y="209.91" width="0.38" height="1.94" fill="#113315"/><rect x="316.50" y="209.91" width="1.95" height="1.94" fill="#103114"/><rect x="318.30" y="209.91" width="1.95" height="1.94" fill="#143e18"/><rect x="320.10" y="209.91" width="1.95" height="1.94" fill="#103114"/><rect x="321.90" y="209.91" width="1.95" height="1.94" fill="#123716"/><rect x="323.70" y="209.91" width="1.95" height="1.94" fill="#123616"/><rect x="325.50" y="209.91" width="1.95" height="1.94" fill="#0f2e13"/><rect x="327.30" y="209.91" width="1.95" height="1.94" fill="#0e2712"/><rect x="329.10" y="209.91" width="1.95" height="1.94" fill="#0e2812"/><rect x="330.90" y="209.91" width="1.95" height="1.94" fill="#0e1e13"/><rect x="332.70" y="209.91" width="1.95" height="1.94" fill="#1f0e28"/><rect x="334.50" y="209.91" width="1.95" height="1.94" fill="#2d0f3a"/><rect x="336.30" y="209.91" width="1.95" height="1.94" fill="#4d1362"/><rect x="338.10" y="209.91" width="1.95" height="1.94" fill="#5e1576"/><rect x="339.90" y="209.91" width="1.95" height="1.94" fill="#771a8c"/><rect x="341.70" y="209.91" width="1.95" height="1.94" fill="#861d98"/><rect x="343.50" y="209.91" width="1.95" height="1.94" fill="#9c22a0"/><rect x="345.30" y="209.91" width="1.95" height="1.94" fill="#a82694"/><rect x="347.10" y="209.91" width="1.95" height="1.94" fill="#c52f7a"/><rect x="348.90" y="209.91" width="1.95" height="1.94" fill="#cc3274"/><rect x="350.70" y="209.91" width="1.95" height="1.94" fill="#d53f63"/><rect x="352.50" y="209.91" width="1.95" height="1.94" fill="#dc4b55"/></g><g shape-rendering="crispEdges"><rect x="300.30" y="211.70" width="1.95" height="1.94" fill="#f99320"/><rect x="302.10" y="211.70" width="1.95" height="1.94" fill="#f99320"/><rect x="303.90" y="211.70" width="1.95" height="1.94" fill="#f99320"/><rect x="305.70" y="211.70" width="1.95" height="1.94" fill="#f99320"/><rect x="307.50" y="211.70" width="1.95" height="1.94" fill="#f99320"/><rect x="309.30" y="211.70" width="1.95" height="1.94" fill="#f9921f"/><rect x="311.10" y="211.70" width="1.95" height="1.94" fill="#f99320"/><rect x="312.90" y="211.70" width="1.95" height="1.94" fill="#f9921f"/><rect x="314.70" y="211.70" width="1.64" height="1.94" fill="#fa9420"/><rect x="316.19" y="211.70" width="0.46" height="1.94" fill="#103114"/><rect x="316.50" y="211.70" width="1.95" height="1.94" fill="#133b17"/><rect x="318.30" y="211.70" width="1.95" height="1.94" fill="#133a17"/><rect x="320.10" y="211.70" width="1.95" height="1.94" fill="#0f2c13"/><rect x="321.90" y="211.70" width="1.95" height="1.94" fill="#133917"/><rect x="323.70" y="211.70" width="1.95" height="1.94" fill="#103014"/><rect x="325.50" y="211.70" width="1.95" height="1.94" fill="#113415"/><rect x="327.30" y="211.70" width="1.95" height="1.94" fill="#0e2812"/><rect x="329.10" y="211.70" width="1.95" height="1.94" fill="#0c2310"/><rect x="330.90" y="211.70" width="1.95" height="1.94" fill="#15131a"/><rect x="332.70" y="211.70" width="1.95" height="1.94" fill="#1e0e26"/><rect x="334.50" y="211.70" width="1.95" height="1.94" fill="#2b0f38"/><rect x="336.30" y="211.70" width="1.95" height="1.94" fill="#4a125f"/><rect x="338.10" y="211.70" width="1.95" height="1.94" fill="#5b1572"/><rect x="339.90" y="211.70" width="1.95" height="1.94" fill="#731989"/><rect x="341.70" y="211.70" width="1.95" height="1.94" fill="#821c95"/><rect x="343.50" y="211.70" width="1.95" height="1.94" fill="#9720a4"/><rect x="345.30" y="211.70" width="1.95" height="1.94" fill="#a32499"/><rect x="347.10" y="211.70" width="1.95" height="1.94" fill="#c02e7f"/><rect x="348.90" y="211.70" width="1.95" height="1.94" fill="#c73079"/><rect x="350.70" y="211.70" width="1.95" height="1.94" fill="#d23a6a"/><rect x="352.50" y="211.70" width="1.95" height="1.94" fill="#d9455d"/></g><g shape-rendering="crispEdges"><rect x="300.30" y="213.49" width="1.95" height="1.94" fill="#f99320"/><rect x="302.10" y="213.49" width="1.95" height="1.94" fill="#f99320"/><rect x="303.90" y="213.49" width="1.95" height="1.94" fill="#f9921f"/><rect x="305.70" y="213.49" width="1.95" height="1.94" fill="#f99320"/><rect x="307.50" y="213.49" width="1.95" height="1.94" fill="#f9921f"/><rect x="309.30" y="213.49" width="1.95" height="1.94" fill="#f9921f"/><rect x="311.10" y="213.49" width="1.95" height="1.94" fill="#f99320"/><rect x="312.90" y="213.49" width="1.95" height="1.94" fill="#f9921f"/><rect x="314.70" y="213.49" width="1.56" height="1.94" fill="#fa9420"/><rect x="316.11" y="213.49" width="0.54" height="1.94" fill="#0e2912"/><rect x="316.50" y="213.49" width="1.95" height="1.94" fill="#0e2812"/><rect x="318.30" y="213.49" width="1.95" height="1.94" fill="#113315"/><rect x="320.10" y="213.49" width="1.95" height="1.94" fill="#103114"/><rect x="321.90" y="213.49" width="1.95" height="1.94" fill="#113515"/><rect x="323.70" y="213.49" width="1.95" height="1.94" fill="#0e2b12"/><rect x="325.50" y="213.49" width="1.95" height="1.94" fill="#0d2711"/><rect x="327.30" y="213.49" width="1.95" height="1.94" fill="#121917"/><rect x="329.10" y="213.49" width="1.95" height="1.94" fill="#141519"/><rect x="330.90" y="213.49" width="1.95" height="1.94" fill="#230f2d"/><rect x="332.70" y="213.49" width="1.95" height="1.94" fill="#2e0f3c"/><rect x="334.50" y="213.49" width="1.95" height="1.94" fill="#371048"/><rect x="336.30" y="213.49" width="1.95" height="1.94" fill="#591470"/><rect x="338.10" y="213.49" width="1.95" height="1.94" fill="#64167d"/><rect x="339.90" y="213.49" width="1.95" height="1.94" fill="#791a8e"/><rect x="341.70" y="213.49" width="1.95" height="1.94" fill="#851d98"/><rect x="343.50" y="213.49" width="1.95" height="1.94" fill="#9821a4"/><rect x="345.30" y="213.49" width="1.95" height="1.94" fill="#a3249a"/><rect x="347.10" y="213.49" width="1.95" height="1.94" fill="#be2d81"/><rect x="348.90" y="213.49" width="1.95" height="1.94" fill="#c32f7c"/><rect x="350.70" y="213.49" width="1.95" height="1.94" fill="#cf356f"/><rect x="352.50" y="213.49" width="1.95" height="1.94" fill="#d53f63"/></g><g shape-rendering="crispEdges"><rect x="300.30" y="215.28" width="1.95" height="1.94" fill="#f99320"/><rect x="302.10" y="215.28" width="1.95" height="1.94" fill="#f99320"/><rect x="303.90" y="215.28" width="1.95" height="1.94" fill="#f99320"/><rect x="305.70" y="215.28" width="1.95" height="1.94" fill="#f99320"/><rect x="307.50" y="215.28" width="1.95" height="1.94" fill="#f99320"/><rect x="309.30" y="215.28" width="1.95" height="1.94" fill="#f9921f"/><rect x="311.10" y="215.28" width="1.95" height="1.94" fill="#f99320"/><rect x="312.90" y="215.28" width="1.95" height="1.94" fill="#f99320"/><rect x="314.70" y="215.28" width="1.45" height="1.94" fill="#fa9420"/><rect x="316.00" y="215.28" width="0.65" height="1.94" fill="#0e1f12"/><rect x="316.50" y="215.28" width="1.95" height="1.94" fill="#123616"/><rect x="318.30" y="215.28" width="1.95" height="1.94" fill="#103114"/><rect x="320.10" y="215.28" width="1.95" height="1.94" fill="#0e2912"/><rect x="321.90" y="215.28" width="1.95" height="1.94" fill="#0e2b12"/><rect x="323.70" y="215.28" width="1.95" height="1.94" fill="#0d2711"/><rect x="325.50" y="215.28" width="1.95" height="1.94" fill="#131718"/><rect x="327.30" y="215.28" width="1.95" height="1.94" fill="#240f2e"/><rect x="329.10" y="215.28" width="1.95" height="1.94" fill="#310f40"/><rect x="330.90" y="215.28" width="1.95" height="1.94" fill="#501366"/><rect x="332.70" y="215.28" width="1.95" height="1.94" fill="#591470"/><rect x="334.50" y="215.28" width="1.95" height="1.94" fill="#5f1577"/><rect x="336.30" y="215.28" width="1.95" height="1.94" fill="#7f1b93"/><rect x="338.10" y="215.28" width="1.95" height="1.94" fill="#851d97"/><rect x="339.90" y="215.28" width="1.95" height="1.94" fill="#931fa3"/><rect x="341.70" y="215.28" width="1.95" height="1.94" fill="#9e229e"/><rect x="343.50" y="215.28" width="1.95" height="1.94" fill="#b0288e"/><rect x="345.30" y="215.28" width="1.95" height="1.94" fill="#b92b85"/><rect x="347.10" y="215.28" width="1.95" height="1.94" fill="#d1386c"/><rect x="348.90" y="215.28" width="1.95" height="1.94" fill="#d33c67"/><rect x="350.70" y="215.28" width="1.95" height="1.94" fill="#db4958"/><rect x="352.50" y="215.28" width="1.95" height="1.94" fill="#e1524c"/></g><g shape-rendering="crispEdges"><rect x="300.30" y="217.07" width="1.95" height="1.94" fill="#f99320"/><rect x="302.10" y="217.07" width="1.95" height="1.94" fill="#f99320"/><rect x="303.90" y="217.07" width="1.95" height="1.94" fill="#f99320"/><rect x="305.70" y="217.07" width="1.95" height="1.94" fill="#f99320"/><rect x="307.50" y="217.07" width="1.95" height="1.94" fill="#f9921f"/><rect x="309.30" y="217.07" width="1.95" height="1.94" fill="#f9921f"/><rect x="311.10" y="217.07" width="1.95" height="1.94" fill="#f99320"/><rect x="312.90" y="217.07" width="1.95" height="1.94" fill="#f9921f"/><rect x="314.70" y="217.07" width="1.33" height="1.94" fill="#fa9420"/><rect x="315.88" y="217.07" width="0.77" height="1.94" fill="#102f14"/><rect x="316.50" y="217.07" width="1.95" height="1.94" fill="#0f2d13"/><rect x="318.30" y="217.07" width="1.95" height="1.94" fill="#0c2310"/><rect x="320.10" y="217.07" width="1.95" height="1.94" fill="#0d2611"/><rect x="321.90" y="217.07" width="1.95" height="1.94" fill="#0f2b13"/><rect x="323.70" y="217.07" width="1.95" height="1.94" fill="#0c2210"/><rect x="325.50" y="217.07" width="1.95" height="1.94" fill="#1b0e22"/><rect x="327.30" y="217.07" width="1.95" height="1.94" fill="#341045"/><rect x="329.10" y="217.07" width="1.95" height="1.94" fill="#441158"/><rect x="330.90" y="217.07" width="1.95" height="1.94" fill="#65167d"/><rect x="332.70" y="217.07" width="1.95" height="1.94" fill="#681780"/><rect x="334.50" y="217.07" width="1.95" height="1.94" fill="#681780"/><rect x="336.30" y="217.07" width="1.95" height="1.94" fill="#851d97"/><rect x="338.10" y="217.07" width="1.95" height="1.94" fill="#871d99"/><rect x="339.90" y="217.07" width="1.95" height="1.94" fill="#931fa2"/><rect x="341.70" y="217.07" width="1.95" height="1.94" fill="#9b22a1"/><rect x="343.50" y="217.07" width="1.95" height="1.94" fill="#ab2792"/><rect x="345.30" y="217.07" width="1.95" height="1.94" fill="#b32a8a"/><rect x="347.10" y="217.07" width="1.95" height="1.94" fill="#cc3274"/><rect x="348.90" y="217.07" width="1.95" height="1.94" fill="#cf3470"/><rect x="350.70" y="217.07" width="1.95" height="1.94" fill="#d64062"/><rect x="352.50" y="217.07" width="1.95" height="1.94" fill="#db4957"/></g><g shape-rendering="crispEdges"><rect x="300.30" y="218.86" width="1.95" height="1.94" fill="#f99320"/><rect x="302.10" y="218.86" width="1.95" height="1.94" fill="#f9921f"/><rect x="303.90" y="218.86" width="1.95" height="1.94" fill="#f9921f"/><rect x="305.70" y="218.86" width="1.95" height="1.94" fill="#f99320"/><rect x="307.50" y="218.86" width="1.95" height="1.94" fill="#f9921f"/><rect x="309.30" y="218.86" width="1.95" height="1.94" fill="#f9921f"/><rect x="311.10" y="218.86" width="1.95" height="1.94" fill="#f9921f"/><rect x="312.90" y="218.86" width="1.95" height="1.94" fill="#f9921f"/><rect x="314.70" y="218.86" width="1.21" height="1.94" fill="#fa9420"/><rect x="315.76" y="218.86" width="0.89" height="1.94" fill="#0e2a12"/><rect x="316.50" y="218.86" width="1.95" height="1.94" fill="#0e2912"/><rect x="318.30" y="218.86" width="1.95" height="1.94" fill="#103214"/><rect x="320.10" y="218.86" width="1.95" height="1.94" fill="#0f2c13"/><rect x="321.90" y="218.86" width="1.95" height="1.94" fill="#0f1c14"/><rect x="323.70" y="218.86" width="1.95" height="1.94" fill="#16111c"/><rect x="325.50" y="218.86" width="1.95" height="1.94" fill="#230f2c"/><rect x="327.30" y="218.86" width="1.95" height="1.94" fill="#39104a"/><rect x="329.10" y="218.86" width="1.95" height="1.94" fill="#49125d"/><rect x="330.90" y="218.86" width="1.95" height="1.94" fill="#67177f"/><rect x="332.70" y="218.86" width="1.95" height="1.94" fill="#681780"/><rect x="334.50" y="218.86" width="1.95" height="1.94" fill="#67177f"/><rect x="336.30" y="218.86" width="1.95" height="1.94" fill="#831c96"/><rect x="338.10" y="218.86" width="1.95" height="1.94" fill="#851d97"/><rect x="339.90" y="218.86" width="1.95" height="1.94" fill="#911fa1"/><rect x="341.70" y="218.86" width="1.95" height="1.94" fill="#9921a2"/><rect x="343.50" y="218.86" width="1.95" height="1.94" fill="#aa2693"/><rect x="345.30" y="218.86" width="1.95" height="1.94" fill="#b2298c"/><rect x="347.10" y="218.86" width="1.95" height="1.94" fill="#c93176"/><rect x="348.90" y="218.86" width="1.95" height="1.94" fill="#cd3273"/><rect x="350.70" y="218.86" width="1.95" height="1.94" fill="#d43d66"/><rect x="352.50" y="218.86" width="1.95" height="1.94" fill="#d9455c"/></g><g shape-rendering="crispEdges"><rect x="300.30" y="220.65" width="1.95" height="1.94" fill="#f99320"/><rect x="302.10" y="220.65" width="1.95" height="1.94" fill="#f99320"/><rect x="303.90" y="220.65" width="1.95" height="1.94" fill="#f9921f"/><rect x="305.70" y="220.65" width="1.95" height="1.94" fill="#f99320"/><rect x="307.50" y="220.65" width="1.95" height="1.94" fill="#f9921f"/><rect x="309.30" y="220.65" width="1.95" height="1.94" fill="#f9921f"/><rect x="311.10" y="220.65" width="1.95" height="1.94" fill="#f99320"/><rect x="312.90" y="220.65" width="1.95" height="1.94" fill="#f9921f"/><rect x="314.70" y="220.65" width="1.09" height="1.94" fill="#fa9420"/><rect x="315.64" y="220.65" width="1.01" height="1.94" fill="#0e2912"/><rect x="316.50" y="220.65" width="1.95" height="1.94" fill="#113215"/><rect x="318.30" y="220.65" width="1.95" height="1.94" fill="#113315"/><rect x="320.10" y="220.65" width="1.95" height="1.94" fill="#0e2912"/><rect x="321.90" y="220.65" width="1.95" height="1.94" fill="#0e2812"/><rect x="323.70" y="220.65" width="1.95" height="1.94" fill="#16111c"/><rect x="325.50" y="220.65" width="1.95" height="1.94" fill="#2d0f3b"/><rect x="327.30" y="220.65" width="1.95" height="1.94" fill="#451259"/><rect x="329.10" y="220.65" width="1.95" height="1.94" fill="#53146a"/><rect x="330.90" y="220.65" width="1.95" height="1.94" fill="#6f1886"/><rect x="332.70" y="220.65" width="1.95" height="1.94" fill="#6e1885"/><rect x="334.50" y="220.65" width="1.95" height="1.94" fill="#6c1883"/><rect x="336.30" y="220.65" width="1.95" height="1.94" fill="#881d9a"/><rect x="338.10" y="220.65" width="1.95" height="1.94" fill="#8a1e9b"/><rect x="339.90" y="220.65" width="1.95" height="1.94" fill="#9620a5"/><rect x="341.70" y="220.65" width="1.95" height="1.94" fill="#a0239c"/><rect x="343.50" y="220.65" width="1.95" height="1.94" fill="#b1298c"/><rect x="345.30" y="220.65" width="1.95" height="1.94" fill="#b82b86"/><rect x="347.10" y="220.65" width="1.95" height="1.94" fill="#cf356f"/><rect x="348.90" y="220.65" width="1.95" height="1.94" fill="#d1386c"/><rect x="350.70" y="220.65" width="1.95" height="1.94" fill="#d7435f"/><rect x="352.50" y="220.65" width="1.95" height="1.94" fill="#dd4b55"/></g><g shape-rendering="crispEdges"><rect x="300.30" y="222.44" width="1.95" height="1.94" fill="#fa9420"/><rect x="302.10" y="222.44" width="1.95" height="1.94" fill="#f99320"/><rect x="303.90" y="222.44" width="1.95" height="1.94" fill="#f99320"/><rect x="305.70" y="222.44" width="1.95" height="1.94" fill="#fa9420"/><rect x="307.50" y="222.44" width="1.95" height="1.94" fill="#f99320"/><rect x="309.30" y="222.44" width="1.95" height="1.94" fill="#f99320"/><rect x="311.10" y="222.44" width="1.95" height="1.94" fill="#f99320"/><rect x="312.90" y="222.44" width="1.95" height="1.94" fill="#f99320"/><rect x="314.70" y="222.44" width="0.97" height="1.94" fill="#fa9420"/><rect x="315.52" y="222.44" width="1.13" height="1.94" fill="#0d2012"/><rect x="316.50" y="222.44" width="1.95" height="1.94" fill="#0f2d13"/><rect x="318.30" y="222.44" width="1.95" height="1.94" fill="#0d2511"/><rect x="320.10" y="222.44" width="1.95" height="1.94" fill="#15121b"/><rect x="321.90" y="222.44" width="1.95" height="1.94" fill="#200e29"/><rect x="323.70" y="222.44" width="1.95" height="1.94" fill="#260f31"/><rect x="325.50" y="222.44" width="1.95" height="1.94" fill="#411154"/><rect x="327.30" y="222.44" width="1.95" height="1.94" fill="#5e1576"/><rect x="329.10" y="222.44" width="1.95" height="1.94" fill="#6a1782"/><rect x="330.90" y="222.44" width="1.95" height="1.94" fill="#851d98"/><rect x="332.70" y="222.44" width="1.95" height="1.94" fill="#831c96"/><rect x="334.50" y="222.44" width="1.95" height="1.94" fill="#7f1b93"/><rect x="336.30" y="222.44" width="1.95" height="1.94" fill="#9c229f"/><rect x="338.10" y="222.44" width="1.95" height="1.94" fill="#9f239d"/><rect x="339.90" y="222.44" width="1.95" height="1.94" fill="#ae288f"/><rect x="341.70" y="222.44" width="1.95" height="1.94" fill="#b82b86"/><rect x="343.50" y="222.44" width="1.95" height="1.94" fill="#ca3176"/><rect x="345.30" y="222.44" width="1.95" height="1.94" fill="#cf366e"/><rect x="347.10" y="222.44" width="1.95" height="1.94" fill="#df4f50"/><rect x="348.90" y="222.44" width="1.95" height="1.94" fill="#e1514d"/><rect x="350.70" y="222.44" width="1.95" height="1.94" fill="#e75c41"/><rect x="352.50" y="222.44" width="1.95" height="1.94" fill="#ec6437"/></g><g shape-rendering="crispEdges"><rect x="300.30" y="224.23" width="1.95" height="1.94" fill="#f99320"/><rect x="302.10" y="224.23" width="1.95" height="1.94" fill="#f99320"/><rect x="303.90" y="224.23" width="1.95" height="1.94" fill="#f99320"/><rect x="305.70" y="224.23" width="1.95" height="1.94" fill="#f99320"/><rect x="307.50" y="224.23" width="1.95" height="1.94" fill="#f99320"/><rect x="309.30" y="224.23" width="1.95" height="1.94" fill="#f9921f"/><rect x="311.10" y="224.23" width="1.95" height="1.94" fill="#f99320"/><rect x="312.90" y="224.23" width="1.95" height="1.94" fill="#f99320"/><rect x="314.70" y="224.23" width="0.85" height="1.94" fill="#fa9420"/><rect x="315.40" y="224.23" width="1.25" height="1.94" fill="#0d2711"/><rect x="316.50" y="224.23" width="1.95" height="1.94" fill="#0c2310"/><rect x="318.30" y="224.23" width="1.95" height="1.94" fill="#101b15"/><rect x="320.10" y="224.23" width="1.95" height="1.94" fill="#0f1d14"/><rect x="321.90" y="224.23" width="1.95" height="1.94" fill="#1e0e26"/><rect x="323.70" y="224.23" width="1.95" height="1.94" fill="#2f0f3d"/><rect x="325.50" y="224.23" width="1.95" height="1.94" fill="#4b125f"/><rect x="327.30" y="224.23" width="1.95" height="1.94" fill="#601579"/><rect x="329.10" y="224.23" width="1.95" height="1.94" fill="#6a1782"/><rect x="330.90" y="224.23" width="1.95" height="1.94" fill="#821c95"/><rect x="332.70" y="224.23" width="1.95" height="1.94" fill="#7f1b92"/><rect x="334.50" y="224.23" width="1.95" height="1.94" fill="#7a1a8e"/><rect x="336.30" y="224.23" width="1.95" height="1.94" fill="#9620a5"/><rect x="338.10" y="224.23" width="1.95" height="1.94" fill="#9821a3"/><rect x="339.90" y="224.23" width="1.95" height="1.94" fill="#a82695"/><rect x="341.70" y="224.23" width="1.95" height="1.94" fill="#b2298c"/><rect x="343.50" y="224.23" width="1.95" height="1.94" fill="#c22f7d"/><rect x="345.30" y="224.23" width="1.95" height="1.94" fill="#c93177"/><rect x="347.10" y="224.23" width="1.95" height="1.94" fill="#d9465b"/><rect x="348.90" y="224.23" width="1.95" height="1.94" fill="#db4858"/><rect x="350.70" y="224.23" width="1.95" height="1.94" fill="#e1524c"/><rect x="352.50" y="224.23" width="1.95" height="1.94" fill="#e65a43"/></g><g shape-rendering="crispEdges"><rect x="300.30" y="226.02" width="1.95" height="1.94" fill="#fa9420"/><rect x="302.10" y="226.02" width="1.95" height="1.94" fill="#f99320"/><rect x="303.90" y="226.02" width="1.95" height="1.94" fill="#f99320"/><rect x="305.70" y="226.02" width="1.95" height="1.94" fill="#f99420"/><rect x="307.50" y="226.02" width="1.95" height="1.94" fill="#f99320"/><rect x="309.30" y="226.02" width="1.95" height="1.94" fill="#f99320"/><rect x="311.10" y="226.02" width="1.95" height="1.94" fill="#f99320"/><rect x="312.90" y="226.02" width="1.95" height="1.94" fill="#f99320"/><rect x="314.70" y="226.02" width="0.73" height="1.94" fill="#fa9420"/><rect x="315.28" y="226.02" width="1.37" height="1.94" fill="#0f1d14"/><rect x="316.50" y="226.02" width="1.95" height="1.94" fill="#0f1e13"/><rect x="318.30" y="226.02" width="1.95" height="1.94" fill="#0d2011"/><rect x="320.10" y="226.02" width="1.95" height="1.94" fill="#220f2b"/><rect x="321.90" y="226.02" width="1.95" height="1.94" fill="#351045"/><rect x="323.70" y="226.02" width="1.95" height="1.94" fill="#451259"/><rect x="325.50" y="226.02" width="1.95" height="1.94" fill="#61167a"/><rect x="327.30" y="226.02" width="1.95" height="1.94" fill="#721988"/><rect x="329.10" y="226.02" width="1.95" height="1.94" fill="#7a1a8e"/><rect x="330.90" y="226.02" width="1.95" height="1.94" fill="#8e1e9f"/><rect x="332.70" y="226.02" width="1.95" height="1.94" fill="#8b1e9c"/><rect x="334.50" y="226.02" width="1.95" height="1.94" fill="#851d98"/><rect x="336.30" y="226.02" width="1.95" height="1.94" fill="#a42598"/><rect x="338.10" y="226.02" width="1.95" height="1.94" fill="#a62596"/><rect x="339.90" y="226.02" width="1.95" height="1.94" fill="#b62a88"/><rect x="341.70" y="226.02" width="1.95" height="1.94" fill="#bf2d80"/><rect x="343.50" y="226.02" width="1.95" height="1.94" fill="#cf3570"/><rect x="345.30" y="226.02" width="1.95" height="1.94" fill="#d33c68"/><rect x="347.10" y="226.02" width="1.95" height="1.94" fill="#e2534b"/><rect x="348.90" y="226.02" width="1.95" height="1.94" fill="#e35549"/><rect x="350.70" y="226.02" width="1.95" height="1.94" fill="#e95f3d"/><rect x="352.50" y="226.02" width="1.95" height="1.94" fill="#ec6537"/></g><g shape-rendering="crispEdges"><rect x="300.30" y="227.81" width="1.95" height="1.94" fill="#f99320"/><rect x="302.10" y="227.81" width="1.95" height="1.94" fill="#f99320"/><rect x="303.90" y="227.81" width="1.95" height="1.94" fill="#f99320"/><rect x="305.70" y="227.81" width="1.95" height="1.94" fill="#f99320"/><rect x="307.50" y="227.81" width="1.95" height="1.94" fill="#f9921f"/><rect x="309.30" y="227.81" width="1.95" height="1.94" fill="#f9921f"/><rect x="311.10" y="227.81" width="1.95" height="1.94" fill="#f99320"/><rect x="312.90" y="227.81" width="1.95" height="1.94" fill="#f9921f"/><rect x="314.70" y="227.81" width="0.61" height="1.94" fill="#fa9420"/><rect x="315.16" y="227.81" width="1.49" height="1.94" fill="#17101d"/><rect x="316.50" y="227.81" width="1.95" height="1.94" fill="#1f0e27"/><rect x="318.30" y="227.81" width="1.95" height="1.94" fill="#1d0e25"/><rect x="320.10" y="227.81" width="1.95" height="1.94" fill="#351045"/><rect x="321.90" y="227.81" width="1.95" height="1.94" fill="#49125e"/><rect x="323.70" y="227.81" width="1.95" height="1.94" fill="#53146a"/><rect x="325.50" y="227.81" width="1.95" height="1.94" fill="#67177f"/><rect x="327.30" y="227.81" width="1.95" height="1.94" fill="#711987"/><rect x="329.10" y="227.81" width="1.95" height="1.94" fill="#75198b"/><rect x="330.90" y="227.81" width="1.95" height="1.94" fill="#881d9a"/><rect x="332.70" y="227.81" width="1.95" height="1.94" fill="#831c96"/><rect x="334.50" y="227.81" width="1.95" height="1.94" fill="#7e1b92"/><rect x="336.30" y="227.81" width="1.95" height="1.94" fill="#9a21a1"/><rect x="338.10" y="227.81" width="1.95" height="1.94" fill="#9d229f"/><rect x="339.90" y="227.81" width="1.95" height="1.94" fill="#ac2791"/><rect x="341.70" y="227.81" width="1.95" height="1.94" fill="#b52a89"/><rect x="343.50" y="227.81" width="1.95" height="1.94" fill="#c52f7a"/><rect x="345.30" y="227.81" width="1.95" height="1.94" fill="#cb3175"/><rect x="347.10" y="227.81" width="1.95" height="1.94" fill="#da465a"/><rect x="348.90" y="227.81" width="1.95" height="1.94" fill="#db4859"/><rect x="350.70" y="227.81" width="1.95" height="1.94" fill="#e0514e"/><rect x="352.50" y="227.81" width="1.95" height="1.94" fill="#e45747"/></g><rect x="300.3" y="143.7" width="54.0" height="85.9" fill="none" stroke="#111" stroke-width="0.9"/><path d="M300.8 154.8H353.8" stroke="#fff" stroke-width="0.7" stroke-dasharray="1.4 0.9" opacity="0.95"/><path d="M300.8 178.7H353.8" stroke="#fff" stroke-width="0.7" stroke-dasharray="1.4 0.9" opacity="0.95"/><path d="M300.8 215.0H353.8" stroke="#fff" stroke-width="0.7" stroke-dasharray="1.4 0.9" opacity="0.95"/><defs><linearGradient id="cb" x1="0" y1="0" x2="0" y2="1"><stop offset="0.0%" stop-color="rgb(250, 150, 32)"/><stop offset="25.0%" stop-color="rgb(247, 134, 30)"/><stop offset="35.0%" stop-color="rgb(236, 100, 50)"/><stop offset="43.3%" stop-color="rgb(205, 50, 115)"/><stop offset="50.0%" stop-color="rgb(150, 32, 165)"/><stop offset="56.7%" stop-color="rgb(100, 22, 125)"/><stop offset="63.3%" stop-color="rgb(58, 16, 76)"/><stop offset="71.7%" stop-color="rgb(24, 14, 30)"/><stop offset="81.7%" stop-color="rgb(12, 34, 16)"/><stop offset="100.0%" stop-color="rgb(20, 62, 24)"/></linearGradient></defs><rect x="357.4" y="146.2" width="4.1" height="38" fill="url(#cb)"/><g font-size="6.4" font-weight="bold" fill="#111"><text transform="translate(362.7 150.4) scale(0.93 1)" text-anchor="start">1</text><text transform="translate(362.7 168.4) scale(0.93 1)" text-anchor="start">0.85</text><text transform="translate(362.7 184.8) scale(0.93 1)" text-anchor="start">0.7</text><text transform="translate(298.8 157.1) scale(0.93 1)" text-anchor="end">530</text><text transform="translate(298.8 181.0) scale(0.93 1)" text-anchor="end">400</text><text transform="translate(298.8 217.3) scale(0.93 1)" text-anchor="end">200</text><text transform="translate(298.8 232.5) scale(0.93 1)" text-anchor="end">100</text><text transform="translate(309.1 236.4) scale(0.93 1)" text-anchor="middle">0</text><text transform="translate(333.1 236.4) scale(0.93 1)" text-anchor="middle">500</text><text transform="translate(351.1 236.4) scale(0.93 1)" text-anchor="middle">800</text><text transform="translate(328.3 243.0) scale(0.93 1)" text-anchor="middle">Time /ps</text><text transform="translate(285.6 189.4) rotate(-90) scale(0.93 1)" text-anchor="middle">Depth /µm</text></g><path d="M315.3 237.3V231.6M313.3 233.9L315.3 231.4L317.3 233.9" stroke="#111" stroke-width="1" fill="none"/></svg></body></html>
